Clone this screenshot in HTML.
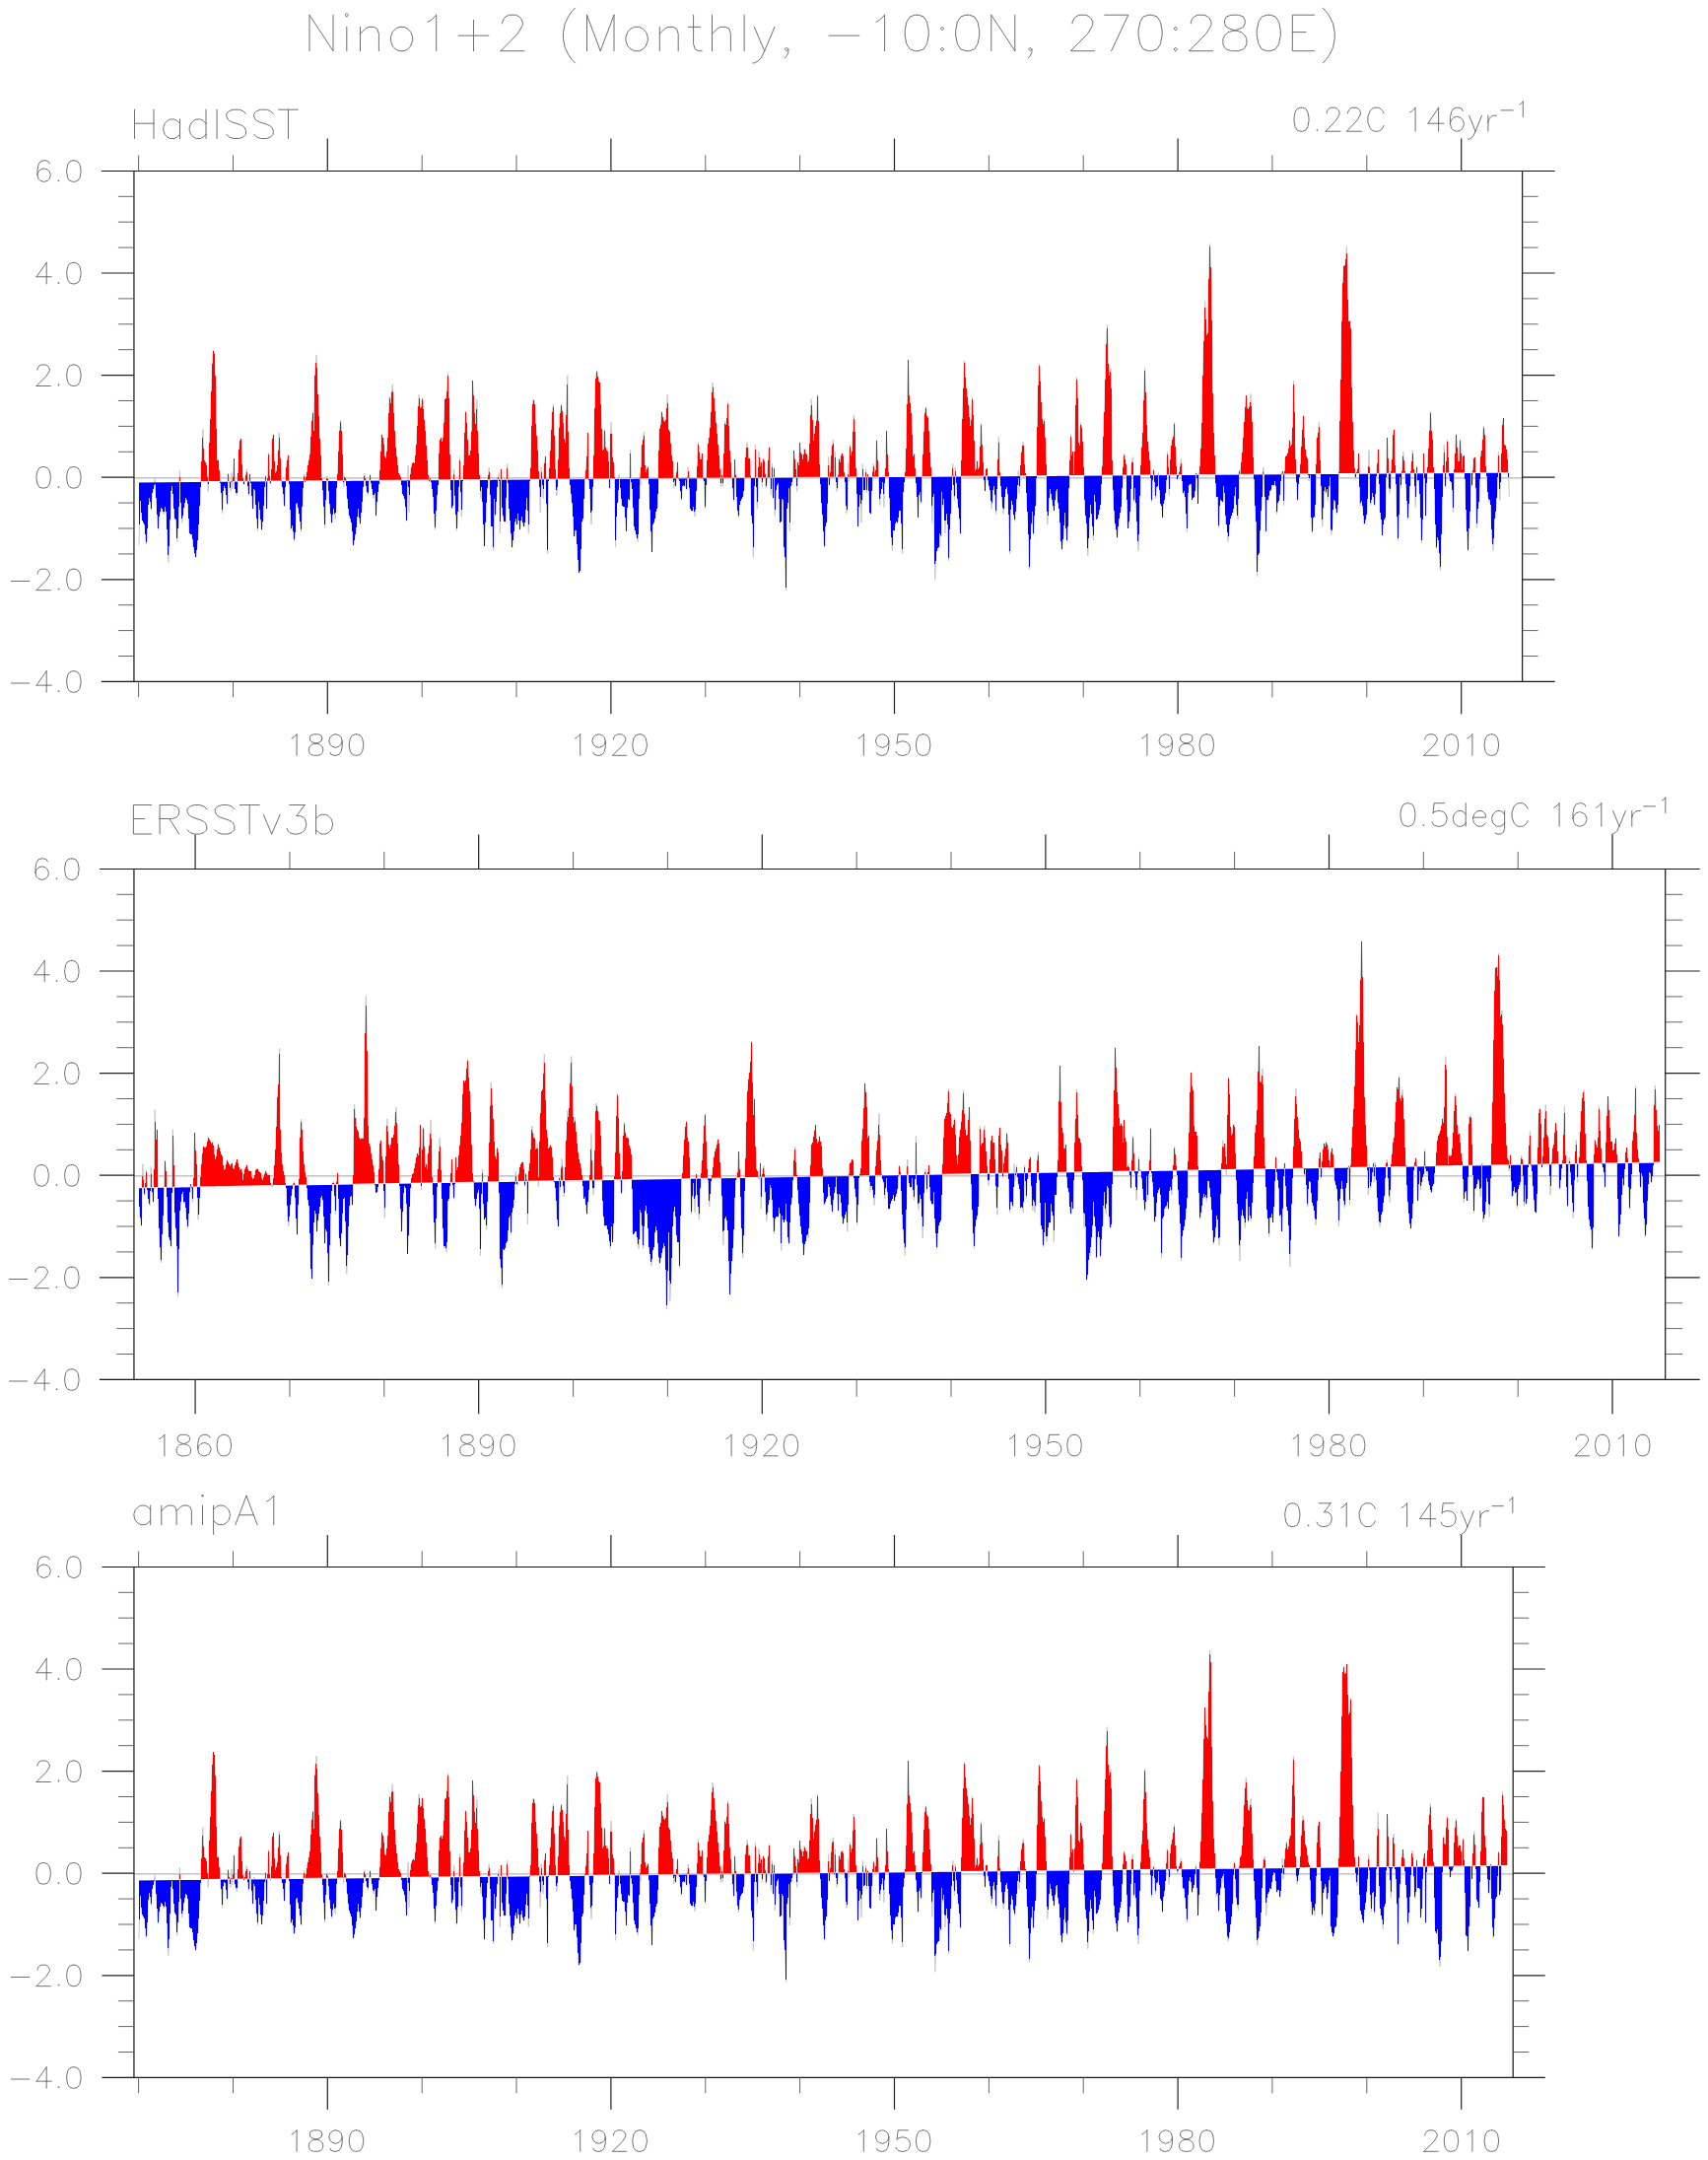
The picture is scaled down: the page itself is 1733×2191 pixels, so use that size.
<!DOCTYPE html>
<html><head><meta charset="utf-8"><title>Nino1+2</title>
<style>html,body{margin:0;padding:0;background:#fff;font-family:"Liberation Sans",sans-serif}svg{display:block}</style>
</head><body>
<svg width="1733" height="2191" viewBox="0 0 1733 2191">
<rect width="1733" height="2191" fill="#fff"/>
<path d="M338.0 51.7L314.0 15.2M314.0 15.2L314.0 51.7M338.0 15.2L338.0 51.7M351.8 51.7L351.8 27.4M351.8 16.9L353.5 15.2L351.8 13.5L350.0 15.2L351.8 16.9M365.5 51.7L365.5 34.3M384.4 51.7L384.4 34.3L382.7 29.1L379.2 27.4L374.1 27.4L370.6 29.1L365.5 34.3M365.5 27.4L365.5 34.3M417.0 45.6L417.0 46.5L413.6 50.0L410.1 51.7L405.0 51.7L401.5 50.0L398.1 46.5L396.4 41.3L396.4 37.8L398.1 32.6L401.5 29.1L405.0 27.4L410.1 27.4L413.6 29.1L417.0 32.6L418.7 37.8L418.7 41.3L417.0 45.6M442.7 51.7L442.7 15.2M434.2 22.2L437.6 20.4L442.7 15.2M480.5 36.1L495.9 36.1M480.5 36.1L465.1 36.1M480.5 36.1L480.5 51.7M480.5 36.1L480.5 20.4M509.7 23.9L509.7 22.2L511.4 18.7L513.1 16.9L516.5 15.2L523.4 15.2L526.8 16.9L528.6 18.7L530.3 22.2L530.3 25.6L525.1 34.3L508.0 51.7M508.0 51.7L532.0 51.7M583.5 63.9L580.1 60.4L576.6 55.2L573.2 48.2L571.5 39.5L571.5 32.6L573.2 23.9L576.6 16.9L580.1 11.7L583.5 8.2M595.5 15.2L595.5 51.7M623.0 51.7L623.0 15.2M609.2 51.7L595.5 15.2M609.2 51.7L623.0 15.2M655.6 45.6L655.6 46.5L652.2 50.0L648.7 51.7L643.6 51.7L640.1 50.0L636.7 46.5L635.0 41.3L635.0 37.8L636.7 32.6L640.1 29.1L643.6 27.4L648.7 27.4L652.2 29.1L655.6 32.6L657.3 37.8L657.3 41.3L655.6 45.6M669.3 51.7L669.3 34.3M688.2 51.7L688.2 34.3L686.5 29.1L683.0 27.4L677.9 27.4L674.5 29.1L669.3 34.3M669.3 27.4L669.3 34.3M698.5 27.4L703.6 27.4M710.5 27.4L703.6 27.4M712.2 51.7L708.8 51.7L705.4 50.0L703.6 44.7L703.6 27.4M703.6 15.2L703.6 27.4M722.5 51.7L722.5 34.3M741.4 51.7L741.4 34.3L739.7 29.1L736.3 27.4L731.1 27.4L727.7 29.1L722.5 34.3M722.5 15.2L722.5 34.3M755.1 51.7L755.1 15.2M765.4 27.4L775.7 51.7M786.0 27.4L775.7 51.7M775.7 51.7L772.3 58.7L768.9 62.1L765.4 63.9L763.7 63.9M799.8 50.0L798.1 51.7L796.3 50.0L798.1 48.2L799.8 50.0M799.8 50.0L799.8 53.4L798.1 56.9L796.3 58.7M841.0 36.1L871.9 36.1M897.6 51.7L897.6 15.2M889.0 22.2L892.5 20.4L897.6 15.2M930.2 15.2L931.9 15.2L937.1 16.9L940.5 22.2L942.2 30.8L942.2 36.1L940.5 44.7L937.1 50.0L931.9 51.7L928.5 51.7L923.4 50.0L919.9 44.7L918.2 36.1L918.2 30.8L919.9 22.2L923.4 16.9L928.5 15.2L930.2 15.2M956.0 27.4L957.7 29.1L956.0 30.8L954.3 29.1L956.0 27.4M956.0 51.7L954.3 50.0L956.0 48.2L957.7 50.0L956.0 51.7M981.7 15.2L983.4 15.2L988.6 16.9L992.0 22.2L993.7 30.8L993.7 36.1L992.0 44.7L988.6 50.0L983.4 51.7L980.0 51.7L974.9 50.0L971.4 44.7L969.7 36.1L969.7 30.8L971.4 22.2L974.9 16.9L980.0 15.2L981.7 15.2M1029.8 51.7L1005.8 15.2M1005.8 15.2L1005.8 51.7M1029.8 15.2L1029.8 51.7M1046.9 50.0L1045.2 51.7L1043.5 50.0L1045.2 48.2L1046.9 50.0M1046.9 50.0L1046.9 53.4L1045.2 56.9L1043.5 58.7M1088.1 23.9L1088.1 22.2L1089.9 18.7L1091.6 16.9L1095.0 15.2L1101.9 15.2L1105.3 16.9L1107.0 18.7L1108.7 22.2L1108.7 25.6L1103.6 34.3L1086.4 51.7M1086.4 51.7L1110.5 51.7M1127.6 51.7L1144.8 15.2L1120.8 15.2M1167.1 15.2L1168.8 15.2L1174.0 16.9L1177.4 22.2L1179.1 30.8L1179.1 36.1L1177.4 44.7L1174.0 50.0L1168.8 51.7L1165.4 51.7L1160.2 50.0L1156.8 44.7L1155.1 36.1L1155.1 30.8L1156.8 22.2L1160.2 16.9L1165.4 15.2L1167.1 15.2M1192.8 27.4L1194.6 29.1L1192.8 30.8L1191.1 29.1L1192.8 27.4M1192.8 51.7L1191.1 50.0L1192.8 48.2L1194.6 50.0L1192.8 51.7M1208.3 23.9L1208.3 22.2L1210.0 18.7L1211.7 16.9L1215.2 15.2L1222.0 15.2L1225.5 16.9L1227.2 18.7L1228.9 22.2L1228.9 25.6L1223.7 34.3L1206.6 51.7M1206.6 51.7L1230.6 51.7M1252.9 30.8L1259.8 32.6L1263.2 36.1L1264.9 39.5L1264.9 44.7L1263.2 48.2L1261.5 50.0L1256.4 51.7L1249.5 51.7L1244.3 50.0L1242.6 48.2L1240.9 44.7L1240.9 39.5L1242.6 36.1L1246.1 32.6L1252.9 30.8M1252.9 30.8L1258.1 29.1L1261.5 27.4L1263.2 23.9L1263.2 20.4L1261.5 16.9L1256.4 15.2L1249.5 15.2L1244.3 16.9L1242.6 20.4L1242.6 23.9L1244.3 27.4L1247.8 29.1L1252.9 30.8M1287.3 15.2L1289.0 15.2L1294.1 16.9L1297.6 22.2L1299.3 30.8L1299.3 36.1L1297.6 44.7L1294.1 50.0L1289.0 51.7L1285.5 51.7L1280.4 50.0L1277.0 44.7L1275.2 36.1L1275.2 30.8L1277.0 22.2L1280.4 16.9L1285.5 15.2L1287.3 15.2M1311.3 32.6L1325.0 32.6M1311.3 32.6L1311.3 51.7L1333.6 51.7M1311.3 32.6L1311.3 15.2L1333.6 15.2M1342.2 8.2L1345.6 11.7L1349.1 16.9L1352.5 23.9L1354.2 32.6L1354.2 39.5L1352.5 48.2L1349.1 55.2L1345.6 60.4L1342.2 63.9" stroke="#707070" stroke-width="1.0" fill="none" stroke-linecap="round" stroke-linejoin="round"/>
<path d="M135.95 484.8H1544.6" stroke="#b4b4b4" stroke-width="1.2" fill="none"/>
<path d="M140.9 553.1L142.3 505.7L144.1 526.7L146.7 532.0L148.4 552.2L149.7 533.8L150.7 507.4L152.0 503.0L153.4 518.0L154.6 498.6L156.3 494.2L157.2 486.3L158.1 498.6L159.0 512.7L160.4 537.3L161.6 523.2L163.4 514.4L165.1 516.2L166.0 521.5L167.8 512.7L169.0 523.2L170.8 570.6L172.2 537.3L173.4 498.6L174.8 491.6L176.0 507.4L177.1 526.7L178.3 523.2L179.7 549.6L181.3 523.2L182.3 477.5L183.2 505.7L184.8 530.2L186.2 516.2L188.8 503.9L190.6 510.9L192.4 540.8L195.0 542.5L196.7 556.6L198.5 565.4L200.3 551.3L201.7 528.5L202.9 505.7L203.8 488.6L204.7 463.5L205.9 435.4L206.9 467.0L208.2 467.9L209.4 470.5L210.4 481.1L211.2 498.6L211.9 482.8L212.6 444.2L214.0 414.3L215.2 373.9L216.4 355.5L217.8 359.9L218.7 386.2L219.6 440.7L220.5 467.0L221.3 465.3L222.7 479.3L223.4 488.4L224.9 503.9L225.7 520.6L226.6 495.1L228.0 491.6L229.2 498.6L230.5 510.9L231.4 480.2L232.8 489.8L234.0 498.6L235.0 479.3L235.9 496.0L237.5 465.3L238.4 495.1L240.3 503.0L241.2 488.3L242.4 456.5L243.8 445.1L244.7 445.1L245.6 474.0L246.8 488.3L247.7 491.6L249.1 484.6L250.3 475.8L251.2 489.8L252.4 503.0L253.5 481.1L254.7 491.6L256.5 516.2L257.9 488.2L259.1 505.7L261.4 539.0L262.6 507.4L263.8 519.7L265.6 538.2L267.0 523.2L268.8 488.1L269.6 482.8L270.5 516.2L271.4 488.1L272.6 459.1L273.7 488.1L274.4 491.6L275.4 481.1L276.3 445.9L277.5 440.7L279.0 481.1L280.2 479.3L281.9 470.5L283.3 438.9L284.6 467.0L285.6 489.0L287.2 496.9L288.6 513.6L289.8 488.0L290.7 470.5L292.5 461.7L293.4 489.0L294.2 505.7L295.1 537.3L296.9 532.0L298.3 548.7L299.5 540.8L300.7 505.7L302.1 512.7L303.9 523.2L305.7 539.0L306.5 514.4L307.8 489.0L308.8 481.1L309.5 489.0L310.9 482.8L312.7 470.5L314.4 463.5L316.2 430.1L317.6 417.8L318.3 449.4L319.4 382.7L321.1 359.9L322.0 389.7L323.2 412.6L324.1 438.9L325.3 456.5L326.4 484.6L327.1 489.0L328.5 514.4L329.7 535.5L331.1 486.3L332.0 482.8L332.9 489.0L334.6 512.7L336.7 531.1L338.2 514.4L339.0 518.0L340.3 526.7L341.3 496.9L342.2 489.0L343.4 460.0L344.6 435.4L345.7 426.6L346.9 442.4L347.8 470.5L348.7 494.2L349.6 482.8L351.0 486.3L352.2 502.1L354.0 521.5L355.7 526.7L357.1 532.0L358.4 553.1L360.1 545.2L361.9 532.0L363.3 514.4L365.4 532.0L367.1 514.4L368.9 489.0L369.8 480.2L371.0 489.0L372.1 496.9L373.3 502.1L374.5 487.4L375.6 481.1L376.4 489.0L378.0 498.6L379.1 505.7L380.3 495.1L381.5 523.2L382.9 503.9L384.3 493.4L385.1 484.6L386.1 467.0L387.3 440.7L389.1 445.9L390.8 467.0L392.1 463.5L393.5 444.2L395.2 402.0L396.6 409.0L398.2 389.7L399.6 421.3L401.4 453.0L403.1 468.8L404.9 482.8L406.1 481.1L407.2 489.0L408.4 500.4L410.2 503.9L411.4 512.7L412.5 528.5L413.5 488.1L414.2 472.3L414.9 519.7L416.0 489.0L416.8 475.8L419.0 468.8L420.7 470.5L422.5 451.2L423.7 428.4L425.1 400.3L426.9 417.8L428.6 403.8L430.0 421.3L431.4 435.4L432.6 453.0L434.4 481.1L435.6 489.0L436.7 484.6L437.9 490.7L439.7 505.7L441.4 537.3L443.2 505.7L444.9 488.1L445.8 447.7L447.6 444.2L449.0 449.4L450.2 437.1L451.4 405.5L453.2 403.8L454.4 378.3L455.5 403.8L456.3 453.0L457.2 485.5L458.1 516.2L459.5 512.7L460.7 475.8L461.6 505.7L463.4 538.2L464.8 514.4L465.7 488.1L466.4 463.5L467.2 488.1L468.3 524.1L469.5 488.1L470.4 475.8L471.3 444.2L472.5 417.8L473.9 433.6L475.3 461.7L477.1 461.7L478.3 449.4L479.5 386.2L480.9 407.3L482.3 433.6L484.1 405.5L484.5 437.1L485.9 468.8L486.7 485.5L488.0 505.7L488.8 488.1L489.7 514.4L491.5 554.0L493.2 514.4L495.0 488.1L496.2 474.0L497.1 488.1L498.5 533.8L499.9 533.8L500.6 558.4L501.5 505.7L502.4 523.2L503.8 505.7L505.0 486.5L506.4 479.3L507.3 540.8L508.5 475.8L509.4 514.4L511.2 528.5L512.9 528.5L514.0 486.4L514.7 470.5L515.4 486.4L516.4 514.4L517.8 532.0L519.6 555.7L521.3 540.8L523.1 523.2L524.5 532.0L525.7 519.7L527.5 537.3L529.2 521.5L531.0 533.8L532.2 533.8L533.6 516.2L534.9 500.4L536.3 540.8L537.5 488.1L538.6 474.0L539.8 417.8L541.0 404.7L542.4 407.3L543.8 435.4L545.1 447.7L546.3 475.8L547.3 486.2L548.2 519.7L549.1 474.0L550.3 488.1L551.2 505.7L552.4 470.5L553.5 462.6L554.4 505.7L555.6 561.9L556.5 488.1L557.9 470.5L559.1 444.2L560.3 419.6L561.4 409.9L562.6 444.2L563.8 486.0L564.9 503.0L566.1 486.0L567.0 442.4L568.4 419.6L569.6 410.8L571.1 421.3L572.3 444.2L573.5 449.4L574.4 424.9L575.8 380.9L576.7 453.0L577.9 486.0L579.3 498.6L581.1 516.2L582.5 544.3L584.2 533.8L586.0 558.4L587.2 581.2L589.0 577.7L590.2 530.2L592.0 525.0L593.0 488.1L594.2 481.1L595.5 463.5L596.5 438.9L597.4 485.8L598.6 496.9L600.0 532.0L601.3 496.9L602.1 485.8L603.0 435.4L604.2 386.2L605.7 375.7L607.1 386.2L608.6 388.0L610.0 421.3L611.3 456.5L612.3 460.0L613.6 435.4L614.8 460.0L616.2 454.7L617.6 468.8L618.5 495.1L619.4 442.4L620.2 428.4L621.1 461.7L622.9 470.5L623.7 488.1L624.6 554.8L625.9 510.9L627.1 509.2L628.1 481.1L629.4 493.4L631.1 512.7L633.8 514.4L635.5 539.0L636.9 505.7L638.5 507.4L639.6 456.5L640.4 488.1L641.7 496.9L643.4 533.8L645.2 540.8L647.3 549.6L648.3 514.4L649.2 479.3L650.1 491.6L651.0 453.0L652.2 449.4L653.4 438.0L654.3 470.5L655.4 479.3L656.6 475.8L657.8 473.2L658.4 488.1L659.2 509.2L660.5 539.0L661.5 560.1L662.4 532.0L664.1 528.5L665.4 519.7L667.1 514.4L668.0 485.3L668.9 435.4L670.3 433.6L671.5 417.8L672.9 424.9L674.2 428.4L675.9 424.9L677.3 400.3L678.2 435.4L679.8 438.9L681.2 460.0L682.6 468.8L683.3 485.2L683.8 495.1L684.7 485.2L685.6 493.4L686.5 479.3L687.5 468.8L688.2 485.2L689.6 488.1L691.4 507.4L692.6 491.6L694.4 493.4L695.6 486.3L696.6 496.9L698.2 474.0L699.1 486.3L700.5 516.2L702.3 518.8L703.7 512.7L705.1 524.1L706.1 505.7L707.2 485.0L708.2 448.6L709.3 458.2L711.0 468.8L712.5 460.0L713.2 485.0L714.6 488.1L715.6 516.2L716.8 485.0L718.1 453.0L720.2 438.9L721.6 416.1L723.0 388.0L724.2 400.3L726.0 423.1L727.7 442.4L730.0 467.0L730.7 479.3L731.4 493.4L732.1 474.9L733.2 493.4L733.9 484.9L734.7 453.0L735.6 427.5L737.0 433.6L738.4 407.3L739.5 431.9L740.5 456.5L741.6 470.5L742.6 484.8L743.7 496.9L744.6 508.3L745.5 466.1L746.7 484.8L747.9 512.7L749.3 525.0L750.7 510.0L752.5 505.7L754.2 503.0L755.5 484.7L756.3 466.1L758.1 448.6L759.5 465.3L760.7 465.3L761.6 484.7L762.5 523.2L763.7 532.0L764.4 565.4L765.1 505.7L765.8 484.6L766.4 451.2L767.2 484.6L768.3 516.2L769.2 484.6L770.0 458.2L771.3 474.0L772.5 468.8L773.4 493.4L774.3 465.3L776.0 468.8L777.1 495.1L778.3 488.1L779.2 470.5L780.6 453.0L781.5 484.5L782.3 502.1L783.4 470.5L784.5 505.7L785.5 474.9L786.2 523.2L787.6 495.1L788.8 491.6L790.1 488.1L791.1 530.2L792.9 528.5L794.1 484.4L795.3 553.1L796.4 561.9L797.6 598.8L798.5 516.2L799.9 507.4L800.6 493.4L801.3 539.0L802.4 493.4L803.8 488.1L804.7 484.4L805.5 457.3L806.9 468.8L808.2 484.3L808.7 498.6L809.4 468.8L810.4 474.9L811.5 449.4L812.6 460.0L814.0 460.9L814.8 468.8L816.1 454.7L817.5 460.0L818.7 460.9L819.9 472.3L821.0 465.3L821.7 444.2L823.1 404.7L824.5 425.7L825.7 451.2L827.0 433.6L828.4 430.1L829.6 400.3L830.5 426.6L831.5 470.5L832.2 484.2L833.3 507.4L834.5 521.5L835.7 542.5L836.6 554.8L837.5 533.8L838.9 528.5L839.8 503.9L840.7 463.5L841.5 491.6L842.4 481.1L843.8 456.5L845.4 445.9L846.5 484.1L847.3 458.2L848.2 484.1L849.1 498.6L850.3 488.1L851.2 464.9L852.6 469.6L853.8 460.0L855.4 460.9L856.5 479.3L857.3 484.0L858.8 520.6L860.0 514.4L860.7 468.8L861.4 488.1L862.3 451.2L863.5 461.7L864.9 456.5L866.1 421.3L867.4 431.9L868.2 470.5L869.1 483.9L870.0 519.7L870.5 533.8L871.9 505.7L873.2 498.6L874.0 530.2L875.3 470.5L876.3 496.9L877.5 496.9L878.4 475.8L879.3 500.4L880.5 481.1L881.4 495.1L882.5 519.7L883.7 521.5L884.6 495.1L885.5 479.3L886.3 470.5L887.7 483.8L888.6 475.8L889.5 446.8L890.7 470.5L891.6 483.8L892.8 512.7L893.7 498.6L895.1 493.4L896.0 482.8L896.9 514.4L897.7 483.7L898.6 474.0L899.5 437.1L900.7 465.3L901.8 483.7L903.0 519.7L904.2 539.0L905.3 558.4L906.2 537.3L907.4 539.0L908.8 528.5L910.9 530.2L912.7 516.2L914.1 519.7L915.7 561.9L916.5 498.6L917.6 488.1L918.3 483.6L919.4 460.0L920.2 424.9L921.5 365.1L922.7 407.3L924.1 410.8L925.3 435.4L926.4 463.5L928.0 460.0L928.8 483.5L930.2 496.9L931.5 525.0L932.5 502.1L933.8 498.6L934.6 510.9L935.5 483.5L936.9 453.0L938.2 421.3L939.4 412.6L940.8 424.9L942.0 423.1L943.1 453.0L944.3 470.5L945.2 483.4L945.7 530.2L946.9 491.6L947.8 505.7L948.7 588.2L949.9 560.1L951.3 556.6L952.7 554.8L953.6 539.0L954.8 544.3L955.7 488.1L956.6 514.4L957.8 503.9L958.9 540.8L960.1 516.2L961.5 532.0L962.6 568.9L963.6 533.8L965.0 514.4L965.9 484.2L966.8 470.5L967.5 491.6L968.4 507.4L969.2 474.0L970.1 484.2L971.5 505.7L973.3 523.2L974.5 541.7L975.2 484.2L975.9 445.9L977.1 405.5L978.6 366.0L979.8 388.0L981.2 400.3L982.9 414.3L984.3 433.6L985.6 424.9L986.6 402.9L987.9 428.4L988.7 453.0L989.6 481.1L990.5 475.8L991.7 467.0L993.0 481.1L994.0 467.0L995.4 429.2L996.6 453.0L997.9 475.8L998.8 491.6L999.6 498.6L1000.5 475.8L1001.7 474.9L1002.6 488.1L1003.7 493.4L1004.9 498.6L1006.1 516.2L1007.5 496.9L1008.8 491.6L1009.8 505.7L1010.7 521.5L1011.9 484.2L1013.3 443.3L1014.6 481.1L1015.4 491.6L1016.7 505.7L1018.1 521.5L1019.5 503.9L1020.7 495.1L1022.1 493.4L1023.3 514.4L1024.6 561.9L1025.6 512.7L1026.9 505.7L1028.6 523.2L1030.0 528.6L1030.9 511.0L1032.1 500.5L1033.2 477.7L1034.2 500.5L1035.3 474.2L1036.7 456.6L1038.3 447.8L1039.7 474.2L1040.9 482.7L1041.9 511.0L1043.2 528.6L1044.4 577.8L1045.8 539.2L1047.6 518.1L1048.4 542.7L1049.7 519.8L1051.1 507.5L1052.0 458.4L1053.2 398.6L1054.4 368.8L1055.8 391.6L1057.2 423.2L1058.6 430.2L1059.9 425.0L1060.9 456.6L1062.0 482.6L1062.7 532.1L1063.9 518.1L1065.1 493.5L1066.5 500.5L1067.8 509.3L1069.5 518.1L1070.8 504.0L1072.2 491.7L1073.6 511.0L1075.0 518.1L1076.2 546.2L1077.4 557.6L1078.8 544.4L1080.4 518.1L1081.5 535.6L1082.7 549.7L1083.8 528.6L1084.8 482.4L1085.9 458.4L1086.6 440.8L1087.6 463.6L1088.5 458.4L1089.4 482.4L1090.2 475.9L1091.1 425.0L1092.4 382.8L1093.6 405.7L1094.6 453.1L1095.7 451.3L1096.6 428.5L1098.2 437.3L1099.0 463.6L1099.9 482.3L1100.8 518.1L1102.4 528.6L1103.8 563.7L1105.2 528.6L1106.6 511.0L1108.2 528.6L1109.4 547.9L1110.8 490.0L1112.2 526.9L1114.0 525.1L1115.2 518.1L1116.4 514.6L1117.3 493.5L1118.2 482.2L1119.6 440.8L1121.0 405.7L1122.2 356.5L1123.4 329.2L1124.5 368.8L1125.7 382.8L1127.0 374.0L1127.8 405.7L1128.7 482.1L1129.8 502.3L1131.0 528.6L1132.2 533.9L1133.6 546.2L1134.9 528.6L1136.3 521.6L1137.5 514.6L1138.6 493.5L1139.4 475.9L1140.7 460.1L1141.9 468.0L1142.8 472.4L1143.6 511.0L1144.5 535.6L1145.9 526.9L1147.2 511.0L1148.0 472.4L1149.4 463.6L1150.3 509.3L1151.6 493.5L1153.0 518.1L1154.2 544.4L1155.1 558.5L1156.1 519.8L1157.0 481.9L1158.2 458.4L1159.6 437.3L1160.5 405.7L1161.6 373.2L1162.8 405.7L1163.8 440.8L1165.3 456.6L1166.5 467.1L1167.4 481.8L1168.4 509.3L1169.3 490.0L1170.3 475.9L1171.2 481.8L1172.3 505.8L1173.2 493.5L1174.4 495.2L1175.4 479.4L1176.3 493.5L1177.5 511.0L1178.6 512.8L1179.5 525.1L1180.5 511.0L1181.9 505.8L1182.8 497.0L1183.9 481.7L1184.6 458.4L1185.6 475.9L1186.3 502.3L1187.0 481.7L1187.7 460.1L1188.8 449.6L1189.8 444.3L1190.7 442.5L1191.6 428.5L1192.7 458.4L1193.7 475.9L1194.6 486.5L1196.0 481.6L1197.2 475.9L1198.3 465.4L1199.0 481.6L1200.4 500.5L1201.8 497.0L1203.0 509.3L1204.4 540.0L1205.7 493.5L1207.1 491.7L1208.3 488.2L1209.5 506.7L1210.9 504.0L1212.3 504.9L1213.0 481.5L1213.7 479.4L1214.4 482.4L1215.5 511.0L1216.5 482.4L1217.6 472.4L1218.8 449.6L1219.7 423.2L1220.6 375.8L1221.5 345.9L1222.7 305.5L1223.7 328.4L1224.6 340.7L1225.5 338.9L1226.4 286.2L1227.6 247.6L1228.7 275.7L1229.7 335.4L1230.6 405.7L1231.7 446.1L1232.5 461.9L1233.2 482.4L1234.1 504.0L1235.5 504.0L1236.6 535.6L1237.8 505.8L1239.4 507.5L1240.8 509.3L1241.8 486.5L1242.9 507.5L1243.9 532.1L1245.0 532.1L1246.1 549.7L1247.5 532.1L1248.7 525.1L1249.9 521.6L1251.3 518.1L1252.6 502.3L1253.6 493.5L1254.8 518.1L1256.2 526.9L1256.9 482.4L1257.6 476.8L1258.4 482.4L1259.2 472.4L1260.6 458.4L1261.9 437.3L1263.3 416.2L1264.5 401.3L1265.7 416.2L1267.1 414.4L1268.4 410.0L1269.1 399.5L1269.9 423.2L1270.6 428.5L1271.5 463.6L1272.4 482.4L1273.3 509.3L1274.5 528.6L1275.6 584.8L1276.4 563.7L1277.7 560.2L1279.1 521.6L1280.3 511.0L1281.2 482.4L1281.9 474.2L1282.6 482.4L1283.5 504.0L1284.5 539.2L1285.6 504.0L1286.8 507.5L1288.2 498.8L1289.6 497.0L1290.8 490.0L1292.1 493.5L1293.5 488.2L1294.7 493.5L1295.6 521.6L1296.6 509.3L1298.2 507.5L1299.3 490.0L1300.2 480.9L1301.4 477.7L1302.1 480.9L1302.6 512.8L1303.3 480.9L1304.4 463.6L1305.8 461.9L1307.2 458.4L1308.4 446.1L1309.3 453.1L1310.5 451.3L1311.6 432.0L1312.6 386.3L1313.5 418.0L1314.2 458.4L1315.1 480.8L1316.5 507.5L1317.7 488.2L1319.0 480.8L1319.8 465.4L1321.1 442.5L1322.5 421.5L1323.7 447.8L1325.1 461.9L1326.5 464.5L1327.4 480.7L1328.1 488.2L1329.1 480.7L1330.0 482.9L1330.5 525.1L1331.4 540.9L1332.6 523.3L1334.2 525.1L1335.3 479.4L1336.1 446.1L1337.4 440.8L1338.4 428.5L1339.3 463.6L1340.2 479.4L1340.9 511.0L1341.8 533.9L1342.8 507.5L1344.1 490.0L1345.3 500.5L1346.3 491.7L1347.2 507.5L1348.4 493.5L1349.7 482.9L1350.6 542.7L1351.6 537.4L1352.8 511.0L1354.1 504.0L1355.1 512.8L1356.3 521.6L1357.6 511.0L1358.5 479.4L1359.3 433.8L1360.2 405.7L1361.3 335.4L1362.3 291.5L1363.4 270.4L1365.1 268.6L1366.4 250.2L1367.2 295.0L1368.3 326.6L1370.4 324.9L1371.3 384.6L1372.2 418.0L1373.4 454.8L1374.4 472.4L1375.1 486.5L1376.2 479.4L1377.4 477.7L1378.5 460.1L1379.2 479.4L1379.9 512.8L1381.3 507.5L1382.2 511.0L1383.2 518.1L1384.1 532.1L1385.3 528.6L1386.6 521.6L1387.6 504.0L1388.3 480.3L1389.0 456.6L1389.7 480.3L1390.6 512.8L1391.5 507.5L1392.7 498.8L1393.6 504.0L1394.6 512.8L1395.7 498.8L1396.7 480.2L1397.6 468.9L1398.5 455.7L1399.2 480.2L1400.3 518.1L1401.7 528.6L1402.5 542.7L1403.8 528.6L1405.5 525.1L1406.6 480.2L1407.5 444.3L1408.5 465.4L1409.2 493.5L1410.3 500.5L1411.3 480.1L1412.6 465.4L1413.6 439.0L1414.7 435.5L1415.5 472.4L1416.2 480.1L1417.3 518.1L1418.4 548.8L1419.6 519.8L1420.6 480.1L1421.3 495.2L1422.4 480.1L1423.8 458.4L1424.9 472.4L1425.7 480.0L1427.0 497.0L1428.4 526.9L1429.8 507.5L1431.0 482.9L1432.2 472.4L1433.3 456.6L1434.3 474.2L1435.0 480.0L1436.3 514.6L1437.0 480.0L1437.7 472.4L1438.6 488.2L1439.8 486.5L1441.0 511.0L1442.4 550.6L1443.6 525.1L1444.5 460.1L1445.4 479.9L1446.5 523.3L1447.3 493.5L1448.2 479.9L1449.4 456.6L1450.5 437.3L1451.4 417.1L1452.4 435.5L1453.5 446.1L1454.4 472.4L1455.1 479.8L1456.1 519.8L1457.3 556.7L1458.8 542.7L1460.0 551.4L1461.4 578.7L1462.6 539.2L1463.5 504.0L1464.2 479.8L1465.3 451.3L1466.5 493.5L1467.0 479.7L1467.7 463.6L1468.6 446.1L1469.5 463.6L1470.2 479.7L1471.1 488.2L1473.2 489.1L1474.4 519.8L1475.3 479.7L1476.3 463.6L1477.5 440.8L1478.8 458.4L1479.7 470.6L1480.7 467.1L1481.4 445.2L1482.5 460.1L1483.3 479.6L1484.2 463.6L1485.6 461.9L1486.3 479.6L1487.6 519.8L1488.6 540.9L1489.5 558.5L1490.7 532.1L1491.6 518.1L1492.5 479.6L1493.4 493.5L1494.4 479.6L1495.1 465.4L1496.5 463.6L1497.2 479.5L1498.3 535.6L1499.2 518.1L1500.4 511.0L1501.8 479.5L1502.7 458.4L1503.9 456.6L1505.3 432.0L1506.5 440.8L1507.4 472.4L1508.3 479.5L1509.5 498.8L1510.9 509.3L1512.2 504.0L1513.6 539.2L1515.0 558.5L1516.2 528.6L1517.6 518.1L1518.8 500.5L1519.7 479.4L1520.4 458.4L1521.1 479.4L1521.8 507.5L1522.9 479.4L1523.9 447.8L1524.6 428.5L1525.5 424.1L1526.4 451.3L1528.1 452.2L1529.4 463.6L1530.2 479.3L1530.8 488.2L1531.3 504.0" stroke="#c8c8c8" stroke-width="1" fill="none" stroke-linejoin="miter" stroke-miterlimit="10"/>
<clipPath id="u1"><path d="M139.9 173.45H1532.3V478.9L139.9 488.6Z"/></clipPath>
<clipPath id="d1"><path d="M139.9 691.3499999999999H1532.3V479.7L139.9 489.4Z"/></clipPath>
<path d="M140.9 553.1L142.3 505.7L144.1 526.7L146.7 532.0L148.4 552.2L149.7 533.8L150.7 507.4L152.0 503.0L153.4 518.0L154.6 498.6L156.3 494.2L157.2 486.3L158.1 498.6L159.0 512.7L160.4 537.3L161.6 523.2L163.4 514.4L165.1 516.2L166.0 521.5L167.8 512.7L169.0 523.2L170.8 570.6L172.2 537.3L173.4 498.6L174.8 491.6L176.0 507.4L177.1 526.7L178.3 523.2L179.7 549.6L181.3 523.2L182.3 477.5L183.2 505.7L184.8 530.2L186.2 516.2L188.8 503.9L190.6 510.9L192.4 540.8L195.0 542.5L196.7 556.6L198.5 565.4L200.3 551.3L201.7 528.5L202.9 505.7L203.8 488.6L204.7 463.5L205.9 435.4L206.9 467.0L208.2 467.9L209.4 470.5L210.4 481.1L211.2 498.6L211.9 482.8L212.6 444.2L214.0 414.3L215.2 373.9L216.4 355.5L217.8 359.9L218.7 386.2L219.6 440.7L220.5 467.0L221.3 465.3L222.7 479.3L223.4 488.4L224.9 503.9L225.7 520.6L226.6 495.1L228.0 491.6L229.2 498.6L230.5 510.9L231.4 480.2L232.8 489.8L234.0 498.6L235.0 479.3L235.9 496.0L237.5 465.3L238.4 495.1L240.3 503.0L241.2 488.3L242.4 456.5L243.8 445.1L244.7 445.1L245.6 474.0L246.8 488.3L247.7 491.6L249.1 484.6L250.3 475.8L251.2 489.8L252.4 503.0L253.5 481.1L254.7 491.6L256.5 516.2L257.9 488.2L259.1 505.7L261.4 539.0L262.6 507.4L263.8 519.7L265.6 538.2L267.0 523.2L268.8 488.1L269.6 482.8L270.5 516.2L271.4 488.1L272.6 459.1L273.7 488.1L274.4 491.6L275.4 481.1L276.3 445.9L277.5 440.7L279.0 481.1L280.2 479.3L281.9 470.5L283.3 438.9L284.6 467.0L285.6 489.0L287.2 496.9L288.6 513.6L289.8 488.0L290.7 470.5L292.5 461.7L293.4 489.0L294.2 505.7L295.1 537.3L296.9 532.0L298.3 548.7L299.5 540.8L300.7 505.7L302.1 512.7L303.9 523.2L305.7 539.0L306.5 514.4L307.8 489.0L308.8 481.1L309.5 489.0L310.9 482.8L312.7 470.5L314.4 463.5L316.2 430.1L317.6 417.8L318.3 449.4L319.4 382.7L321.1 359.9L322.0 389.7L323.2 412.6L324.1 438.9L325.3 456.5L326.4 484.6L327.1 489.0L328.5 514.4L329.7 535.5L331.1 486.3L332.0 482.8L332.9 489.0L334.6 512.7L336.7 531.1L338.2 514.4L339.0 518.0L340.3 526.7L341.3 496.9L342.2 489.0L343.4 460.0L344.6 435.4L345.7 426.6L346.9 442.4L347.8 470.5L348.7 494.2L349.6 482.8L351.0 486.3L352.2 502.1L354.0 521.5L355.7 526.7L357.1 532.0L358.4 553.1L360.1 545.2L361.9 532.0L363.3 514.4L365.4 532.0L367.1 514.4L368.9 489.0L369.8 480.2L371.0 489.0L372.1 496.9L373.3 502.1L374.5 487.4L375.6 481.1L376.4 489.0L378.0 498.6L379.1 505.7L380.3 495.1L381.5 523.2L382.9 503.9L384.3 493.4L385.1 484.6L386.1 467.0L387.3 440.7L389.1 445.9L390.8 467.0L392.1 463.5L393.5 444.2L395.2 402.0L396.6 409.0L398.2 389.7L399.6 421.3L401.4 453.0L403.1 468.8L404.9 482.8L406.1 481.1L407.2 489.0L408.4 500.4L410.2 503.9L411.4 512.7L412.5 528.5L413.5 488.1L414.2 472.3L414.9 519.7L416.0 489.0L416.8 475.8L419.0 468.8L420.7 470.5L422.5 451.2L423.7 428.4L425.1 400.3L426.9 417.8L428.6 403.8L430.0 421.3L431.4 435.4L432.6 453.0L434.4 481.1L435.6 489.0L436.7 484.6L437.9 490.7L439.7 505.7L441.4 537.3L443.2 505.7L444.9 488.1L445.8 447.7L447.6 444.2L449.0 449.4L450.2 437.1L451.4 405.5L453.2 403.8L454.4 378.3L455.5 403.8L456.3 453.0L457.2 485.5L458.1 516.2L459.5 512.7L460.7 475.8L461.6 505.7L463.4 538.2L464.8 514.4L465.7 488.1L466.4 463.5L467.2 488.1L468.3 524.1L469.5 488.1L470.4 475.8L471.3 444.2L472.5 417.8L473.9 433.6L475.3 461.7L477.1 461.7L478.3 449.4L479.5 386.2L480.9 407.3L482.3 433.6L484.1 405.5L484.5 437.1L485.9 468.8L486.7 485.5L488.0 505.7L488.8 488.1L489.7 514.4L491.5 554.0L493.2 514.4L495.0 488.1L496.2 474.0L497.1 488.1L498.5 533.8L499.9 533.8L500.6 558.4L501.5 505.7L502.4 523.2L503.8 505.7L505.0 486.5L506.4 479.3L507.3 540.8L508.5 475.8L509.4 514.4L511.2 528.5L512.9 528.5L514.0 486.4L514.7 470.5L515.4 486.4L516.4 514.4L517.8 532.0L519.6 555.7L521.3 540.8L523.1 523.2L524.5 532.0L525.7 519.7L527.5 537.3L529.2 521.5L531.0 533.8L532.2 533.8L533.6 516.2L534.9 500.4L536.3 540.8L537.5 488.1L538.6 474.0L539.8 417.8L541.0 404.7L542.4 407.3L543.8 435.4L545.1 447.7L546.3 475.8L547.3 486.2L548.2 519.7L549.1 474.0L550.3 488.1L551.2 505.7L552.4 470.5L553.5 462.6L554.4 505.7L555.6 561.9L556.5 488.1L557.9 470.5L559.1 444.2L560.3 419.6L561.4 409.9L562.6 444.2L563.8 486.0L564.9 503.0L566.1 486.0L567.0 442.4L568.4 419.6L569.6 410.8L571.1 421.3L572.3 444.2L573.5 449.4L574.4 424.9L575.8 380.9L576.7 453.0L577.9 486.0L579.3 498.6L581.1 516.2L582.5 544.3L584.2 533.8L586.0 558.4L587.2 581.2L589.0 577.7L590.2 530.2L592.0 525.0L593.0 488.1L594.2 481.1L595.5 463.5L596.5 438.9L597.4 485.8L598.6 496.9L600.0 532.0L601.3 496.9L602.1 485.8L603.0 435.4L604.2 386.2L605.7 375.7L607.1 386.2L608.6 388.0L610.0 421.3L611.3 456.5L612.3 460.0L613.6 435.4L614.8 460.0L616.2 454.7L617.6 468.8L618.5 495.1L619.4 442.4L620.2 428.4L621.1 461.7L622.9 470.5L623.7 488.1L624.6 554.8L625.9 510.9L627.1 509.2L628.1 481.1L629.4 493.4L631.1 512.7L633.8 514.4L635.5 539.0L636.9 505.7L638.5 507.4L639.6 456.5L640.4 488.1L641.7 496.9L643.4 533.8L645.2 540.8L647.3 549.6L648.3 514.4L649.2 479.3L650.1 491.6L651.0 453.0L652.2 449.4L653.4 438.0L654.3 470.5L655.4 479.3L656.6 475.8L657.8 473.2L658.4 488.1L659.2 509.2L660.5 539.0L661.5 560.1L662.4 532.0L664.1 528.5L665.4 519.7L667.1 514.4L668.0 485.3L668.9 435.4L670.3 433.6L671.5 417.8L672.9 424.9L674.2 428.4L675.9 424.9L677.3 400.3L678.2 435.4L679.8 438.9L681.2 460.0L682.6 468.8L683.3 485.2L683.8 495.1L684.7 485.2L685.6 493.4L686.5 479.3L687.5 468.8L688.2 485.2L689.6 488.1L691.4 507.4L692.6 491.6L694.4 493.4L695.6 486.3L696.6 496.9L698.2 474.0L699.1 486.3L700.5 516.2L702.3 518.8L703.7 512.7L705.1 524.1L706.1 505.7L707.2 485.0L708.2 448.6L709.3 458.2L711.0 468.8L712.5 460.0L713.2 485.0L714.6 488.1L715.6 516.2L716.8 485.0L718.1 453.0L720.2 438.9L721.6 416.1L723.0 388.0L724.2 400.3L726.0 423.1L727.7 442.4L730.0 467.0L730.7 479.3L731.4 493.4L732.1 474.9L733.2 493.4L733.9 484.9L734.7 453.0L735.6 427.5L737.0 433.6L738.4 407.3L739.5 431.9L740.5 456.5L741.6 470.5L742.6 484.8L743.7 496.9L744.6 508.3L745.5 466.1L746.7 484.8L747.9 512.7L749.3 525.0L750.7 510.0L752.5 505.7L754.2 503.0L755.5 484.7L756.3 466.1L758.1 448.6L759.5 465.3L760.7 465.3L761.6 484.7L762.5 523.2L763.7 532.0L764.4 565.4L765.1 505.7L765.8 484.6L766.4 451.2L767.2 484.6L768.3 516.2L769.2 484.6L770.0 458.2L771.3 474.0L772.5 468.8L773.4 493.4L774.3 465.3L776.0 468.8L777.1 495.1L778.3 488.1L779.2 470.5L780.6 453.0L781.5 484.5L782.3 502.1L783.4 470.5L784.5 505.7L785.5 474.9L786.2 523.2L787.6 495.1L788.8 491.6L790.1 488.1L791.1 530.2L792.9 528.5L794.1 484.4L795.3 553.1L796.4 561.9L797.6 598.8L798.5 516.2L799.9 507.4L800.6 493.4L801.3 539.0L802.4 493.4L803.8 488.1L804.7 484.4L805.5 457.3L806.9 468.8L808.2 484.3L808.7 498.6L809.4 468.8L810.4 474.9L811.5 449.4L812.6 460.0L814.0 460.9L814.8 468.8L816.1 454.7L817.5 460.0L818.7 460.9L819.9 472.3L821.0 465.3L821.7 444.2L823.1 404.7L824.5 425.7L825.7 451.2L827.0 433.6L828.4 430.1L829.6 400.3L830.5 426.6L831.5 470.5L832.2 484.2L833.3 507.4L834.5 521.5L835.7 542.5L836.6 554.8L837.5 533.8L838.9 528.5L839.8 503.9L840.7 463.5L841.5 491.6L842.4 481.1L843.8 456.5L845.4 445.9L846.5 484.1L847.3 458.2L848.2 484.1L849.1 498.6L850.3 488.1L851.2 464.9L852.6 469.6L853.8 460.0L855.4 460.9L856.5 479.3L857.3 484.0L858.8 520.6L860.0 514.4L860.7 468.8L861.4 488.1L862.3 451.2L863.5 461.7L864.9 456.5L866.1 421.3L867.4 431.9L868.2 470.5L869.1 483.9L870.0 519.7L870.5 533.8L871.9 505.7L873.2 498.6L874.0 530.2L875.3 470.5L876.3 496.9L877.5 496.9L878.4 475.8L879.3 500.4L880.5 481.1L881.4 495.1L882.5 519.7L883.7 521.5L884.6 495.1L885.5 479.3L886.3 470.5L887.7 483.8L888.6 475.8L889.5 446.8L890.7 470.5L891.6 483.8L892.8 512.7L893.7 498.6L895.1 493.4L896.0 482.8L896.9 514.4L897.7 483.7L898.6 474.0L899.5 437.1L900.7 465.3L901.8 483.7L903.0 519.7L904.2 539.0L905.3 558.4L906.2 537.3L907.4 539.0L908.8 528.5L910.9 530.2L912.7 516.2L914.1 519.7L915.7 561.9L916.5 498.6L917.6 488.1L918.3 483.6L919.4 460.0L920.2 424.9L921.5 365.1L922.7 407.3L924.1 410.8L925.3 435.4L926.4 463.5L928.0 460.0L928.8 483.5L930.2 496.9L931.5 525.0L932.5 502.1L933.8 498.6L934.6 510.9L935.5 483.5L936.9 453.0L938.2 421.3L939.4 412.6L940.8 424.9L942.0 423.1L943.1 453.0L944.3 470.5L945.2 483.4L945.7 530.2L946.9 491.6L947.8 505.7L948.7 588.2L949.9 560.1L951.3 556.6L952.7 554.8L953.6 539.0L954.8 544.3L955.7 488.1L956.6 514.4L957.8 503.9L958.9 540.8L960.1 516.2L961.5 532.0L962.6 568.9L963.6 533.8L965.0 514.4L965.9 484.2L966.8 470.5L967.5 491.6L968.4 507.4L969.2 474.0L970.1 484.2L971.5 505.7L973.3 523.2L974.5 541.7L975.2 484.2L975.9 445.9L977.1 405.5L978.6 366.0L979.8 388.0L981.2 400.3L982.9 414.3L984.3 433.6L985.6 424.9L986.6 402.9L987.9 428.4L988.7 453.0L989.6 481.1L990.5 475.8L991.7 467.0L993.0 481.1L994.0 467.0L995.4 429.2L996.6 453.0L997.9 475.8L998.8 491.6L999.6 498.6L1000.5 475.8L1001.7 474.9L1002.6 488.1L1003.7 493.4L1004.9 498.6L1006.1 516.2L1007.5 496.9L1008.8 491.6L1009.8 505.7L1010.7 521.5L1011.9 484.2L1013.3 443.3L1014.6 481.1L1015.4 491.6L1016.7 505.7L1018.1 521.5L1019.5 503.9L1020.7 495.1L1022.1 493.4L1023.3 514.4L1024.6 561.9L1025.6 512.7L1026.9 505.7L1028.6 523.2L1030.0 528.6L1030.9 511.0L1032.1 500.5L1033.2 477.7L1034.2 500.5L1035.3 474.2L1036.7 456.6L1038.3 447.8L1039.7 474.2L1040.9 482.7L1041.9 511.0L1043.2 528.6L1044.4 577.8L1045.8 539.2L1047.6 518.1L1048.4 542.7L1049.7 519.8L1051.1 507.5L1052.0 458.4L1053.2 398.6L1054.4 368.8L1055.8 391.6L1057.2 423.2L1058.6 430.2L1059.9 425.0L1060.9 456.6L1062.0 482.6L1062.7 532.1L1063.9 518.1L1065.1 493.5L1066.5 500.5L1067.8 509.3L1069.5 518.1L1070.8 504.0L1072.2 491.7L1073.6 511.0L1075.0 518.1L1076.2 546.2L1077.4 557.6L1078.8 544.4L1080.4 518.1L1081.5 535.6L1082.7 549.7L1083.8 528.6L1084.8 482.4L1085.9 458.4L1086.6 440.8L1087.6 463.6L1088.5 458.4L1089.4 482.4L1090.2 475.9L1091.1 425.0L1092.4 382.8L1093.6 405.7L1094.6 453.1L1095.7 451.3L1096.6 428.5L1098.2 437.3L1099.0 463.6L1099.9 482.3L1100.8 518.1L1102.4 528.6L1103.8 563.7L1105.2 528.6L1106.6 511.0L1108.2 528.6L1109.4 547.9L1110.8 490.0L1112.2 526.9L1114.0 525.1L1115.2 518.1L1116.4 514.6L1117.3 493.5L1118.2 482.2L1119.6 440.8L1121.0 405.7L1122.2 356.5L1123.4 329.2L1124.5 368.8L1125.7 382.8L1127.0 374.0L1127.8 405.7L1128.7 482.1L1129.8 502.3L1131.0 528.6L1132.2 533.9L1133.6 546.2L1134.9 528.6L1136.3 521.6L1137.5 514.6L1138.6 493.5L1139.4 475.9L1140.7 460.1L1141.9 468.0L1142.8 472.4L1143.6 511.0L1144.5 535.6L1145.9 526.9L1147.2 511.0L1148.0 472.4L1149.4 463.6L1150.3 509.3L1151.6 493.5L1153.0 518.1L1154.2 544.4L1155.1 558.5L1156.1 519.8L1157.0 481.9L1158.2 458.4L1159.6 437.3L1160.5 405.7L1161.6 373.2L1162.8 405.7L1163.8 440.8L1165.3 456.6L1166.5 467.1L1167.4 481.8L1168.4 509.3L1169.3 490.0L1170.3 475.9L1171.2 481.8L1172.3 505.8L1173.2 493.5L1174.4 495.2L1175.4 479.4L1176.3 493.5L1177.5 511.0L1178.6 512.8L1179.5 525.1L1180.5 511.0L1181.9 505.8L1182.8 497.0L1183.9 481.7L1184.6 458.4L1185.6 475.9L1186.3 502.3L1187.0 481.7L1187.7 460.1L1188.8 449.6L1189.8 444.3L1190.7 442.5L1191.6 428.5L1192.7 458.4L1193.7 475.9L1194.6 486.5L1196.0 481.6L1197.2 475.9L1198.3 465.4L1199.0 481.6L1200.4 500.5L1201.8 497.0L1203.0 509.3L1204.4 540.0L1205.7 493.5L1207.1 491.7L1208.3 488.2L1209.5 506.7L1210.9 504.0L1212.3 504.9L1213.0 481.5L1213.7 479.4L1214.4 482.4L1215.5 511.0L1216.5 482.4L1217.6 472.4L1218.8 449.6L1219.7 423.2L1220.6 375.8L1221.5 345.9L1222.7 305.5L1223.7 328.4L1224.6 340.7L1225.5 338.9L1226.4 286.2L1227.6 247.6L1228.7 275.7L1229.7 335.4L1230.6 405.7L1231.7 446.1L1232.5 461.9L1233.2 482.4L1234.1 504.0L1235.5 504.0L1236.6 535.6L1237.8 505.8L1239.4 507.5L1240.8 509.3L1241.8 486.5L1242.9 507.5L1243.9 532.1L1245.0 532.1L1246.1 549.7L1247.5 532.1L1248.7 525.1L1249.9 521.6L1251.3 518.1L1252.6 502.3L1253.6 493.5L1254.8 518.1L1256.2 526.9L1256.9 482.4L1257.6 476.8L1258.4 482.4L1259.2 472.4L1260.6 458.4L1261.9 437.3L1263.3 416.2L1264.5 401.3L1265.7 416.2L1267.1 414.4L1268.4 410.0L1269.1 399.5L1269.9 423.2L1270.6 428.5L1271.5 463.6L1272.4 482.4L1273.3 509.3L1274.5 528.6L1275.6 584.8L1276.4 563.7L1277.7 560.2L1279.1 521.6L1280.3 511.0L1281.2 482.4L1281.9 474.2L1282.6 482.4L1283.5 504.0L1284.5 539.2L1285.6 504.0L1286.8 507.5L1288.2 498.8L1289.6 497.0L1290.8 490.0L1292.1 493.5L1293.5 488.2L1294.7 493.5L1295.6 521.6L1296.6 509.3L1298.2 507.5L1299.3 490.0L1300.2 480.9L1301.4 477.7L1302.1 480.9L1302.6 512.8L1303.3 480.9L1304.4 463.6L1305.8 461.9L1307.2 458.4L1308.4 446.1L1309.3 453.1L1310.5 451.3L1311.6 432.0L1312.6 386.3L1313.5 418.0L1314.2 458.4L1315.1 480.8L1316.5 507.5L1317.7 488.2L1319.0 480.8L1319.8 465.4L1321.1 442.5L1322.5 421.5L1323.7 447.8L1325.1 461.9L1326.5 464.5L1327.4 480.7L1328.1 488.2L1329.1 480.7L1330.0 482.9L1330.5 525.1L1331.4 540.9L1332.6 523.3L1334.2 525.1L1335.3 479.4L1336.1 446.1L1337.4 440.8L1338.4 428.5L1339.3 463.6L1340.2 479.4L1340.9 511.0L1341.8 533.9L1342.8 507.5L1344.1 490.0L1345.3 500.5L1346.3 491.7L1347.2 507.5L1348.4 493.5L1349.7 482.9L1350.6 542.7L1351.6 537.4L1352.8 511.0L1354.1 504.0L1355.1 512.8L1356.3 521.6L1357.6 511.0L1358.5 479.4L1359.3 433.8L1360.2 405.7L1361.3 335.4L1362.3 291.5L1363.4 270.4L1365.1 268.6L1366.4 250.2L1367.2 295.0L1368.3 326.6L1370.4 324.9L1371.3 384.6L1372.2 418.0L1373.4 454.8L1374.4 472.4L1375.1 486.5L1376.2 479.4L1377.4 477.7L1378.5 460.1L1379.2 479.4L1379.9 512.8L1381.3 507.5L1382.2 511.0L1383.2 518.1L1384.1 532.1L1385.3 528.6L1386.6 521.6L1387.6 504.0L1388.3 480.3L1389.0 456.6L1389.7 480.3L1390.6 512.8L1391.5 507.5L1392.7 498.8L1393.6 504.0L1394.6 512.8L1395.7 498.8L1396.7 480.2L1397.6 468.9L1398.5 455.7L1399.2 480.2L1400.3 518.1L1401.7 528.6L1402.5 542.7L1403.8 528.6L1405.5 525.1L1406.6 480.2L1407.5 444.3L1408.5 465.4L1409.2 493.5L1410.3 500.5L1411.3 480.1L1412.6 465.4L1413.6 439.0L1414.7 435.5L1415.5 472.4L1416.2 480.1L1417.3 518.1L1418.4 548.8L1419.6 519.8L1420.6 480.1L1421.3 495.2L1422.4 480.1L1423.8 458.4L1424.9 472.4L1425.7 480.0L1427.0 497.0L1428.4 526.9L1429.8 507.5L1431.0 482.9L1432.2 472.4L1433.3 456.6L1434.3 474.2L1435.0 480.0L1436.3 514.6L1437.0 480.0L1437.7 472.4L1438.6 488.2L1439.8 486.5L1441.0 511.0L1442.4 550.6L1443.6 525.1L1444.5 460.1L1445.4 479.9L1446.5 523.3L1447.3 493.5L1448.2 479.9L1449.4 456.6L1450.5 437.3L1451.4 417.1L1452.4 435.5L1453.5 446.1L1454.4 472.4L1455.1 479.8L1456.1 519.8L1457.3 556.7L1458.8 542.7L1460.0 551.4L1461.4 578.7L1462.6 539.2L1463.5 504.0L1464.2 479.8L1465.3 451.3L1466.5 493.5L1467.0 479.7L1467.7 463.6L1468.6 446.1L1469.5 463.6L1470.2 479.7L1471.1 488.2L1473.2 489.1L1474.4 519.8L1475.3 479.7L1476.3 463.6L1477.5 440.8L1478.8 458.4L1479.7 470.6L1480.7 467.1L1481.4 445.2L1482.5 460.1L1483.3 479.6L1484.2 463.6L1485.6 461.9L1486.3 479.6L1487.6 519.8L1488.6 540.9L1489.5 558.5L1490.7 532.1L1491.6 518.1L1492.5 479.6L1493.4 493.5L1494.4 479.6L1495.1 465.4L1496.5 463.6L1497.2 479.5L1498.3 535.6L1499.2 518.1L1500.4 511.0L1501.8 479.5L1502.7 458.4L1503.9 456.6L1505.3 432.0L1506.5 440.8L1507.4 472.4L1508.3 479.5L1509.5 498.8L1510.9 509.3L1512.2 504.0L1513.6 539.2L1515.0 558.5L1516.2 528.6L1517.6 518.1L1518.8 500.5L1519.7 479.4L1520.4 458.4L1521.1 479.4L1521.8 507.5L1522.9 479.4L1523.9 447.8L1524.6 428.5L1525.5 424.1L1526.4 451.3L1528.1 452.2L1529.4 463.6L1530.2 479.3L1530.8 488.2L1531.3 504.0L1531.3 479.3L140.9 489.0Z" fill="#ff0000" shape-rendering="crispEdges" clip-path="url(#u1)"/>
<path d="M140.9 553.1L142.3 505.7L144.1 526.7L146.7 532.0L148.4 552.2L149.7 533.8L150.7 507.4L152.0 503.0L153.4 518.0L154.6 498.6L156.3 494.2L157.2 486.3L158.1 498.6L159.0 512.7L160.4 537.3L161.6 523.2L163.4 514.4L165.1 516.2L166.0 521.5L167.8 512.7L169.0 523.2L170.8 570.6L172.2 537.3L173.4 498.6L174.8 491.6L176.0 507.4L177.1 526.7L178.3 523.2L179.7 549.6L181.3 523.2L182.3 477.5L183.2 505.7L184.8 530.2L186.2 516.2L188.8 503.9L190.6 510.9L192.4 540.8L195.0 542.5L196.7 556.6L198.5 565.4L200.3 551.3L201.7 528.5L202.9 505.7L203.8 488.6L204.7 463.5L205.9 435.4L206.9 467.0L208.2 467.9L209.4 470.5L210.4 481.1L211.2 498.6L211.9 482.8L212.6 444.2L214.0 414.3L215.2 373.9L216.4 355.5L217.8 359.9L218.7 386.2L219.6 440.7L220.5 467.0L221.3 465.3L222.7 479.3L223.4 488.4L224.9 503.9L225.7 520.6L226.6 495.1L228.0 491.6L229.2 498.6L230.5 510.9L231.4 480.2L232.8 489.8L234.0 498.6L235.0 479.3L235.9 496.0L237.5 465.3L238.4 495.1L240.3 503.0L241.2 488.3L242.4 456.5L243.8 445.1L244.7 445.1L245.6 474.0L246.8 488.3L247.7 491.6L249.1 484.6L250.3 475.8L251.2 489.8L252.4 503.0L253.5 481.1L254.7 491.6L256.5 516.2L257.9 488.2L259.1 505.7L261.4 539.0L262.6 507.4L263.8 519.7L265.6 538.2L267.0 523.2L268.8 488.1L269.6 482.8L270.5 516.2L271.4 488.1L272.6 459.1L273.7 488.1L274.4 491.6L275.4 481.1L276.3 445.9L277.5 440.7L279.0 481.1L280.2 479.3L281.9 470.5L283.3 438.9L284.6 467.0L285.6 489.0L287.2 496.9L288.6 513.6L289.8 488.0L290.7 470.5L292.5 461.7L293.4 489.0L294.2 505.7L295.1 537.3L296.9 532.0L298.3 548.7L299.5 540.8L300.7 505.7L302.1 512.7L303.9 523.2L305.7 539.0L306.5 514.4L307.8 489.0L308.8 481.1L309.5 489.0L310.9 482.8L312.7 470.5L314.4 463.5L316.2 430.1L317.6 417.8L318.3 449.4L319.4 382.7L321.1 359.9L322.0 389.7L323.2 412.6L324.1 438.9L325.3 456.5L326.4 484.6L327.1 489.0L328.5 514.4L329.7 535.5L331.1 486.3L332.0 482.8L332.9 489.0L334.6 512.7L336.7 531.1L338.2 514.4L339.0 518.0L340.3 526.7L341.3 496.9L342.2 489.0L343.4 460.0L344.6 435.4L345.7 426.6L346.9 442.4L347.8 470.5L348.7 494.2L349.6 482.8L351.0 486.3L352.2 502.1L354.0 521.5L355.7 526.7L357.1 532.0L358.4 553.1L360.1 545.2L361.9 532.0L363.3 514.4L365.4 532.0L367.1 514.4L368.9 489.0L369.8 480.2L371.0 489.0L372.1 496.9L373.3 502.1L374.5 487.4L375.6 481.1L376.4 489.0L378.0 498.6L379.1 505.7L380.3 495.1L381.5 523.2L382.9 503.9L384.3 493.4L385.1 484.6L386.1 467.0L387.3 440.7L389.1 445.9L390.8 467.0L392.1 463.5L393.5 444.2L395.2 402.0L396.6 409.0L398.2 389.7L399.6 421.3L401.4 453.0L403.1 468.8L404.9 482.8L406.1 481.1L407.2 489.0L408.4 500.4L410.2 503.9L411.4 512.7L412.5 528.5L413.5 488.1L414.2 472.3L414.9 519.7L416.0 489.0L416.8 475.8L419.0 468.8L420.7 470.5L422.5 451.2L423.7 428.4L425.1 400.3L426.9 417.8L428.6 403.8L430.0 421.3L431.4 435.4L432.6 453.0L434.4 481.1L435.6 489.0L436.7 484.6L437.9 490.7L439.7 505.7L441.4 537.3L443.2 505.7L444.9 488.1L445.8 447.7L447.6 444.2L449.0 449.4L450.2 437.1L451.4 405.5L453.2 403.8L454.4 378.3L455.5 403.8L456.3 453.0L457.2 485.5L458.1 516.2L459.5 512.7L460.7 475.8L461.6 505.7L463.4 538.2L464.8 514.4L465.7 488.1L466.4 463.5L467.2 488.1L468.3 524.1L469.5 488.1L470.4 475.8L471.3 444.2L472.5 417.8L473.9 433.6L475.3 461.7L477.1 461.7L478.3 449.4L479.5 386.2L480.9 407.3L482.3 433.6L484.1 405.5L484.5 437.1L485.9 468.8L486.7 485.5L488.0 505.7L488.8 488.1L489.7 514.4L491.5 554.0L493.2 514.4L495.0 488.1L496.2 474.0L497.1 488.1L498.5 533.8L499.9 533.8L500.6 558.4L501.5 505.7L502.4 523.2L503.8 505.7L505.0 486.5L506.4 479.3L507.3 540.8L508.5 475.8L509.4 514.4L511.2 528.5L512.9 528.5L514.0 486.4L514.7 470.5L515.4 486.4L516.4 514.4L517.8 532.0L519.6 555.7L521.3 540.8L523.1 523.2L524.5 532.0L525.7 519.7L527.5 537.3L529.2 521.5L531.0 533.8L532.2 533.8L533.6 516.2L534.9 500.4L536.3 540.8L537.5 488.1L538.6 474.0L539.8 417.8L541.0 404.7L542.4 407.3L543.8 435.4L545.1 447.7L546.3 475.8L547.3 486.2L548.2 519.7L549.1 474.0L550.3 488.1L551.2 505.7L552.4 470.5L553.5 462.6L554.4 505.7L555.6 561.9L556.5 488.1L557.9 470.5L559.1 444.2L560.3 419.6L561.4 409.9L562.6 444.2L563.8 486.0L564.9 503.0L566.1 486.0L567.0 442.4L568.4 419.6L569.6 410.8L571.1 421.3L572.3 444.2L573.5 449.4L574.4 424.9L575.8 380.9L576.7 453.0L577.9 486.0L579.3 498.6L581.1 516.2L582.5 544.3L584.2 533.8L586.0 558.4L587.2 581.2L589.0 577.7L590.2 530.2L592.0 525.0L593.0 488.1L594.2 481.1L595.5 463.5L596.5 438.9L597.4 485.8L598.6 496.9L600.0 532.0L601.3 496.9L602.1 485.8L603.0 435.4L604.2 386.2L605.7 375.7L607.1 386.2L608.6 388.0L610.0 421.3L611.3 456.5L612.3 460.0L613.6 435.4L614.8 460.0L616.2 454.7L617.6 468.8L618.5 495.1L619.4 442.4L620.2 428.4L621.1 461.7L622.9 470.5L623.7 488.1L624.6 554.8L625.9 510.9L627.1 509.2L628.1 481.1L629.4 493.4L631.1 512.7L633.8 514.4L635.5 539.0L636.9 505.7L638.5 507.4L639.6 456.5L640.4 488.1L641.7 496.9L643.4 533.8L645.2 540.8L647.3 549.6L648.3 514.4L649.2 479.3L650.1 491.6L651.0 453.0L652.2 449.4L653.4 438.0L654.3 470.5L655.4 479.3L656.6 475.8L657.8 473.2L658.4 488.1L659.2 509.2L660.5 539.0L661.5 560.1L662.4 532.0L664.1 528.5L665.4 519.7L667.1 514.4L668.0 485.3L668.9 435.4L670.3 433.6L671.5 417.8L672.9 424.9L674.2 428.4L675.9 424.9L677.3 400.3L678.2 435.4L679.8 438.9L681.2 460.0L682.6 468.8L683.3 485.2L683.8 495.1L684.7 485.2L685.6 493.4L686.5 479.3L687.5 468.8L688.2 485.2L689.6 488.1L691.4 507.4L692.6 491.6L694.4 493.4L695.6 486.3L696.6 496.9L698.2 474.0L699.1 486.3L700.5 516.2L702.3 518.8L703.7 512.7L705.1 524.1L706.1 505.7L707.2 485.0L708.2 448.6L709.3 458.2L711.0 468.8L712.5 460.0L713.2 485.0L714.6 488.1L715.6 516.2L716.8 485.0L718.1 453.0L720.2 438.9L721.6 416.1L723.0 388.0L724.2 400.3L726.0 423.1L727.7 442.4L730.0 467.0L730.7 479.3L731.4 493.4L732.1 474.9L733.2 493.4L733.9 484.9L734.7 453.0L735.6 427.5L737.0 433.6L738.4 407.3L739.5 431.9L740.5 456.5L741.6 470.5L742.6 484.8L743.7 496.9L744.6 508.3L745.5 466.1L746.7 484.8L747.9 512.7L749.3 525.0L750.7 510.0L752.5 505.7L754.2 503.0L755.5 484.7L756.3 466.1L758.1 448.6L759.5 465.3L760.7 465.3L761.6 484.7L762.5 523.2L763.7 532.0L764.4 565.4L765.1 505.7L765.8 484.6L766.4 451.2L767.2 484.6L768.3 516.2L769.2 484.6L770.0 458.2L771.3 474.0L772.5 468.8L773.4 493.4L774.3 465.3L776.0 468.8L777.1 495.1L778.3 488.1L779.2 470.5L780.6 453.0L781.5 484.5L782.3 502.1L783.4 470.5L784.5 505.7L785.5 474.9L786.2 523.2L787.6 495.1L788.8 491.6L790.1 488.1L791.1 530.2L792.9 528.5L794.1 484.4L795.3 553.1L796.4 561.9L797.6 598.8L798.5 516.2L799.9 507.4L800.6 493.4L801.3 539.0L802.4 493.4L803.8 488.1L804.7 484.4L805.5 457.3L806.9 468.8L808.2 484.3L808.7 498.6L809.4 468.8L810.4 474.9L811.5 449.4L812.6 460.0L814.0 460.9L814.8 468.8L816.1 454.7L817.5 460.0L818.7 460.9L819.9 472.3L821.0 465.3L821.7 444.2L823.1 404.7L824.5 425.7L825.7 451.2L827.0 433.6L828.4 430.1L829.6 400.3L830.5 426.6L831.5 470.5L832.2 484.2L833.3 507.4L834.5 521.5L835.7 542.5L836.6 554.8L837.5 533.8L838.9 528.5L839.8 503.9L840.7 463.5L841.5 491.6L842.4 481.1L843.8 456.5L845.4 445.9L846.5 484.1L847.3 458.2L848.2 484.1L849.1 498.6L850.3 488.1L851.2 464.9L852.6 469.6L853.8 460.0L855.4 460.9L856.5 479.3L857.3 484.0L858.8 520.6L860.0 514.4L860.7 468.8L861.4 488.1L862.3 451.2L863.5 461.7L864.9 456.5L866.1 421.3L867.4 431.9L868.2 470.5L869.1 483.9L870.0 519.7L870.5 533.8L871.9 505.7L873.2 498.6L874.0 530.2L875.3 470.5L876.3 496.9L877.5 496.9L878.4 475.8L879.3 500.4L880.5 481.1L881.4 495.1L882.5 519.7L883.7 521.5L884.6 495.1L885.5 479.3L886.3 470.5L887.7 483.8L888.6 475.8L889.5 446.8L890.7 470.5L891.6 483.8L892.8 512.7L893.7 498.6L895.1 493.4L896.0 482.8L896.9 514.4L897.7 483.7L898.6 474.0L899.5 437.1L900.7 465.3L901.8 483.7L903.0 519.7L904.2 539.0L905.3 558.4L906.2 537.3L907.4 539.0L908.8 528.5L910.9 530.2L912.7 516.2L914.1 519.7L915.7 561.9L916.5 498.6L917.6 488.1L918.3 483.6L919.4 460.0L920.2 424.9L921.5 365.1L922.7 407.3L924.1 410.8L925.3 435.4L926.4 463.5L928.0 460.0L928.8 483.5L930.2 496.9L931.5 525.0L932.5 502.1L933.8 498.6L934.6 510.9L935.5 483.5L936.9 453.0L938.2 421.3L939.4 412.6L940.8 424.9L942.0 423.1L943.1 453.0L944.3 470.5L945.2 483.4L945.7 530.2L946.9 491.6L947.8 505.7L948.7 588.2L949.9 560.1L951.3 556.6L952.7 554.8L953.6 539.0L954.8 544.3L955.7 488.1L956.6 514.4L957.8 503.9L958.9 540.8L960.1 516.2L961.5 532.0L962.6 568.9L963.6 533.8L965.0 514.4L965.9 484.2L966.8 470.5L967.5 491.6L968.4 507.4L969.2 474.0L970.1 484.2L971.5 505.7L973.3 523.2L974.5 541.7L975.2 484.2L975.9 445.9L977.1 405.5L978.6 366.0L979.8 388.0L981.2 400.3L982.9 414.3L984.3 433.6L985.6 424.9L986.6 402.9L987.9 428.4L988.7 453.0L989.6 481.1L990.5 475.8L991.7 467.0L993.0 481.1L994.0 467.0L995.4 429.2L996.6 453.0L997.9 475.8L998.8 491.6L999.6 498.6L1000.5 475.8L1001.7 474.9L1002.6 488.1L1003.7 493.4L1004.9 498.6L1006.1 516.2L1007.5 496.9L1008.8 491.6L1009.8 505.7L1010.7 521.5L1011.9 484.2L1013.3 443.3L1014.6 481.1L1015.4 491.6L1016.7 505.7L1018.1 521.5L1019.5 503.9L1020.7 495.1L1022.1 493.4L1023.3 514.4L1024.6 561.9L1025.6 512.7L1026.9 505.7L1028.6 523.2L1030.0 528.6L1030.9 511.0L1032.1 500.5L1033.2 477.7L1034.2 500.5L1035.3 474.2L1036.7 456.6L1038.3 447.8L1039.7 474.2L1040.9 482.7L1041.9 511.0L1043.2 528.6L1044.4 577.8L1045.8 539.2L1047.6 518.1L1048.4 542.7L1049.7 519.8L1051.1 507.5L1052.0 458.4L1053.2 398.6L1054.4 368.8L1055.8 391.6L1057.2 423.2L1058.6 430.2L1059.9 425.0L1060.9 456.6L1062.0 482.6L1062.7 532.1L1063.9 518.1L1065.1 493.5L1066.5 500.5L1067.8 509.3L1069.5 518.1L1070.8 504.0L1072.2 491.7L1073.6 511.0L1075.0 518.1L1076.2 546.2L1077.4 557.6L1078.8 544.4L1080.4 518.1L1081.5 535.6L1082.7 549.7L1083.8 528.6L1084.8 482.4L1085.9 458.4L1086.6 440.8L1087.6 463.6L1088.5 458.4L1089.4 482.4L1090.2 475.9L1091.1 425.0L1092.4 382.8L1093.6 405.7L1094.6 453.1L1095.7 451.3L1096.6 428.5L1098.2 437.3L1099.0 463.6L1099.9 482.3L1100.8 518.1L1102.4 528.6L1103.8 563.7L1105.2 528.6L1106.6 511.0L1108.2 528.6L1109.4 547.9L1110.8 490.0L1112.2 526.9L1114.0 525.1L1115.2 518.1L1116.4 514.6L1117.3 493.5L1118.2 482.2L1119.6 440.8L1121.0 405.7L1122.2 356.5L1123.4 329.2L1124.5 368.8L1125.7 382.8L1127.0 374.0L1127.8 405.7L1128.7 482.1L1129.8 502.3L1131.0 528.6L1132.2 533.9L1133.6 546.2L1134.9 528.6L1136.3 521.6L1137.5 514.6L1138.6 493.5L1139.4 475.9L1140.7 460.1L1141.9 468.0L1142.8 472.4L1143.6 511.0L1144.5 535.6L1145.9 526.9L1147.2 511.0L1148.0 472.4L1149.4 463.6L1150.3 509.3L1151.6 493.5L1153.0 518.1L1154.2 544.4L1155.1 558.5L1156.1 519.8L1157.0 481.9L1158.2 458.4L1159.6 437.3L1160.5 405.7L1161.6 373.2L1162.8 405.7L1163.8 440.8L1165.3 456.6L1166.5 467.1L1167.4 481.8L1168.4 509.3L1169.3 490.0L1170.3 475.9L1171.2 481.8L1172.3 505.8L1173.2 493.5L1174.4 495.2L1175.4 479.4L1176.3 493.5L1177.5 511.0L1178.6 512.8L1179.5 525.1L1180.5 511.0L1181.9 505.8L1182.8 497.0L1183.9 481.7L1184.6 458.4L1185.6 475.9L1186.3 502.3L1187.0 481.7L1187.7 460.1L1188.8 449.6L1189.8 444.3L1190.7 442.5L1191.6 428.5L1192.7 458.4L1193.7 475.9L1194.6 486.5L1196.0 481.6L1197.2 475.9L1198.3 465.4L1199.0 481.6L1200.4 500.5L1201.8 497.0L1203.0 509.3L1204.4 540.0L1205.7 493.5L1207.1 491.7L1208.3 488.2L1209.5 506.7L1210.9 504.0L1212.3 504.9L1213.0 481.5L1213.7 479.4L1214.4 482.4L1215.5 511.0L1216.5 482.4L1217.6 472.4L1218.8 449.6L1219.7 423.2L1220.6 375.8L1221.5 345.9L1222.7 305.5L1223.7 328.4L1224.6 340.7L1225.5 338.9L1226.4 286.2L1227.6 247.6L1228.7 275.7L1229.7 335.4L1230.6 405.7L1231.7 446.1L1232.5 461.9L1233.2 482.4L1234.1 504.0L1235.5 504.0L1236.6 535.6L1237.8 505.8L1239.4 507.5L1240.8 509.3L1241.8 486.5L1242.9 507.5L1243.9 532.1L1245.0 532.1L1246.1 549.7L1247.5 532.1L1248.7 525.1L1249.9 521.6L1251.3 518.1L1252.6 502.3L1253.6 493.5L1254.8 518.1L1256.2 526.9L1256.9 482.4L1257.6 476.8L1258.4 482.4L1259.2 472.4L1260.6 458.4L1261.9 437.3L1263.3 416.2L1264.5 401.3L1265.7 416.2L1267.1 414.4L1268.4 410.0L1269.1 399.5L1269.9 423.2L1270.6 428.5L1271.5 463.6L1272.4 482.4L1273.3 509.3L1274.5 528.6L1275.6 584.8L1276.4 563.7L1277.7 560.2L1279.1 521.6L1280.3 511.0L1281.2 482.4L1281.9 474.2L1282.6 482.4L1283.5 504.0L1284.5 539.2L1285.6 504.0L1286.8 507.5L1288.2 498.8L1289.6 497.0L1290.8 490.0L1292.1 493.5L1293.5 488.2L1294.7 493.5L1295.6 521.6L1296.6 509.3L1298.2 507.5L1299.3 490.0L1300.2 480.9L1301.4 477.7L1302.1 480.9L1302.6 512.8L1303.3 480.9L1304.4 463.6L1305.8 461.9L1307.2 458.4L1308.4 446.1L1309.3 453.1L1310.5 451.3L1311.6 432.0L1312.6 386.3L1313.5 418.0L1314.2 458.4L1315.1 480.8L1316.5 507.5L1317.7 488.2L1319.0 480.8L1319.8 465.4L1321.1 442.5L1322.5 421.5L1323.7 447.8L1325.1 461.9L1326.5 464.5L1327.4 480.7L1328.1 488.2L1329.1 480.7L1330.0 482.9L1330.5 525.1L1331.4 540.9L1332.6 523.3L1334.2 525.1L1335.3 479.4L1336.1 446.1L1337.4 440.8L1338.4 428.5L1339.3 463.6L1340.2 479.4L1340.9 511.0L1341.8 533.9L1342.8 507.5L1344.1 490.0L1345.3 500.5L1346.3 491.7L1347.2 507.5L1348.4 493.5L1349.7 482.9L1350.6 542.7L1351.6 537.4L1352.8 511.0L1354.1 504.0L1355.1 512.8L1356.3 521.6L1357.6 511.0L1358.5 479.4L1359.3 433.8L1360.2 405.7L1361.3 335.4L1362.3 291.5L1363.4 270.4L1365.1 268.6L1366.4 250.2L1367.2 295.0L1368.3 326.6L1370.4 324.9L1371.3 384.6L1372.2 418.0L1373.4 454.8L1374.4 472.4L1375.1 486.5L1376.2 479.4L1377.4 477.7L1378.5 460.1L1379.2 479.4L1379.9 512.8L1381.3 507.5L1382.2 511.0L1383.2 518.1L1384.1 532.1L1385.3 528.6L1386.6 521.6L1387.6 504.0L1388.3 480.3L1389.0 456.6L1389.7 480.3L1390.6 512.8L1391.5 507.5L1392.7 498.8L1393.6 504.0L1394.6 512.8L1395.7 498.8L1396.7 480.2L1397.6 468.9L1398.5 455.7L1399.2 480.2L1400.3 518.1L1401.7 528.6L1402.5 542.7L1403.8 528.6L1405.5 525.1L1406.6 480.2L1407.5 444.3L1408.5 465.4L1409.2 493.5L1410.3 500.5L1411.3 480.1L1412.6 465.4L1413.6 439.0L1414.7 435.5L1415.5 472.4L1416.2 480.1L1417.3 518.1L1418.4 548.8L1419.6 519.8L1420.6 480.1L1421.3 495.2L1422.4 480.1L1423.8 458.4L1424.9 472.4L1425.7 480.0L1427.0 497.0L1428.4 526.9L1429.8 507.5L1431.0 482.9L1432.2 472.4L1433.3 456.6L1434.3 474.2L1435.0 480.0L1436.3 514.6L1437.0 480.0L1437.7 472.4L1438.6 488.2L1439.8 486.5L1441.0 511.0L1442.4 550.6L1443.6 525.1L1444.5 460.1L1445.4 479.9L1446.5 523.3L1447.3 493.5L1448.2 479.9L1449.4 456.6L1450.5 437.3L1451.4 417.1L1452.4 435.5L1453.5 446.1L1454.4 472.4L1455.1 479.8L1456.1 519.8L1457.3 556.7L1458.8 542.7L1460.0 551.4L1461.4 578.7L1462.6 539.2L1463.5 504.0L1464.2 479.8L1465.3 451.3L1466.5 493.5L1467.0 479.7L1467.7 463.6L1468.6 446.1L1469.5 463.6L1470.2 479.7L1471.1 488.2L1473.2 489.1L1474.4 519.8L1475.3 479.7L1476.3 463.6L1477.5 440.8L1478.8 458.4L1479.7 470.6L1480.7 467.1L1481.4 445.2L1482.5 460.1L1483.3 479.6L1484.2 463.6L1485.6 461.9L1486.3 479.6L1487.6 519.8L1488.6 540.9L1489.5 558.5L1490.7 532.1L1491.6 518.1L1492.5 479.6L1493.4 493.5L1494.4 479.6L1495.1 465.4L1496.5 463.6L1497.2 479.5L1498.3 535.6L1499.2 518.1L1500.4 511.0L1501.8 479.5L1502.7 458.4L1503.9 456.6L1505.3 432.0L1506.5 440.8L1507.4 472.4L1508.3 479.5L1509.5 498.8L1510.9 509.3L1512.2 504.0L1513.6 539.2L1515.0 558.5L1516.2 528.6L1517.6 518.1L1518.8 500.5L1519.7 479.4L1520.4 458.4L1521.1 479.4L1521.8 507.5L1522.9 479.4L1523.9 447.8L1524.6 428.5L1525.5 424.1L1526.4 451.3L1528.1 452.2L1529.4 463.6L1530.2 479.3L1530.8 488.2L1531.3 504.0L1531.3 479.3L140.9 489.0Z" fill="#0000ff" shape-rendering="crispEdges" clip-path="url(#d1)"/>
<path d="M102.9 173.45H1577.6M102.9 691.35H1577.6" stroke="#161616" stroke-width="1.1" fill="none"/>
<path d="M135.95 173.45V691.3499999999999M1544.6 173.45V691.3499999999999" stroke="#1c1c1c" stroke-width="1.25" fill="none"/>
<path d="M119.94999999999999 665.5H135.95M1544.6 665.5H1560.6M119.94999999999999 639.6H135.95M1544.6 639.6H1560.6M119.94999999999999 613.7H135.95M1544.6 613.7H1560.6M119.94999999999999 561.9H135.95M1544.6 561.9H1560.6M119.94999999999999 536.0H135.95M1544.6 536.0H1560.6M119.94999999999999 510.1H135.95M1544.6 510.1H1560.6M119.94999999999999 458.3H135.95M1544.6 458.3H1560.6M119.94999999999999 432.4H135.95M1544.6 432.4H1560.6M119.94999999999999 406.5H135.95M1544.6 406.5H1560.6M119.94999999999999 354.7H135.95M1544.6 354.7H1560.6M119.94999999999999 328.8H135.95M1544.6 328.8H1560.6M119.94999999999999 302.9H135.95M1544.6 302.9H1560.6M119.94999999999999 251.1H135.95M1544.6 251.1H1560.6M119.94999999999999 225.2H135.95M1544.6 225.2H1560.6M119.94999999999999 199.3H135.95M1544.6 199.3H1560.6M140.6 157.45V173.45M140.6 691.3499999999999V707.3M236.5 157.45V173.45M236.5 691.3499999999999V707.3M428.2 157.45V173.45M428.2 691.3499999999999V707.3M524.0 157.45V173.45M524.0 691.3499999999999V707.3M715.8 157.45V173.45M715.8 691.3499999999999V707.3M811.6 157.45V173.45M811.6 691.3499999999999V707.3M1003.4 157.45V173.45M1003.4 691.3499999999999V707.3M1099.2 157.45V173.45M1099.2 691.3499999999999V707.3M1290.9 157.45V173.45M1290.9 691.3499999999999V707.3M1386.8 157.45V173.45M1386.8 691.3499999999999V707.3" stroke="#555" stroke-width="0.9" fill="none"/>
<path d="M102.94999999999999 587.8H135.95M1544.6 587.8H1577.6M102.94999999999999 484.2H135.95M1544.6 484.2H1577.6M102.94999999999999 380.6H135.95M1544.6 380.6H1577.6M102.94999999999999 277.0H135.95M1544.6 277.0H1577.6M332.3 140.45V173.45M332.3 691.3499999999999V724.3M619.9 140.45V173.45M619.9 691.3499999999999V724.3M907.5 140.45V173.45M907.5 691.3499999999999V724.3M1195.1 140.45V173.45M1195.1 691.3499999999999V724.3M1482.7 140.45V173.45M1482.7 691.3499999999999V724.3" stroke="#222" stroke-width="1.2" fill="none"/>
<path d="M38.0 177.2L39.0 181.3L41.0 183.3L44.1 184.3L45.1 184.3L48.2 183.3L50.3 181.3L51.3 178.2L51.3 177.2L50.3 174.1L48.2 172.1L45.1 171.0L44.1 171.0L41.0 172.1L39.0 174.1L38.0 177.2M50.3 165.9L49.2 163.9L46.2 162.8L44.1 162.8L41.0 163.9L39.0 166.9L38.0 172.1L38.0 177.2M74.8 162.8L75.9 162.8L78.9 163.9L81.0 166.9L82.0 172.1L82.0 175.1L81.0 180.3L78.9 183.3L75.9 184.3L73.8 184.3L70.7 183.3L68.7 180.3L67.7 175.1L67.7 172.1L68.7 166.9L70.7 163.9L73.8 162.8L74.8 162.8M47.2 266.4L37.0 280.8M37.0 280.8L47.2 280.8M47.2 266.4L47.2 280.8M47.2 287.9L47.2 280.8M47.2 280.8L52.3 280.8M74.8 266.4L75.9 266.4L78.9 267.5L81.0 270.5L82.0 275.6L82.0 278.7L81.0 283.8L78.9 286.9L75.9 287.9L73.8 287.9L70.7 286.9L68.7 283.8L67.7 278.7L67.7 275.6L68.7 270.5L70.7 267.5L73.8 266.4L74.8 266.4M38.0 375.1L38.0 374.1L39.0 372.1L40.0 371.0L42.1 370.0L46.2 370.0L48.2 371.0L49.2 372.1L50.3 374.1L50.3 376.2L47.2 381.3L37.0 391.5M37.0 391.5L51.3 391.5M74.8 370.0L75.9 370.0L78.9 371.0L81.0 374.1L82.0 379.2L82.0 382.3L81.0 387.4L78.9 390.5L75.9 391.5L73.8 391.5L70.7 390.5L68.7 387.4L67.7 382.3L67.7 379.2L68.7 374.1L70.7 371.0L73.8 370.0L74.8 370.0M44.1 473.6L45.1 473.6L48.2 474.6L50.3 477.7L51.3 482.8L51.3 485.9L50.3 491.0L48.2 494.1L45.1 495.1L43.1 495.1L40.0 494.1L38.0 491.0L37.0 485.9L37.0 482.8L38.0 477.7L40.0 474.6L43.1 473.6L44.1 473.6M74.8 473.6L75.9 473.6L78.9 474.6L81.0 477.7L82.0 482.8L82.0 485.9L81.0 491.0L78.9 494.1L75.9 495.1L73.8 495.1L70.7 494.1L68.7 491.0L67.7 485.9L67.7 482.8L68.7 477.7L70.7 474.6L73.8 473.6L74.8 473.6M11.4 589.5L29.8 589.5M38.0 582.3L38.0 581.3L39.0 579.2L40.0 578.2L42.1 577.2L46.2 577.2L48.2 578.2L49.2 579.2L50.3 581.3L50.3 583.3L47.2 588.4L37.0 598.7M37.0 598.7L51.3 598.7M74.8 577.2L75.9 577.2L78.9 578.2L81.0 581.3L82.0 586.4L82.0 589.5L81.0 594.6L78.9 597.6L75.9 598.7L73.8 598.7L70.7 597.6L68.7 594.6L67.7 589.5L67.7 586.4L68.7 581.3L70.7 578.2L73.8 577.2L74.8 577.2M11.4 693.0L29.8 693.0M47.2 680.7L37.0 695.1M37.0 695.1L47.2 695.1M47.2 680.7L47.2 695.1M47.2 702.2L47.2 695.1M47.2 695.1L52.3 695.1M74.8 680.7L75.9 680.7L78.9 681.8L81.0 684.8L82.0 690.0L82.0 693.0L81.0 698.2L78.9 701.2L75.9 702.2L73.8 702.2L70.7 701.2L68.7 698.2L67.7 693.0L67.7 690.0L68.7 684.8L70.7 681.8L73.8 680.7L74.8 680.7M301.1 766.3L301.1 744.8M296.0 748.9L298.0 747.9L301.1 744.8M320.6 754.1L324.6 755.1L326.7 757.1L327.7 759.2L327.7 762.3L326.7 764.3L325.7 765.3L322.6 766.3L318.5 766.3L315.4 765.3L314.4 764.3L313.4 762.3L313.4 759.2L314.4 757.1L316.5 755.1L320.6 754.1M320.6 754.1L323.6 753.0L325.7 752.0L326.7 750.0L326.7 747.9L325.7 745.9L322.6 744.8L318.5 744.8L315.4 745.9L314.4 747.9L314.4 750.0L315.4 752.0L317.5 753.0L320.6 754.1M347.2 752.0L347.2 757.1L346.1 762.3L344.1 765.3L341.0 766.3L339.0 766.3L335.9 765.3L334.9 763.3M347.2 752.0L346.1 755.1L344.1 757.1L341.0 758.2L340.0 758.2L336.9 757.1L334.9 755.1L333.9 752.0L333.9 751.0L334.9 747.9L336.9 745.9L340.0 744.8L341.0 744.8L344.1 745.9L346.1 747.9L347.2 752.0M361.5 744.8L362.5 744.8L365.6 745.9L367.6 748.9L368.7 754.1L368.7 757.1L367.6 762.3L365.6 765.3L362.5 766.3L360.5 766.3L357.4 765.3L355.4 762.3L354.3 757.1L354.3 754.1L355.4 748.9L357.4 745.9L360.5 744.8L361.5 744.8M588.7 766.3L588.7 744.8M583.6 748.9L585.6 747.9L588.7 744.8M614.3 752.0L614.3 757.1L613.3 762.3L611.2 765.3L608.1 766.3L606.1 766.3L603.0 765.3L602.0 763.3M614.3 752.0L613.3 755.1L611.2 757.1L608.1 758.2L607.1 758.2L604.0 757.1L602.0 755.1L601.0 752.0L601.0 751.0L602.0 747.9L604.0 745.9L607.1 744.8L608.1 744.8L611.2 745.9L613.3 747.9L614.3 752.0M622.5 750.0L622.5 748.9L623.5 746.9L624.5 745.9L626.6 744.8L630.7 744.8L632.7 745.9L633.7 746.9L634.8 748.9L634.8 751.0L631.7 756.1L621.4 766.3M621.4 766.3L635.8 766.3M649.1 744.8L650.1 744.8L653.2 745.9L655.2 748.9L656.3 754.1L656.3 757.1L655.2 762.3L653.2 765.3L650.1 766.3L648.1 766.3L645.0 765.3L642.9 762.3L641.9 757.1L641.9 754.1L642.9 748.9L645.0 745.9L648.1 744.8L649.1 744.8M876.3 766.3L876.3 744.8M871.2 748.9L873.2 747.9L876.3 744.8M901.9 752.0L901.9 757.1L900.8 762.3L898.8 765.3L895.7 766.3L893.7 766.3L890.6 765.3L889.6 763.3M901.9 752.0L900.8 755.1L898.8 757.1L895.7 758.2L894.7 758.2L891.6 757.1L889.6 755.1L888.6 752.0L888.6 751.0L889.6 747.9L891.6 745.9L894.7 744.8L895.7 744.8L898.8 745.9L900.8 747.9L901.9 752.0M909.0 762.3L910.1 764.3L911.1 765.3L914.2 766.3L917.2 766.3L920.3 765.3L922.3 763.3L923.4 760.2L923.4 758.2L922.3 755.1L920.3 753.0L917.2 752.0L914.2 752.0L911.1 753.0L910.1 754.1M910.1 754.1L911.1 744.8L921.3 744.8M936.7 744.8L937.7 744.8L940.8 745.9L942.8 748.9L943.8 754.1L943.8 757.1L942.8 762.3L940.8 765.3L937.7 766.3L935.7 766.3L932.6 765.3L930.5 762.3L929.5 757.1L929.5 754.1L930.5 748.9L932.6 745.9L935.7 744.8L936.7 744.8M1163.9 766.3L1163.9 744.8M1158.7 748.9L1160.8 747.9L1163.9 744.8M1189.5 752.0L1189.5 757.1L1188.4 762.3L1186.4 765.3L1183.3 766.3L1181.3 766.3L1178.2 765.3L1177.2 763.3M1189.5 752.0L1188.4 755.1L1186.4 757.1L1183.3 758.2L1182.3 758.2L1179.2 757.1L1177.2 755.1L1176.1 752.0L1176.1 751.0L1177.2 747.9L1179.2 745.9L1182.3 744.8L1183.3 744.8L1186.4 745.9L1188.4 747.9L1189.5 752.0M1203.8 754.1L1207.9 755.1L1209.9 757.1L1211.0 759.2L1211.0 762.3L1209.9 764.3L1208.9 765.3L1205.8 766.3L1201.7 766.3L1198.7 765.3L1197.6 764.3L1196.6 762.3L1196.6 759.2L1197.6 757.1L1199.7 755.1L1203.8 754.1M1203.8 754.1L1206.9 753.0L1208.9 752.0L1209.9 750.0L1209.9 747.9L1208.9 745.9L1205.8 744.8L1201.7 744.8L1198.7 745.9L1197.6 747.9L1197.6 750.0L1198.7 752.0L1200.7 753.0L1203.8 754.1M1224.3 744.8L1225.3 744.8L1228.4 745.9L1230.4 748.9L1231.4 754.1L1231.4 757.1L1230.4 762.3L1228.4 765.3L1225.3 766.3L1223.2 766.3L1220.2 765.3L1218.1 762.3L1217.1 757.1L1217.1 754.1L1218.1 748.9L1220.2 745.9L1223.2 744.8L1224.3 744.8M1445.8 750.0L1445.8 748.9L1446.8 746.9L1447.9 745.9L1449.9 744.8L1454.0 744.8L1456.0 745.9L1457.1 746.9L1458.1 748.9L1458.1 751.0L1455.0 756.1L1444.8 766.3M1444.8 766.3L1459.1 766.3M1472.4 744.8L1473.5 744.8L1476.5 745.9L1478.6 748.9L1479.6 754.1L1479.6 757.1L1478.6 762.3L1476.5 765.3L1473.5 766.3L1471.4 766.3L1468.3 765.3L1466.3 762.3L1465.3 757.1L1465.3 754.1L1466.3 748.9L1468.3 745.9L1471.4 744.8L1472.4 744.8M1493.9 766.3L1493.9 744.8M1488.8 748.9L1490.9 747.9L1493.9 744.8M1513.4 744.8L1514.4 744.8L1517.5 745.9L1519.5 748.9L1520.5 754.1L1520.5 757.1L1519.5 762.3L1517.5 765.3L1514.4 766.3L1512.4 766.3L1509.3 765.3L1507.2 762.3L1506.2 757.1L1506.2 754.1L1507.2 748.9L1509.3 745.9L1512.4 744.8L1513.4 744.8M156.0 140.5L156.0 125.2M136.5 111.2L136.5 125.2M136.5 125.2L156.0 125.2M136.5 125.2L136.5 140.5M156.0 111.2L156.0 125.2M182.5 125.2L179.7 122.4L176.9 121.0L172.7 121.0L169.9 122.4L167.2 125.2L165.8 129.3L165.8 132.1L167.2 136.3L169.9 139.1L172.7 140.5L176.9 140.5L179.7 139.1L182.5 136.3M182.5 125.2L182.5 136.3M182.5 125.2L182.5 121.0M182.5 136.3L182.5 140.5M209.0 125.2L206.2 122.4L203.4 121.0L199.2 121.0L196.4 122.4L193.6 125.2L192.2 129.3L192.2 132.1L193.6 136.3L196.4 139.1L199.2 140.5L203.4 140.5L206.2 139.1L209.0 136.3M209.0 125.2L209.0 136.3M209.0 125.2L209.0 111.2M209.0 136.3L209.0 140.5M220.1 140.5L220.1 111.2M249.4 115.4L246.6 112.6L242.4 111.2L236.8 111.2L232.6 112.6L229.8 115.4L229.8 118.2L231.2 121.0L232.6 122.4L235.4 123.8L243.8 126.5L246.6 127.9L248.0 129.3L249.4 132.1L249.4 136.3L246.6 139.1L242.4 140.5L236.8 140.5L232.6 139.1L229.8 136.3M277.2 115.4L274.4 112.6L270.3 111.2L264.7 111.2L260.5 112.6L257.7 115.4L257.7 118.2L259.1 121.0L260.5 122.4L263.3 123.8L271.6 126.5L274.4 127.9L275.8 129.3L277.2 132.1L277.2 136.3L274.4 139.1L270.3 140.5L264.7 140.5L260.5 139.1L257.7 136.3M292.5 140.5L292.5 111.2M282.8 111.2L292.5 111.2M292.5 111.2L302.3 111.2M1320.5 109.2L1321.6 109.2L1324.8 110.3L1326.9 113.8L1328.0 119.5L1328.0 122.9L1326.9 128.6L1324.8 132.1L1321.6 133.2L1319.4 133.2L1316.2 132.1L1314.1 128.6L1313.0 122.9L1313.0 119.5L1314.1 113.8L1316.2 110.3L1319.4 109.2L1320.5 109.2M1346.2 114.9L1346.2 113.8L1347.2 111.5L1348.3 110.3L1350.5 109.2L1354.7 109.2L1356.9 110.3L1358.0 111.5L1359.0 113.8L1359.0 116.1L1355.8 121.8L1345.1 133.2M1345.1 133.2L1360.1 133.2M1367.6 114.9L1367.6 113.8L1368.7 111.5L1369.7 110.3L1371.9 109.2L1376.1 109.2L1378.3 110.3L1379.4 111.5L1380.4 113.8L1380.4 116.1L1377.2 121.8L1366.5 133.2M1366.5 133.2L1381.5 133.2M1404.0 127.5L1402.9 129.8L1400.8 132.1L1398.6 133.2L1394.3 133.2L1392.2 132.1L1390.1 129.8L1387.9 124.1L1387.9 118.3L1390.1 112.6L1392.2 110.3L1394.3 109.2L1398.6 109.2L1400.8 110.3L1402.9 112.6L1404.0 114.9M1436.1 133.2L1436.1 109.2M1430.7 113.8L1432.9 112.6L1436.1 109.2M1459.6 109.2L1448.9 125.2M1448.9 125.2L1459.6 125.2M1459.6 109.2L1459.6 125.2M1459.6 133.2L1459.6 125.2M1459.6 125.2L1465.0 125.2M1471.4 125.2L1472.5 129.8L1474.6 132.1L1477.8 133.2L1478.9 133.2L1482.1 132.1L1484.2 129.8L1485.3 126.3L1485.3 125.2L1484.2 121.8L1482.1 119.5L1478.9 118.3L1477.8 118.3L1474.6 119.5L1472.5 121.8L1471.4 125.2M1484.2 112.6L1483.2 110.3L1480.0 109.2L1477.8 109.2L1474.6 110.3L1472.5 113.8L1471.4 119.5L1471.4 125.2M1490.7 117.2L1497.1 133.2M1503.5 117.2L1497.1 133.2M1497.1 133.2L1495.0 137.8L1492.8 140.1L1490.7 141.2L1489.6 141.2M1518.5 117.2L1515.3 117.2L1513.1 118.3L1511.0 120.6L1509.9 124.1M1509.9 124.1L1509.9 133.2M1509.9 117.2L1509.9 124.1M1523.0 111.9L1535.2 111.9M1545.3 118.5L1545.3 103.0M1541.9 106.0L1543.3 105.2L1545.3 103.0" stroke="#707070" stroke-width="1.0" fill="none" stroke-linecap="round" stroke-linejoin="round"/>
<path d="M135.95 1192.8H1689.7" stroke="#b4b4b4" stroke-width="1.2" fill="none"/>
<path d="M140.9 1215.9L142.3 1233.5L143.5 1243.1L144.4 1196.6L144.9 1180.8L145.8 1204.7L146.7 1212.4L147.6 1198.4L148.4 1186.9L149.3 1204.7L150.7 1217.7L152.1 1222.9L153.2 1183.4L154.1 1204.6L155.5 1219.4L156.3 1204.5L157.2 1125.5L158.1 1159.7L159.5 1145.7L160.2 1204.5L161.3 1242.3L162.5 1265.1L163.4 1280.9L164.4 1254.6L165.7 1230.0L166.5 1204.4L167.4 1177.3L168.5 1187.8L169.2 1204.3L170.0 1230.0L171.3 1254.6L172.5 1258.1L173.7 1265.1L174.6 1204.2L175.3 1145.7L176.4 1175.5L176.9 1204.2L177.8 1242.3L179.2 1249.3L180.6 1315.2L181.8 1251.0L182.7 1222.9L184.1 1215.9L185.0 1204.1L185.9 1212.4L186.7 1221.2L188.0 1217.7L189.2 1233.5L190.4 1245.8L191.7 1228.2L192.7 1204.8L193.6 1201.0L194.5 1204.8L195.3 1219.4L196.4 1200.1L197.5 1149.2L198.5 1166.7L199.6 1182.5L200.3 1204.8L201.0 1237.0L202.0 1228.2L202.9 1204.8L203.8 1189.6L205.2 1172.0L206.4 1163.2L207.8 1164.1L209.4 1163.2L211.3 1154.1L212.9 1156.2L214.3 1159.7L216.1 1158.3L217.3 1170.2L218.9 1177.3L220.1 1168.5L221.3 1160.1L222.7 1165.0L224.0 1170.2L225.7 1172.9L227.1 1187.8L228.4 1186.1L230.5 1176.9L231.9 1179.9L233.6 1183.4L235.4 1179.4L237.1 1187.8L238.9 1180.8L240.7 1175.9L242.1 1182.5L243.3 1186.9L245.1 1185.2L246.5 1196.6L248.0 1187.8L250.3 1181.7L252.1 1187.8L254.4 1187.8L256.1 1196.6L257.9 1194.8L259.6 1186.1L261.2 1185.2L262.6 1188.7L264.4 1189.6L266.1 1198.4L267.9 1193.1L269.6 1187.8L271.4 1192.2L273.5 1191.7L274.9 1202.6L276.3 1203.6L277.5 1194.8L279.0 1175.5L280.2 1152.7L281.4 1114.0L282.5 1100.0L283.7 1063.1L284.2 1138.6L285.5 1168.5L286.9 1186.1L288.4 1191.3L289.8 1202.3L290.7 1205.4L291.6 1224.7L292.8 1244.0L294.2 1224.7L295.6 1212.4L296.9 1203.6L298.3 1198.4L299.0 1203.6L300.4 1233.5L301.6 1252.8L302.7 1215.9L303.4 1202.1L304.2 1159.7L305.7 1135.1L306.5 1145.7L307.8 1173.8L309.2 1187.8L310.4 1193.1L311.3 1202.0L312.7 1219.4L313.9 1224.7L315.3 1284.4L316.5 1296.7L317.6 1259.8L318.8 1233.5L320.1 1222.9L321.5 1249.3L322.9 1233.5L324.1 1228.2L325.3 1215.9L326.4 1212.4L328.0 1219.4L329.5 1261.6L330.6 1245.8L332.0 1251.0L333.4 1303.7L334.6 1259.8L335.9 1219.4L336.9 1201.5L338.2 1198.4L339.0 1201.5L340.4 1231.7L341.3 1201.4L342.5 1189.6L343.2 1201.4L344.3 1254.6L345.7 1265.1L346.9 1244.0L348.2 1215.9L349.6 1215.0L350.4 1233.5L351.7 1292.3L352.7 1268.6L354.0 1230.0L355.2 1214.2L356.6 1212.4L357.6 1222.9L358.4 1201.2L358.9 1163.2L359.6 1120.2L360.6 1135.1L361.9 1145.7L363.3 1147.4L364.5 1153.6L365.7 1156.2L367.1 1154.4L368.5 1155.3L369.4 1145.7L370.3 1057.8L371.3 1010.4L372.4 1056.1L373.3 1136.9L374.2 1158.8L375.6 1163.2L376.8 1172.0L378.0 1179.0L379.4 1187.8L380.3 1200.8L381.5 1209.8L382.9 1208.9L384.0 1200.7L384.7 1180.8L385.6 1157.1L386.5 1157.1L387.3 1172.0L388.6 1177.3L389.3 1200.6L390.3 1235.2L391.0 1200.6L391.7 1163.2L392.8 1135.1L393.8 1152.7L394.9 1165.0L396.1 1164.1L397.3 1154.4L399.1 1154.4L400.5 1142.1L401.9 1122.8L402.8 1145.7L403.7 1163.2L404.5 1180.8L405.4 1200.4L406.7 1230.0L407.5 1249.3L408.8 1222.9L409.8 1205.4L411.0 1201.9L412.3 1210.6L413.5 1272.1L414.6 1251.0L415.8 1215.9L416.8 1200.2L418.1 1191.3L419.8 1189.6L421.6 1179.0L423.3 1170.2L424.7 1172.0L425.6 1163.2L426.5 1141.3L427.4 1207.1L428.1 1180.8L429.1 1145.7L430.0 1143.6L431.1 1185.8L432.3 1180.5L433.5 1185.8L434.9 1164.7L436.1 1159.4L437.2 1135.7L438.1 1189.3L439.1 1199.8L440.2 1233.2L441.8 1266.6L443.0 1215.7L443.7 1199.7L444.9 1180.5L446.2 1154.2L447.2 1180.5L448.1 1199.7L449.0 1236.7L450.7 1266.6L452.0 1263.1L453.2 1270.1L454.1 1242.0L454.8 1201.6L455.6 1217.4L456.7 1199.5L457.6 1189.3L458.5 1176.1L459.3 1199.5L460.6 1216.5L461.6 1199.4L462.5 1174.4L463.4 1187.5L464.4 1185.8L465.7 1170.0L466.9 1157.7L468.3 1145.4L469.5 1110.3L470.4 1096.2L472.2 1099.7L473.4 1085.7L474.4 1074.3L475.7 1096.2L476.9 1112.0L478.0 1141.9L479.2 1187.5L480.6 1199.1L481.3 1213.9L482.3 1224.4L483.8 1213.9L485.2 1206.9L486.2 1208.6L487.4 1273.6L488.3 1215.7L489.7 1185.8L490.2 1215.7L491.5 1236.7L492.9 1235.0L493.8 1247.3L495.0 1198.9L495.9 1189.3L496.7 1150.7L498.2 1098.0L499.4 1119.0L500.6 1136.6L502.0 1170.0L503.4 1177.0L504.7 1163.0L505.9 1171.7L506.6 1215.7L507.3 1275.4L508.5 1285.9L509.4 1307.0L510.4 1266.6L512.0 1268.4L513.4 1261.3L514.8 1258.7L516.1 1238.5L517.3 1228.0L518.4 1252.5L519.6 1228.0L521.0 1222.7L522.2 1208.6L523.1 1188.4L524.0 1198.4L524.9 1202.5L526.1 1194.6L527.5 1184.0L529.2 1179.6L530.5 1178.8L531.5 1185.8L532.4 1203.4L533.6 1190.2L534.7 1198.2L535.4 1242.0L535.9 1198.2L536.8 1184.0L538.0 1177.0L539.3 1148.9L539.8 1141.9L541.0 1154.2L542.4 1153.3L543.8 1170.0L545.4 1159.4L546.3 1203.4L546.8 1180.5L548.0 1141.9L549.4 1106.7L550.9 1105.0L552.3 1069.0L553.3 1108.5L554.4 1145.4L555.6 1154.2L556.8 1168.2L557.9 1161.2L560.0 1164.7L560.9 1180.5L561.7 1197.8L563.1 1199.8L564.4 1215.7L565.6 1238.5L566.7 1244.6L567.5 1194.6L568.4 1206.9L569.1 1191.1L570.2 1175.3L571.1 1197.6L572.3 1213.9L573.2 1197.6L574.0 1163.0L575.3 1147.1L575.8 1126.1L577.0 1137.5L578.4 1101.5L579.8 1071.6L580.7 1110.3L581.9 1143.6L583.2 1133.1L584.6 1148.9L585.8 1163.0L587.2 1175.3L588.6 1180.5L589.8 1185.8L591.1 1197.3L592.5 1215.7L593.7 1213.9L595.5 1231.5L596.9 1213.9L598.3 1197.2L599.2 1177.0L600.0 1149.8L600.9 1197.1L602.1 1212.1L603.0 1197.1L603.9 1145.4L604.8 1119.0L606.2 1124.3L607.4 1135.7L608.8 1137.5L610.0 1163.0L610.9 1196.9L611.8 1228.0L613.6 1243.8L615.3 1242.0L616.7 1247.3L618.0 1254.3L619.4 1266.6L620.6 1242.0L621.5 1259.6L622.3 1254.3L623.2 1196.7L624.1 1185.8L625.3 1136.6L626.6 1109.4L627.6 1136.6L628.5 1170.0L629.7 1196.6L630.6 1211.3L631.3 1196.6L632.4 1154.2L633.4 1138.4L635.0 1154.2L637.3 1154.2L638.7 1163.0L640.4 1166.5L641.3 1196.4L642.5 1252.5L644.3 1249.0L645.7 1249.0L646.9 1257.8L648.2 1266.6L649.6 1224.4L651.0 1233.2L652.7 1266.6L654.0 1229.7L655.7 1222.7L657.1 1236.7L658.4 1264.8L659.8 1273.6L661.0 1284.2L662.2 1268.4L663.6 1264.8L665.0 1242.0L666.8 1249.0L668.0 1268.4L669.2 1282.4L670.6 1275.4L672.1 1268.4L674.2 1257.8L675.4 1282.4L676.4 1328.1L677.7 1282.4L678.7 1242.0L679.8 1319.3L681.2 1285.9L682.6 1242.0L683.8 1224.4L685.1 1224.4L686.1 1249.0L687.3 1259.6L688.6 1259.6L689.6 1285.9L690.5 1233.2L691.4 1195.6L692.6 1189.3L693.8 1166.5L695.2 1145.4L696.5 1137.5L697.5 1154.2L698.8 1159.4L699.8 1180.5L700.5 1195.4L701.6 1231.5L702.4 1215.7L703.3 1198.1L704.0 1203.4L705.1 1229.7L705.8 1201.6L706.5 1191.1L707.2 1208.6L708.1 1217.4L709.3 1236.7L710.3 1208.6L711.0 1195.3L711.9 1185.8L713.2 1166.5L714.6 1140.1L715.6 1129.6L716.7 1163.0L717.7 1191.1L718.4 1195.1L719.8 1224.4L720.9 1203.4L721.9 1195.1L723.0 1189.3L724.7 1171.7L726.0 1166.5L727.2 1163.0L728.6 1155.1L730.0 1163.0L730.9 1191.1L731.8 1194.9L732.6 1215.7L733.9 1263.1L734.9 1238.5L736.1 1233.2L737.4 1236.7L738.8 1250.8L739.7 1285.9L740.5 1313.1L741.8 1285.9L743.2 1271.9L744.4 1250.8L745.5 1215.7L746.3 1198.1L747.2 1194.7L748.4 1191.1L749.5 1168.2L750.4 1184.0L751.1 1194.6L752.0 1236.7L752.8 1250.8L753.7 1276.3L754.6 1250.8L755.8 1194.5L756.7 1170.0L757.6 1134.9L758.6 1105.0L759.9 1090.9L761.1 1085.7L762.5 1056.7L763.4 1092.7L764.3 1134.9L765.5 1114.7L766.5 1163.0L767.4 1185.8L768.3 1186.7L769.2 1194.3L770.4 1196.3L771.5 1179.6L772.2 1226.2L773.0 1194.2L773.9 1189.3L775.0 1182.3L775.7 1194.2L776.5 1208.6L777.8 1238.5L779.2 1222.7L780.4 1219.2L781.5 1201.6L782.7 1205.1L784.1 1226.2L785.3 1251.7L786.6 1235.0L788.0 1233.2L789.4 1235.0L790.6 1224.4L791.8 1233.2L792.7 1268.4L793.6 1229.7L795.0 1240.2L796.4 1238.5L797.6 1219.2L798.5 1238.5L799.7 1257.8L800.8 1262.2L802.0 1224.4L803.4 1217.4L804.7 1193.7L805.5 1177.0L806.8 1163.0L807.8 1185.8L808.7 1193.6L809.6 1208.6L810.8 1224.4L812.2 1242.0L813.4 1250.8L814.7 1263.1L815.5 1272.7L816.6 1261.3L817.8 1257.8L819.1 1249.0L820.1 1256.1L821.3 1228.0L822.2 1193.4L823.1 1161.2L824.5 1159.4L825.7 1152.4L827.5 1141.0L828.7 1157.7L830.1 1161.2L831.4 1152.4L832.2 1157.7L833.3 1157.7L834.2 1180.5L835.0 1193.2L835.9 1222.7L837.1 1220.0L838.6 1215.7L839.8 1213.9L840.7 1198.1L841.9 1206.9L843.3 1220.9L844.5 1228.8L845.6 1215.7L846.8 1208.6L847.7 1203.4L848.6 1193.0L849.4 1208.6L850.5 1228.0L851.2 1210.4L853.0 1212.1L854.2 1231.5L855.4 1242.0L856.8 1235.0L858.2 1229.7L859.1 1228.0L859.8 1249.0L860.7 1215.7L861.4 1192.8L862.1 1180.5L863.5 1178.8L864.4 1176.1L865.6 1177.0L866.3 1192.7L867.4 1205.1L868.8 1215.7L869.6 1242.9L870.5 1222.7L871.6 1192.6L872.6 1191.1L873.7 1184.0L874.6 1154.2L875.8 1141.9L876.7 1119.0L877.5 1098.8L878.8 1110.3L879.8 1127.8L880.7 1161.2L881.6 1150.7L882.3 1192.4L882.8 1208.6L883.7 1201.6L884.9 1203.4L886.3 1212.1L887.2 1222.7L888.1 1192.3L889.0 1171.7L890.2 1161.2L891.3 1145.4L892.0 1129.6L892.8 1163.0L893.7 1180.5L894.6 1192.2L896.0 1198.1L896.9 1199.8L897.7 1215.7L898.6 1203.4L899.3 1192.1L900.4 1206.9L901.6 1227.1L902.7 1226.2L903.9 1219.2L905.1 1217.4L906.5 1212.1L907.8 1219.2L908.8 1212.1L910.0 1210.4L910.9 1203.4L911.6 1191.9L912.3 1182.3L913.2 1185.8L913.9 1191.9L914.8 1215.7L915.8 1238.5L917.1 1254.3L918.3 1273.6L919.4 1233.2L920.2 1191.8L920.8 1176.1L921.5 1191.7L922.3 1199.0L923.2 1204.2L924.6 1204.2L925.5 1194.6L926.4 1205.1L927.3 1217.4L928.1 1203.4L928.8 1191.6L929.4 1152.4L930.1 1191.6L931.1 1215.7L932.0 1227.1L932.9 1213.9L934.1 1210.4L935.2 1224.4L936.2 1256.1L937.3 1215.7L938.2 1191.5L939.0 1185.8L939.6 1191.4L940.4 1208.6L941.1 1191.4L942.5 1182.3L943.1 1191.4L943.9 1215.7L945.2 1220.9L946.4 1222.7L947.5 1208.6L948.3 1233.2L949.6 1252.5L950.6 1266.6L951.7 1247.3L953.1 1240.2L954.5 1238.5L955.4 1215.7L956.2 1191.2L957.1 1163.0L958.4 1134.9L959.8 1131.3L961.0 1127.8L962.4 1104.1L963.3 1127.8L964.5 1129.6L965.7 1145.4L967.1 1143.6L968.4 1134.0L969.4 1148.9L970.6 1173.5L971.9 1184.0L972.9 1163.0L973.8 1148.9L975.0 1143.6L976.4 1127.8L977.7 1105.9L978.9 1141.9L980.3 1152.4L981.5 1150.7L982.6 1134.9L983.5 1123.4L984.3 1145.4L985.1 1190.7L986.1 1215.7L987.3 1247.3L988.4 1266.6L989.6 1242.0L990.8 1235.0L992.1 1231.5L993.0 1215.7L993.5 1190.5L994.4 1141.9L995.2 1163.0L996.6 1159.4L997.5 1159.4L998.8 1141.9L999.8 1159.4L1001.0 1173.5L1001.9 1190.4L1003.1 1202.5L1004.0 1190.4L1005.1 1159.4L1006.5 1152.4L1007.5 1159.4L1008.9 1159.4L1010.0 1190.3L1011.0 1215.7L1011.9 1232.3L1012.8 1190.2L1013.5 1152.4L1014.6 1143.6L1015.6 1163.0L1016.7 1168.2L1017.4 1194.6L1018.4 1180.5L1019.5 1173.5L1020.7 1163.0L1021.6 1148.9L1022.6 1159.4L1023.3 1190.0L1024.6 1229.7L1025.8 1215.7L1026.9 1220.9L1028.1 1224.4L1029.0 1180.5L1030.0 1198.1L1030.7 1189.9L1031.4 1182.3L1032.1 1189.9L1033.2 1199.8L1034.4 1203.4L1035.6 1226.2L1037.0 1222.7L1038.3 1229.7L1039.1 1189.8L1039.7 1182.3L1040.5 1198.1L1041.4 1215.7L1042.3 1198.1L1043.2 1189.7L1044.1 1177.0L1045.5 1173.5L1046.0 1189.7L1047.0 1215.7L1047.9 1228.0L1049.0 1208.6L1050.0 1229.7L1051.1 1215.7L1051.8 1189.6L1052.5 1177.0L1053.4 1168.2L1054.1 1189.5L1055.1 1208.6L1056.3 1242.0L1057.6 1247.3L1058.6 1264.8L1059.5 1250.8L1060.4 1215.7L1061.3 1252.5L1062.1 1259.6L1063.0 1247.3L1064.3 1240.2L1065.7 1240.2L1066.5 1220.9L1067.8 1231.5L1068.6 1233.2L1069.3 1259.6L1070.2 1212.1L1071.8 1212.1L1072.7 1189.2L1073.6 1175.3L1074.3 1124.3L1075.5 1081.3L1076.4 1113.8L1077.1 1143.6L1078.3 1145.4L1079.5 1164.7L1080.9 1164.7L1081.5 1161.2L1082.2 1189.1L1083.2 1203.4L1084.5 1208.6L1085.5 1224.4L1086.6 1231.5L1087.6 1217.4L1088.5 1226.2L1089.4 1198.1L1090.1 1188.9L1090.8 1138.4L1091.5 1134.9L1092.4 1105.0L1093.4 1127.8L1094.5 1154.2L1096.4 1155.9L1097.3 1180.5L1098.2 1188.8L1099.0 1208.6L1099.9 1245.5L1100.8 1224.4L1101.5 1243.8L1102.5 1298.2L1103.8 1291.2L1105.0 1268.4L1106.1 1273.6L1106.9 1257.8L1108.2 1252.5L1109.4 1217.4L1110.4 1233.2L1111.3 1236.7L1112.4 1277.1L1113.4 1256.1L1114.7 1247.3L1115.7 1256.1L1116.6 1275.4L1117.8 1250.8L1119.1 1238.5L1120.1 1201.6L1121.3 1224.4L1122.2 1231.5L1123.1 1201.6L1124.5 1205.1L1125.4 1233.2L1126.6 1245.5L1128.0 1240.2L1128.7 1188.3L1129.4 1147.1L1130.5 1106.7L1131.5 1062.8L1132.4 1080.4L1133.6 1110.3L1134.9 1124.3L1135.9 1140.1L1136.8 1143.6L1137.7 1139.2L1138.9 1143.6L1139.6 1161.2L1140.5 1135.7L1141.4 1154.2L1142.4 1154.2L1143.3 1184.0L1144.2 1184.9L1145.2 1180.5L1145.9 1188.0L1146.8 1194.6L1147.5 1205.1L1148.2 1188.0L1148.9 1163.0L1149.6 1152.4L1150.5 1170.0L1151.2 1187.9L1152.1 1194.6L1153.1 1217.4L1154.0 1194.6L1154.7 1187.8L1155.4 1173.5L1156.1 1187.8L1156.8 1185.8L1157.7 1187.8L1158.8 1198.1L1160.0 1212.1L1161.7 1228.8L1162.8 1215.7L1163.7 1187.7L1164.7 1217.4L1165.6 1187.7L1166.5 1177.0L1167.5 1144.5L1168.2 1187.6L1169.1 1194.6L1170.2 1205.1L1171.4 1239.4L1172.6 1233.2L1174.0 1212.1L1175.1 1208.6L1176.3 1203.4L1177.5 1212.1L1178.6 1276.3L1179.3 1236.7L1180.7 1233.2L1181.9 1222.7L1183.2 1226.2L1184.2 1217.4L1185.5 1226.2L1186.7 1205.1L1188.1 1203.4L1189.0 1212.1L1189.8 1187.3L1190.7 1180.5L1191.6 1163.0L1192.8 1173.5L1193.7 1185.8L1194.8 1194.6L1196.0 1215.7L1197.2 1229.7L1198.6 1278.9L1199.5 1254.3L1200.7 1247.3L1202.1 1242.0L1203.4 1226.2L1204.4 1220.9L1205.1 1187.0L1206.2 1163.0L1207.4 1110.3L1208.5 1088.3L1209.3 1101.5L1210.6 1106.7L1211.6 1145.4L1212.7 1148.9L1214.4 1148.0L1215.3 1180.5L1215.8 1186.8L1216.7 1215.7L1217.6 1236.7L1218.8 1228.0L1220.1 1219.2L1221.1 1208.6L1222.3 1215.7L1223.2 1208.6L1224.3 1219.2L1225.3 1198.1L1226.7 1198.1L1228.0 1208.6L1229.0 1219.2L1229.9 1233.2L1231.1 1262.2L1232.4 1256.1L1233.8 1242.0L1234.6 1231.5L1235.5 1236.7L1236.9 1263.1L1237.8 1250.8L1238.5 1212.1L1239.0 1186.4L1239.9 1175.3L1240.8 1156.8L1241.7 1166.5L1242.5 1160.3L1243.4 1170.0L1244.3 1192.8L1245.2 1145.4L1246.4 1092.7L1247.5 1110.3L1248.3 1140.1L1249.2 1152.4L1250.4 1150.7L1251.3 1141.0L1252.4 1140.1L1253.4 1166.5L1254.1 1186.2L1254.8 1205.1L1255.9 1229.7L1256.9 1243.8L1258.0 1278.9L1258.9 1242.0L1260.1 1224.4L1261.5 1233.2L1262.4 1235.0L1263.3 1245.5L1264.5 1215.7L1265.4 1205.1L1266.6 1240.2L1267.7 1220.9L1268.5 1233.2L1269.4 1238.5L1270.3 1220.9L1271.0 1219.2L1271.9 1185.9L1272.8 1166.5L1273.8 1141.9L1275.2 1140.1L1276.3 1092.7L1277.5 1061.1L1278.6 1099.7L1279.8 1098.0L1281.2 1083.9L1282.1 1127.8L1282.9 1177.0L1283.8 1185.7L1284.7 1208.6L1285.8 1233.2L1286.8 1236.7L1287.7 1254.3L1288.6 1233.2L1289.6 1235.0L1290.7 1229.7L1291.5 1240.2L1292.6 1222.7L1293.5 1198.1L1294.0 1185.5L1294.5 1173.5L1295.2 1185.5L1296.1 1196.3L1297.3 1198.1L1298.4 1233.2L1299.6 1231.5L1300.5 1249.0L1301.6 1224.4L1302.4 1194.6L1303.0 1185.4L1303.5 1179.6L1304.0 1185.4L1304.9 1215.7L1305.8 1228.0L1306.8 1228.0L1307.9 1250.8L1308.9 1285.0L1310.0 1236.7L1311.0 1206.9L1311.9 1185.2L1312.8 1152.4L1313.9 1126.1L1314.9 1104.1L1315.8 1127.8L1316.7 1134.9L1318.1 1154.2L1319.3 1155.9L1320.5 1168.2L1321.6 1185.1L1323.0 1185.0L1323.7 1192.8L1324.7 1185.0L1325.6 1203.4L1326.7 1224.4L1327.7 1201.6L1328.6 1198.1L1330.0 1199.3L1330.9 1217.8L1332.2 1221.5L1333.7 1228.9L1335.2 1242.8L1336.5 1217.8L1337.4 1199.3L1338.0 1184.8L1338.7 1171.5L1339.6 1168.7L1340.4 1195.6L1341.1 1184.7L1342.0 1169.6L1343.3 1159.4L1344.4 1163.1L1345.7 1158.5L1347.0 1162.2L1348.1 1171.5L1349.3 1186.3L1350.4 1169.6L1351.7 1164.4L1352.8 1173.3L1353.5 1184.5L1354.6 1199.3L1355.9 1203.0L1357.2 1208.5L1358.3 1243.7L1359.3 1217.8L1360.6 1204.8L1361.9 1195.6L1363.0 1214.1L1364.3 1225.2L1365.6 1203.0L1366.7 1199.3L1367.6 1184.3L1368.5 1182.6L1369.4 1221.5L1370.4 1184.2L1371.1 1173.3L1372.2 1149.3L1373.5 1125.2L1374.4 1106.7L1375.4 1069.6L1376.3 1028.9L1377.4 1034.4L1378.3 1058.5L1379.3 1049.3L1380.4 999.3L1381.5 954.8L1382.4 982.6L1383.3 1043.7L1384.3 1106.7L1385.6 1143.7L1386.5 1162.2L1387.4 1184.0L1388.3 1212.2L1389.3 1180.7L1390.6 1204.8L1391.7 1197.4L1392.6 1188.1L1393.5 1179.8L1394.3 1199.3L1395.0 1178.9L1395.9 1183.8L1397.0 1208.5L1398.5 1228.9L1400.0 1244.6L1401.3 1232.6L1402.6 1228.9L1403.7 1217.8L1405.0 1210.4L1405.9 1183.6L1407.2 1176.1L1408.0 1183.6L1409.1 1208.5L1410.2 1219.6L1411.1 1183.6L1412.0 1177.0L1413.3 1160.4L1414.8 1153.0L1416.1 1125.2L1417.4 1103.0L1418.5 1104.8L1419.6 1091.9L1420.7 1117.8L1422.0 1115.9L1423.1 1105.7L1424.1 1125.2L1425.0 1147.4L1425.9 1177.0L1426.7 1183.3L1427.8 1208.5L1429.1 1227.0L1430.4 1240.0L1431.5 1246.5L1432.8 1232.6L1433.7 1217.8L1434.6 1184.4L1435.6 1178.9L1436.7 1174.3L1437.6 1183.1L1438.5 1217.8L1439.6 1199.3L1440.6 1186.3L1441.7 1206.7L1443.0 1193.7L1444.4 1193.7L1445.6 1165.9L1446.3 1183.0L1447.2 1190.0L1448.1 1182.9L1449.4 1197.4L1450.7 1203.0L1452.2 1210.4L1453.5 1203.0L1455.0 1199.3L1455.9 1182.8L1456.9 1182.8L1457.8 1162.2L1459.1 1153.0L1460.2 1151.1L1461.5 1147.4L1462.8 1140.0L1463.7 1134.4L1464.6 1140.0L1465.6 1121.5L1466.7 1071.5L1467.6 1086.3L1468.5 1153.0L1469.4 1182.6L1470.4 1172.4L1471.7 1173.3L1473.0 1171.5L1474.1 1158.5L1475.4 1128.9L1476.7 1109.4L1477.8 1125.2L1478.9 1149.3L1480.0 1152.0L1480.9 1149.3L1481.9 1164.1L1483.0 1175.2L1484.1 1182.3L1485.2 1219.6L1486.1 1210.4L1487.4 1206.7L1488.5 1217.8L1489.3 1199.3L1490.0 1182.2L1490.6 1132.6L1491.5 1132.6L1492.4 1130.7L1493.3 1154.8L1494.3 1182.2L1495.4 1230.7L1496.3 1206.7L1497.6 1204.8L1498.9 1199.3L1500.0 1193.7L1501.3 1203.0L1502.2 1214.1L1503.3 1182.0L1504.1 1179.8L1504.6 1240.0L1505.9 1234.4L1507.2 1228.9L1508.3 1193.7L1509.6 1199.3L1511.1 1234.4L1512.0 1208.5L1513.0 1181.9L1513.9 1143.7L1514.8 1106.7L1515.7 1041.9L1517.0 982.6L1518.5 980.7L1519.4 991.9L1520.6 966.9L1521.5 993.7L1522.6 1034.4L1524.1 1025.2L1525.0 1054.8L1525.9 1088.1L1527.0 1125.2L1528.1 1154.8L1529.3 1175.2L1530.4 1175.2L1531.1 1188.1L1531.9 1181.5L1532.4 1170.6L1533.1 1181.5L1533.9 1214.1L1535.2 1212.2L1536.1 1201.1L1537.4 1210.4L1538.5 1208.5L1539.4 1225.2L1540.4 1206.7L1541.3 1202.0L1542.4 1203.0L1543.0 1181.4L1543.7 1172.4L1544.4 1175.2L1545.2 1181.3L1546.3 1223.3L1547.4 1199.3L1548.5 1221.5L1549.6 1215.9L1550.6 1181.2L1551.5 1162.2L1552.4 1147.4L1553.3 1181.2L1554.4 1186.3L1555.9 1208.5L1557.4 1228.9L1558.7 1229.8L1559.6 1208.5L1560.2 1181.1L1560.9 1143.7L1561.7 1125.2L1562.8 1124.3L1563.7 1143.7L1564.4 1184.4L1565.2 1178.9L1565.9 1165.9L1567.0 1143.7L1568.3 1120.6L1569.3 1151.1L1570.4 1152.0L1571.5 1164.1L1572.2 1180.9L1573.0 1212.2L1573.7 1199.3L1574.4 1180.8L1575.4 1165.9L1576.7 1160.4L1577.6 1147.4L1578.5 1139.1L1579.6 1147.4L1580.6 1169.6L1581.5 1180.7L1582.6 1206.7L1583.7 1195.6L1584.8 1180.7L1585.9 1175.2L1586.7 1143.7L1587.4 1122.4L1588.1 1162.2L1588.9 1180.6L1589.6 1206.7L1590.6 1224.3L1591.5 1180.5L1592.2 1174.3L1593.0 1182.6L1594.4 1199.3L1595.4 1217.8L1596.3 1235.4L1597.2 1208.5L1598.0 1180.4L1598.7 1164.1L1599.4 1156.7L1600.0 1180.4L1600.7 1199.3L1601.5 1180.4L1602.4 1177.0L1603.7 1143.7L1605.0 1117.8L1605.9 1110.4L1607.2 1105.7L1608.3 1143.7L1609.3 1175.2L1610.0 1180.2L1611.1 1217.8L1612.4 1236.3L1613.7 1245.6L1614.6 1247.4L1615.6 1267.8L1616.5 1245.6L1617.2 1180.1L1618.0 1155.7L1618.9 1158.5L1620.2 1164.1L1621.3 1162.2L1622.4 1122.4L1623.3 1143.7L1624.4 1162.2L1625.2 1180.0L1626.3 1182.6L1627.6 1190.0L1628.5 1204.8L1628.9 1179.9L1629.3 1179.9L1629.6 1151.1L1630.6 1130.3L1631.5 1112.2L1632.5 1126.1L1633.5 1144.2L1634.4 1158.1L1635.6 1158.1L1636.7 1169.2L1637.8 1165.0L1638.6 1159.4L1639.4 1153.9L1640.3 1163.6L1640.8 1179.7L1641.5 1216.4L1642.5 1254.6L1643.3 1242.8L1644.3 1240.0L1645.0 1213.6L1646.0 1210.8L1646.7 1190.0L1647.6 1203.9L1648.3 1190.0L1648.9 1179.6L1649.4 1169.9L1650.6 1164.0L1651.4 1173.3L1651.9 1179.5L1652.5 1203.9L1653.6 1226.8L1654.4 1208.1L1655.3 1195.6L1656.0 1179.5L1656.4 1158.1L1657.2 1151.1L1658.1 1142.8L1658.8 1123.3L1659.6 1101.1L1660.3 1142.8L1661.1 1165.0L1661.9 1167.8L1662.6 1176.1L1663.2 1179.3L1663.8 1196.9L1664.6 1205.3L1665.4 1190.0L1666.4 1190.0L1667.2 1215.0L1668.3 1231.7L1669.4 1254.6L1670.6 1241.4L1671.4 1219.2L1672.2 1208.1L1673.1 1188.6L1674.4 1188.6L1675.6 1199.7L1676.5 1192.8L1677.2 1184.4L1677.9 1179.1L1678.3 1126.1L1679.3 1101.1L1680.3 1121.9L1681.4 1141.4L1682.5 1146.9L1683.5 1141.4L1683.9 1179.0" stroke="#c8c8c8" stroke-width="1" fill="none" stroke-linejoin="miter" stroke-miterlimit="10"/>
<clipPath id="u2"><path d="M139.9 881.45H1684.9V1178.6L139.9 1204.4Z"/></clipPath>
<clipPath id="d2"><path d="M139.9 1399.35H1684.9V1179.4L139.9 1205.2Z"/></clipPath>
<path d="M140.9 1215.9L142.3 1233.5L143.5 1243.1L144.4 1196.6L144.9 1180.8L145.8 1204.7L146.7 1212.4L147.6 1198.4L148.4 1186.9L149.3 1204.7L150.7 1217.7L152.1 1222.9L153.2 1183.4L154.1 1204.6L155.5 1219.4L156.3 1204.5L157.2 1125.5L158.1 1159.7L159.5 1145.7L160.2 1204.5L161.3 1242.3L162.5 1265.1L163.4 1280.9L164.4 1254.6L165.7 1230.0L166.5 1204.4L167.4 1177.3L168.5 1187.8L169.2 1204.3L170.0 1230.0L171.3 1254.6L172.5 1258.1L173.7 1265.1L174.6 1204.2L175.3 1145.7L176.4 1175.5L176.9 1204.2L177.8 1242.3L179.2 1249.3L180.6 1315.2L181.8 1251.0L182.7 1222.9L184.1 1215.9L185.0 1204.1L185.9 1212.4L186.7 1221.2L188.0 1217.7L189.2 1233.5L190.4 1245.8L191.7 1228.2L192.7 1204.8L193.6 1201.0L194.5 1204.8L195.3 1219.4L196.4 1200.1L197.5 1149.2L198.5 1166.7L199.6 1182.5L200.3 1204.8L201.0 1237.0L202.0 1228.2L202.9 1204.8L203.8 1189.6L205.2 1172.0L206.4 1163.2L207.8 1164.1L209.4 1163.2L211.3 1154.1L212.9 1156.2L214.3 1159.7L216.1 1158.3L217.3 1170.2L218.9 1177.3L220.1 1168.5L221.3 1160.1L222.7 1165.0L224.0 1170.2L225.7 1172.9L227.1 1187.8L228.4 1186.1L230.5 1176.9L231.9 1179.9L233.6 1183.4L235.4 1179.4L237.1 1187.8L238.9 1180.8L240.7 1175.9L242.1 1182.5L243.3 1186.9L245.1 1185.2L246.5 1196.6L248.0 1187.8L250.3 1181.7L252.1 1187.8L254.4 1187.8L256.1 1196.6L257.9 1194.8L259.6 1186.1L261.2 1185.2L262.6 1188.7L264.4 1189.6L266.1 1198.4L267.9 1193.1L269.6 1187.8L271.4 1192.2L273.5 1191.7L274.9 1202.6L276.3 1203.6L277.5 1194.8L279.0 1175.5L280.2 1152.7L281.4 1114.0L282.5 1100.0L283.7 1063.1L284.2 1138.6L285.5 1168.5L286.9 1186.1L288.4 1191.3L289.8 1202.3L290.7 1205.4L291.6 1224.7L292.8 1244.0L294.2 1224.7L295.6 1212.4L296.9 1203.6L298.3 1198.4L299.0 1203.6L300.4 1233.5L301.6 1252.8L302.7 1215.9L303.4 1202.1L304.2 1159.7L305.7 1135.1L306.5 1145.7L307.8 1173.8L309.2 1187.8L310.4 1193.1L311.3 1202.0L312.7 1219.4L313.9 1224.7L315.3 1284.4L316.5 1296.7L317.6 1259.8L318.8 1233.5L320.1 1222.9L321.5 1249.3L322.9 1233.5L324.1 1228.2L325.3 1215.9L326.4 1212.4L328.0 1219.4L329.5 1261.6L330.6 1245.8L332.0 1251.0L333.4 1303.7L334.6 1259.8L335.9 1219.4L336.9 1201.5L338.2 1198.4L339.0 1201.5L340.4 1231.7L341.3 1201.4L342.5 1189.6L343.2 1201.4L344.3 1254.6L345.7 1265.1L346.9 1244.0L348.2 1215.9L349.6 1215.0L350.4 1233.5L351.7 1292.3L352.7 1268.6L354.0 1230.0L355.2 1214.2L356.6 1212.4L357.6 1222.9L358.4 1201.2L358.9 1163.2L359.6 1120.2L360.6 1135.1L361.9 1145.7L363.3 1147.4L364.5 1153.6L365.7 1156.2L367.1 1154.4L368.5 1155.3L369.4 1145.7L370.3 1057.8L371.3 1010.4L372.4 1056.1L373.3 1136.9L374.2 1158.8L375.6 1163.2L376.8 1172.0L378.0 1179.0L379.4 1187.8L380.3 1200.8L381.5 1209.8L382.9 1208.9L384.0 1200.7L384.7 1180.8L385.6 1157.1L386.5 1157.1L387.3 1172.0L388.6 1177.3L389.3 1200.6L390.3 1235.2L391.0 1200.6L391.7 1163.2L392.8 1135.1L393.8 1152.7L394.9 1165.0L396.1 1164.1L397.3 1154.4L399.1 1154.4L400.5 1142.1L401.9 1122.8L402.8 1145.7L403.7 1163.2L404.5 1180.8L405.4 1200.4L406.7 1230.0L407.5 1249.3L408.8 1222.9L409.8 1205.4L411.0 1201.9L412.3 1210.6L413.5 1272.1L414.6 1251.0L415.8 1215.9L416.8 1200.2L418.1 1191.3L419.8 1189.6L421.6 1179.0L423.3 1170.2L424.7 1172.0L425.6 1163.2L426.5 1141.3L427.4 1207.1L428.1 1180.8L429.1 1145.7L430.0 1143.6L431.1 1185.8L432.3 1180.5L433.5 1185.8L434.9 1164.7L436.1 1159.4L437.2 1135.7L438.1 1189.3L439.1 1199.8L440.2 1233.2L441.8 1266.6L443.0 1215.7L443.7 1199.7L444.9 1180.5L446.2 1154.2L447.2 1180.5L448.1 1199.7L449.0 1236.7L450.7 1266.6L452.0 1263.1L453.2 1270.1L454.1 1242.0L454.8 1201.6L455.6 1217.4L456.7 1199.5L457.6 1189.3L458.5 1176.1L459.3 1199.5L460.6 1216.5L461.6 1199.4L462.5 1174.4L463.4 1187.5L464.4 1185.8L465.7 1170.0L466.9 1157.7L468.3 1145.4L469.5 1110.3L470.4 1096.2L472.2 1099.7L473.4 1085.7L474.4 1074.3L475.7 1096.2L476.9 1112.0L478.0 1141.9L479.2 1187.5L480.6 1199.1L481.3 1213.9L482.3 1224.4L483.8 1213.9L485.2 1206.9L486.2 1208.6L487.4 1273.6L488.3 1215.7L489.7 1185.8L490.2 1215.7L491.5 1236.7L492.9 1235.0L493.8 1247.3L495.0 1198.9L495.9 1189.3L496.7 1150.7L498.2 1098.0L499.4 1119.0L500.6 1136.6L502.0 1170.0L503.4 1177.0L504.7 1163.0L505.9 1171.7L506.6 1215.7L507.3 1275.4L508.5 1285.9L509.4 1307.0L510.4 1266.6L512.0 1268.4L513.4 1261.3L514.8 1258.7L516.1 1238.5L517.3 1228.0L518.4 1252.5L519.6 1228.0L521.0 1222.7L522.2 1208.6L523.1 1188.4L524.0 1198.4L524.9 1202.5L526.1 1194.6L527.5 1184.0L529.2 1179.6L530.5 1178.8L531.5 1185.8L532.4 1203.4L533.6 1190.2L534.7 1198.2L535.4 1242.0L535.9 1198.2L536.8 1184.0L538.0 1177.0L539.3 1148.9L539.8 1141.9L541.0 1154.2L542.4 1153.3L543.8 1170.0L545.4 1159.4L546.3 1203.4L546.8 1180.5L548.0 1141.9L549.4 1106.7L550.9 1105.0L552.3 1069.0L553.3 1108.5L554.4 1145.4L555.6 1154.2L556.8 1168.2L557.9 1161.2L560.0 1164.7L560.9 1180.5L561.7 1197.8L563.1 1199.8L564.4 1215.7L565.6 1238.5L566.7 1244.6L567.5 1194.6L568.4 1206.9L569.1 1191.1L570.2 1175.3L571.1 1197.6L572.3 1213.9L573.2 1197.6L574.0 1163.0L575.3 1147.1L575.8 1126.1L577.0 1137.5L578.4 1101.5L579.8 1071.6L580.7 1110.3L581.9 1143.6L583.2 1133.1L584.6 1148.9L585.8 1163.0L587.2 1175.3L588.6 1180.5L589.8 1185.8L591.1 1197.3L592.5 1215.7L593.7 1213.9L595.5 1231.5L596.9 1213.9L598.3 1197.2L599.2 1177.0L600.0 1149.8L600.9 1197.1L602.1 1212.1L603.0 1197.1L603.9 1145.4L604.8 1119.0L606.2 1124.3L607.4 1135.7L608.8 1137.5L610.0 1163.0L610.9 1196.9L611.8 1228.0L613.6 1243.8L615.3 1242.0L616.7 1247.3L618.0 1254.3L619.4 1266.6L620.6 1242.0L621.5 1259.6L622.3 1254.3L623.2 1196.7L624.1 1185.8L625.3 1136.6L626.6 1109.4L627.6 1136.6L628.5 1170.0L629.7 1196.6L630.6 1211.3L631.3 1196.6L632.4 1154.2L633.4 1138.4L635.0 1154.2L637.3 1154.2L638.7 1163.0L640.4 1166.5L641.3 1196.4L642.5 1252.5L644.3 1249.0L645.7 1249.0L646.9 1257.8L648.2 1266.6L649.6 1224.4L651.0 1233.2L652.7 1266.6L654.0 1229.7L655.7 1222.7L657.1 1236.7L658.4 1264.8L659.8 1273.6L661.0 1284.2L662.2 1268.4L663.6 1264.8L665.0 1242.0L666.8 1249.0L668.0 1268.4L669.2 1282.4L670.6 1275.4L672.1 1268.4L674.2 1257.8L675.4 1282.4L676.4 1328.1L677.7 1282.4L678.7 1242.0L679.8 1319.3L681.2 1285.9L682.6 1242.0L683.8 1224.4L685.1 1224.4L686.1 1249.0L687.3 1259.6L688.6 1259.6L689.6 1285.9L690.5 1233.2L691.4 1195.6L692.6 1189.3L693.8 1166.5L695.2 1145.4L696.5 1137.5L697.5 1154.2L698.8 1159.4L699.8 1180.5L700.5 1195.4L701.6 1231.5L702.4 1215.7L703.3 1198.1L704.0 1203.4L705.1 1229.7L705.8 1201.6L706.5 1191.1L707.2 1208.6L708.1 1217.4L709.3 1236.7L710.3 1208.6L711.0 1195.3L711.9 1185.8L713.2 1166.5L714.6 1140.1L715.6 1129.6L716.7 1163.0L717.7 1191.1L718.4 1195.1L719.8 1224.4L720.9 1203.4L721.9 1195.1L723.0 1189.3L724.7 1171.7L726.0 1166.5L727.2 1163.0L728.6 1155.1L730.0 1163.0L730.9 1191.1L731.8 1194.9L732.6 1215.7L733.9 1263.1L734.9 1238.5L736.1 1233.2L737.4 1236.7L738.8 1250.8L739.7 1285.9L740.5 1313.1L741.8 1285.9L743.2 1271.9L744.4 1250.8L745.5 1215.7L746.3 1198.1L747.2 1194.7L748.4 1191.1L749.5 1168.2L750.4 1184.0L751.1 1194.6L752.0 1236.7L752.8 1250.8L753.7 1276.3L754.6 1250.8L755.8 1194.5L756.7 1170.0L757.6 1134.9L758.6 1105.0L759.9 1090.9L761.1 1085.7L762.5 1056.7L763.4 1092.7L764.3 1134.9L765.5 1114.7L766.5 1163.0L767.4 1185.8L768.3 1186.7L769.2 1194.3L770.4 1196.3L771.5 1179.6L772.2 1226.2L773.0 1194.2L773.9 1189.3L775.0 1182.3L775.7 1194.2L776.5 1208.6L777.8 1238.5L779.2 1222.7L780.4 1219.2L781.5 1201.6L782.7 1205.1L784.1 1226.2L785.3 1251.7L786.6 1235.0L788.0 1233.2L789.4 1235.0L790.6 1224.4L791.8 1233.2L792.7 1268.4L793.6 1229.7L795.0 1240.2L796.4 1238.5L797.6 1219.2L798.5 1238.5L799.7 1257.8L800.8 1262.2L802.0 1224.4L803.4 1217.4L804.7 1193.7L805.5 1177.0L806.8 1163.0L807.8 1185.8L808.7 1193.6L809.6 1208.6L810.8 1224.4L812.2 1242.0L813.4 1250.8L814.7 1263.1L815.5 1272.7L816.6 1261.3L817.8 1257.8L819.1 1249.0L820.1 1256.1L821.3 1228.0L822.2 1193.4L823.1 1161.2L824.5 1159.4L825.7 1152.4L827.5 1141.0L828.7 1157.7L830.1 1161.2L831.4 1152.4L832.2 1157.7L833.3 1157.7L834.2 1180.5L835.0 1193.2L835.9 1222.7L837.1 1220.0L838.6 1215.7L839.8 1213.9L840.7 1198.1L841.9 1206.9L843.3 1220.9L844.5 1228.8L845.6 1215.7L846.8 1208.6L847.7 1203.4L848.6 1193.0L849.4 1208.6L850.5 1228.0L851.2 1210.4L853.0 1212.1L854.2 1231.5L855.4 1242.0L856.8 1235.0L858.2 1229.7L859.1 1228.0L859.8 1249.0L860.7 1215.7L861.4 1192.8L862.1 1180.5L863.5 1178.8L864.4 1176.1L865.6 1177.0L866.3 1192.7L867.4 1205.1L868.8 1215.7L869.6 1242.9L870.5 1222.7L871.6 1192.6L872.6 1191.1L873.7 1184.0L874.6 1154.2L875.8 1141.9L876.7 1119.0L877.5 1098.8L878.8 1110.3L879.8 1127.8L880.7 1161.2L881.6 1150.7L882.3 1192.4L882.8 1208.6L883.7 1201.6L884.9 1203.4L886.3 1212.1L887.2 1222.7L888.1 1192.3L889.0 1171.7L890.2 1161.2L891.3 1145.4L892.0 1129.6L892.8 1163.0L893.7 1180.5L894.6 1192.2L896.0 1198.1L896.9 1199.8L897.7 1215.7L898.6 1203.4L899.3 1192.1L900.4 1206.9L901.6 1227.1L902.7 1226.2L903.9 1219.2L905.1 1217.4L906.5 1212.1L907.8 1219.2L908.8 1212.1L910.0 1210.4L910.9 1203.4L911.6 1191.9L912.3 1182.3L913.2 1185.8L913.9 1191.9L914.8 1215.7L915.8 1238.5L917.1 1254.3L918.3 1273.6L919.4 1233.2L920.2 1191.8L920.8 1176.1L921.5 1191.7L922.3 1199.0L923.2 1204.2L924.6 1204.2L925.5 1194.6L926.4 1205.1L927.3 1217.4L928.1 1203.4L928.8 1191.6L929.4 1152.4L930.1 1191.6L931.1 1215.7L932.0 1227.1L932.9 1213.9L934.1 1210.4L935.2 1224.4L936.2 1256.1L937.3 1215.7L938.2 1191.5L939.0 1185.8L939.6 1191.4L940.4 1208.6L941.1 1191.4L942.5 1182.3L943.1 1191.4L943.9 1215.7L945.2 1220.9L946.4 1222.7L947.5 1208.6L948.3 1233.2L949.6 1252.5L950.6 1266.6L951.7 1247.3L953.1 1240.2L954.5 1238.5L955.4 1215.7L956.2 1191.2L957.1 1163.0L958.4 1134.9L959.8 1131.3L961.0 1127.8L962.4 1104.1L963.3 1127.8L964.5 1129.6L965.7 1145.4L967.1 1143.6L968.4 1134.0L969.4 1148.9L970.6 1173.5L971.9 1184.0L972.9 1163.0L973.8 1148.9L975.0 1143.6L976.4 1127.8L977.7 1105.9L978.9 1141.9L980.3 1152.4L981.5 1150.7L982.6 1134.9L983.5 1123.4L984.3 1145.4L985.1 1190.7L986.1 1215.7L987.3 1247.3L988.4 1266.6L989.6 1242.0L990.8 1235.0L992.1 1231.5L993.0 1215.7L993.5 1190.5L994.4 1141.9L995.2 1163.0L996.6 1159.4L997.5 1159.4L998.8 1141.9L999.8 1159.4L1001.0 1173.5L1001.9 1190.4L1003.1 1202.5L1004.0 1190.4L1005.1 1159.4L1006.5 1152.4L1007.5 1159.4L1008.9 1159.4L1010.0 1190.3L1011.0 1215.7L1011.9 1232.3L1012.8 1190.2L1013.5 1152.4L1014.6 1143.6L1015.6 1163.0L1016.7 1168.2L1017.4 1194.6L1018.4 1180.5L1019.5 1173.5L1020.7 1163.0L1021.6 1148.9L1022.6 1159.4L1023.3 1190.0L1024.6 1229.7L1025.8 1215.7L1026.9 1220.9L1028.1 1224.4L1029.0 1180.5L1030.0 1198.1L1030.7 1189.9L1031.4 1182.3L1032.1 1189.9L1033.2 1199.8L1034.4 1203.4L1035.6 1226.2L1037.0 1222.7L1038.3 1229.7L1039.1 1189.8L1039.7 1182.3L1040.5 1198.1L1041.4 1215.7L1042.3 1198.1L1043.2 1189.7L1044.1 1177.0L1045.5 1173.5L1046.0 1189.7L1047.0 1215.7L1047.9 1228.0L1049.0 1208.6L1050.0 1229.7L1051.1 1215.7L1051.8 1189.6L1052.5 1177.0L1053.4 1168.2L1054.1 1189.5L1055.1 1208.6L1056.3 1242.0L1057.6 1247.3L1058.6 1264.8L1059.5 1250.8L1060.4 1215.7L1061.3 1252.5L1062.1 1259.6L1063.0 1247.3L1064.3 1240.2L1065.7 1240.2L1066.5 1220.9L1067.8 1231.5L1068.6 1233.2L1069.3 1259.6L1070.2 1212.1L1071.8 1212.1L1072.7 1189.2L1073.6 1175.3L1074.3 1124.3L1075.5 1081.3L1076.4 1113.8L1077.1 1143.6L1078.3 1145.4L1079.5 1164.7L1080.9 1164.7L1081.5 1161.2L1082.2 1189.1L1083.2 1203.4L1084.5 1208.6L1085.5 1224.4L1086.6 1231.5L1087.6 1217.4L1088.5 1226.2L1089.4 1198.1L1090.1 1188.9L1090.8 1138.4L1091.5 1134.9L1092.4 1105.0L1093.4 1127.8L1094.5 1154.2L1096.4 1155.9L1097.3 1180.5L1098.2 1188.8L1099.0 1208.6L1099.9 1245.5L1100.8 1224.4L1101.5 1243.8L1102.5 1298.2L1103.8 1291.2L1105.0 1268.4L1106.1 1273.6L1106.9 1257.8L1108.2 1252.5L1109.4 1217.4L1110.4 1233.2L1111.3 1236.7L1112.4 1277.1L1113.4 1256.1L1114.7 1247.3L1115.7 1256.1L1116.6 1275.4L1117.8 1250.8L1119.1 1238.5L1120.1 1201.6L1121.3 1224.4L1122.2 1231.5L1123.1 1201.6L1124.5 1205.1L1125.4 1233.2L1126.6 1245.5L1128.0 1240.2L1128.7 1188.3L1129.4 1147.1L1130.5 1106.7L1131.5 1062.8L1132.4 1080.4L1133.6 1110.3L1134.9 1124.3L1135.9 1140.1L1136.8 1143.6L1137.7 1139.2L1138.9 1143.6L1139.6 1161.2L1140.5 1135.7L1141.4 1154.2L1142.4 1154.2L1143.3 1184.0L1144.2 1184.9L1145.2 1180.5L1145.9 1188.0L1146.8 1194.6L1147.5 1205.1L1148.2 1188.0L1148.9 1163.0L1149.6 1152.4L1150.5 1170.0L1151.2 1187.9L1152.1 1194.6L1153.1 1217.4L1154.0 1194.6L1154.7 1187.8L1155.4 1173.5L1156.1 1187.8L1156.8 1185.8L1157.7 1187.8L1158.8 1198.1L1160.0 1212.1L1161.7 1228.8L1162.8 1215.7L1163.7 1187.7L1164.7 1217.4L1165.6 1187.7L1166.5 1177.0L1167.5 1144.5L1168.2 1187.6L1169.1 1194.6L1170.2 1205.1L1171.4 1239.4L1172.6 1233.2L1174.0 1212.1L1175.1 1208.6L1176.3 1203.4L1177.5 1212.1L1178.6 1276.3L1179.3 1236.7L1180.7 1233.2L1181.9 1222.7L1183.2 1226.2L1184.2 1217.4L1185.5 1226.2L1186.7 1205.1L1188.1 1203.4L1189.0 1212.1L1189.8 1187.3L1190.7 1180.5L1191.6 1163.0L1192.8 1173.5L1193.7 1185.8L1194.8 1194.6L1196.0 1215.7L1197.2 1229.7L1198.6 1278.9L1199.5 1254.3L1200.7 1247.3L1202.1 1242.0L1203.4 1226.2L1204.4 1220.9L1205.1 1187.0L1206.2 1163.0L1207.4 1110.3L1208.5 1088.3L1209.3 1101.5L1210.6 1106.7L1211.6 1145.4L1212.7 1148.9L1214.4 1148.0L1215.3 1180.5L1215.8 1186.8L1216.7 1215.7L1217.6 1236.7L1218.8 1228.0L1220.1 1219.2L1221.1 1208.6L1222.3 1215.7L1223.2 1208.6L1224.3 1219.2L1225.3 1198.1L1226.7 1198.1L1228.0 1208.6L1229.0 1219.2L1229.9 1233.2L1231.1 1262.2L1232.4 1256.1L1233.8 1242.0L1234.6 1231.5L1235.5 1236.7L1236.9 1263.1L1237.8 1250.8L1238.5 1212.1L1239.0 1186.4L1239.9 1175.3L1240.8 1156.8L1241.7 1166.5L1242.5 1160.3L1243.4 1170.0L1244.3 1192.8L1245.2 1145.4L1246.4 1092.7L1247.5 1110.3L1248.3 1140.1L1249.2 1152.4L1250.4 1150.7L1251.3 1141.0L1252.4 1140.1L1253.4 1166.5L1254.1 1186.2L1254.8 1205.1L1255.9 1229.7L1256.9 1243.8L1258.0 1278.9L1258.9 1242.0L1260.1 1224.4L1261.5 1233.2L1262.4 1235.0L1263.3 1245.5L1264.5 1215.7L1265.4 1205.1L1266.6 1240.2L1267.7 1220.9L1268.5 1233.2L1269.4 1238.5L1270.3 1220.9L1271.0 1219.2L1271.9 1185.9L1272.8 1166.5L1273.8 1141.9L1275.2 1140.1L1276.3 1092.7L1277.5 1061.1L1278.6 1099.7L1279.8 1098.0L1281.2 1083.9L1282.1 1127.8L1282.9 1177.0L1283.8 1185.7L1284.7 1208.6L1285.8 1233.2L1286.8 1236.7L1287.7 1254.3L1288.6 1233.2L1289.6 1235.0L1290.7 1229.7L1291.5 1240.2L1292.6 1222.7L1293.5 1198.1L1294.0 1185.5L1294.5 1173.5L1295.2 1185.5L1296.1 1196.3L1297.3 1198.1L1298.4 1233.2L1299.6 1231.5L1300.5 1249.0L1301.6 1224.4L1302.4 1194.6L1303.0 1185.4L1303.5 1179.6L1304.0 1185.4L1304.9 1215.7L1305.8 1228.0L1306.8 1228.0L1307.9 1250.8L1308.9 1285.0L1310.0 1236.7L1311.0 1206.9L1311.9 1185.2L1312.8 1152.4L1313.9 1126.1L1314.9 1104.1L1315.8 1127.8L1316.7 1134.9L1318.1 1154.2L1319.3 1155.9L1320.5 1168.2L1321.6 1185.1L1323.0 1185.0L1323.7 1192.8L1324.7 1185.0L1325.6 1203.4L1326.7 1224.4L1327.7 1201.6L1328.6 1198.1L1330.0 1199.3L1330.9 1217.8L1332.2 1221.5L1333.7 1228.9L1335.2 1242.8L1336.5 1217.8L1337.4 1199.3L1338.0 1184.8L1338.7 1171.5L1339.6 1168.7L1340.4 1195.6L1341.1 1184.7L1342.0 1169.6L1343.3 1159.4L1344.4 1163.1L1345.7 1158.5L1347.0 1162.2L1348.1 1171.5L1349.3 1186.3L1350.4 1169.6L1351.7 1164.4L1352.8 1173.3L1353.5 1184.5L1354.6 1199.3L1355.9 1203.0L1357.2 1208.5L1358.3 1243.7L1359.3 1217.8L1360.6 1204.8L1361.9 1195.6L1363.0 1214.1L1364.3 1225.2L1365.6 1203.0L1366.7 1199.3L1367.6 1184.3L1368.5 1182.6L1369.4 1221.5L1370.4 1184.2L1371.1 1173.3L1372.2 1149.3L1373.5 1125.2L1374.4 1106.7L1375.4 1069.6L1376.3 1028.9L1377.4 1034.4L1378.3 1058.5L1379.3 1049.3L1380.4 999.3L1381.5 954.8L1382.4 982.6L1383.3 1043.7L1384.3 1106.7L1385.6 1143.7L1386.5 1162.2L1387.4 1184.0L1388.3 1212.2L1389.3 1180.7L1390.6 1204.8L1391.7 1197.4L1392.6 1188.1L1393.5 1179.8L1394.3 1199.3L1395.0 1178.9L1395.9 1183.8L1397.0 1208.5L1398.5 1228.9L1400.0 1244.6L1401.3 1232.6L1402.6 1228.9L1403.7 1217.8L1405.0 1210.4L1405.9 1183.6L1407.2 1176.1L1408.0 1183.6L1409.1 1208.5L1410.2 1219.6L1411.1 1183.6L1412.0 1177.0L1413.3 1160.4L1414.8 1153.0L1416.1 1125.2L1417.4 1103.0L1418.5 1104.8L1419.6 1091.9L1420.7 1117.8L1422.0 1115.9L1423.1 1105.7L1424.1 1125.2L1425.0 1147.4L1425.9 1177.0L1426.7 1183.3L1427.8 1208.5L1429.1 1227.0L1430.4 1240.0L1431.5 1246.5L1432.8 1232.6L1433.7 1217.8L1434.6 1184.4L1435.6 1178.9L1436.7 1174.3L1437.6 1183.1L1438.5 1217.8L1439.6 1199.3L1440.6 1186.3L1441.7 1206.7L1443.0 1193.7L1444.4 1193.7L1445.6 1165.9L1446.3 1183.0L1447.2 1190.0L1448.1 1182.9L1449.4 1197.4L1450.7 1203.0L1452.2 1210.4L1453.5 1203.0L1455.0 1199.3L1455.9 1182.8L1456.9 1182.8L1457.8 1162.2L1459.1 1153.0L1460.2 1151.1L1461.5 1147.4L1462.8 1140.0L1463.7 1134.4L1464.6 1140.0L1465.6 1121.5L1466.7 1071.5L1467.6 1086.3L1468.5 1153.0L1469.4 1182.6L1470.4 1172.4L1471.7 1173.3L1473.0 1171.5L1474.1 1158.5L1475.4 1128.9L1476.7 1109.4L1477.8 1125.2L1478.9 1149.3L1480.0 1152.0L1480.9 1149.3L1481.9 1164.1L1483.0 1175.2L1484.1 1182.3L1485.2 1219.6L1486.1 1210.4L1487.4 1206.7L1488.5 1217.8L1489.3 1199.3L1490.0 1182.2L1490.6 1132.6L1491.5 1132.6L1492.4 1130.7L1493.3 1154.8L1494.3 1182.2L1495.4 1230.7L1496.3 1206.7L1497.6 1204.8L1498.9 1199.3L1500.0 1193.7L1501.3 1203.0L1502.2 1214.1L1503.3 1182.0L1504.1 1179.8L1504.6 1240.0L1505.9 1234.4L1507.2 1228.9L1508.3 1193.7L1509.6 1199.3L1511.1 1234.4L1512.0 1208.5L1513.0 1181.9L1513.9 1143.7L1514.8 1106.7L1515.7 1041.9L1517.0 982.6L1518.5 980.7L1519.4 991.9L1520.6 966.9L1521.5 993.7L1522.6 1034.4L1524.1 1025.2L1525.0 1054.8L1525.9 1088.1L1527.0 1125.2L1528.1 1154.8L1529.3 1175.2L1530.4 1175.2L1531.1 1188.1L1531.9 1181.5L1532.4 1170.6L1533.1 1181.5L1533.9 1214.1L1535.2 1212.2L1536.1 1201.1L1537.4 1210.4L1538.5 1208.5L1539.4 1225.2L1540.4 1206.7L1541.3 1202.0L1542.4 1203.0L1543.0 1181.4L1543.7 1172.4L1544.4 1175.2L1545.2 1181.3L1546.3 1223.3L1547.4 1199.3L1548.5 1221.5L1549.6 1215.9L1550.6 1181.2L1551.5 1162.2L1552.4 1147.4L1553.3 1181.2L1554.4 1186.3L1555.9 1208.5L1557.4 1228.9L1558.7 1229.8L1559.6 1208.5L1560.2 1181.1L1560.9 1143.7L1561.7 1125.2L1562.8 1124.3L1563.7 1143.7L1564.4 1184.4L1565.2 1178.9L1565.9 1165.9L1567.0 1143.7L1568.3 1120.6L1569.3 1151.1L1570.4 1152.0L1571.5 1164.1L1572.2 1180.9L1573.0 1212.2L1573.7 1199.3L1574.4 1180.8L1575.4 1165.9L1576.7 1160.4L1577.6 1147.4L1578.5 1139.1L1579.6 1147.4L1580.6 1169.6L1581.5 1180.7L1582.6 1206.7L1583.7 1195.6L1584.8 1180.7L1585.9 1175.2L1586.7 1143.7L1587.4 1122.4L1588.1 1162.2L1588.9 1180.6L1589.6 1206.7L1590.6 1224.3L1591.5 1180.5L1592.2 1174.3L1593.0 1182.6L1594.4 1199.3L1595.4 1217.8L1596.3 1235.4L1597.2 1208.5L1598.0 1180.4L1598.7 1164.1L1599.4 1156.7L1600.0 1180.4L1600.7 1199.3L1601.5 1180.4L1602.4 1177.0L1603.7 1143.7L1605.0 1117.8L1605.9 1110.4L1607.2 1105.7L1608.3 1143.7L1609.3 1175.2L1610.0 1180.2L1611.1 1217.8L1612.4 1236.3L1613.7 1245.6L1614.6 1247.4L1615.6 1267.8L1616.5 1245.6L1617.2 1180.1L1618.0 1155.7L1618.9 1158.5L1620.2 1164.1L1621.3 1162.2L1622.4 1122.4L1623.3 1143.7L1624.4 1162.2L1625.2 1180.0L1626.3 1182.6L1627.6 1190.0L1628.5 1204.8L1628.9 1179.9L1629.3 1179.9L1629.6 1151.1L1630.6 1130.3L1631.5 1112.2L1632.5 1126.1L1633.5 1144.2L1634.4 1158.1L1635.6 1158.1L1636.7 1169.2L1637.8 1165.0L1638.6 1159.4L1639.4 1153.9L1640.3 1163.6L1640.8 1179.7L1641.5 1216.4L1642.5 1254.6L1643.3 1242.8L1644.3 1240.0L1645.0 1213.6L1646.0 1210.8L1646.7 1190.0L1647.6 1203.9L1648.3 1190.0L1648.9 1179.6L1649.4 1169.9L1650.6 1164.0L1651.4 1173.3L1651.9 1179.5L1652.5 1203.9L1653.6 1226.8L1654.4 1208.1L1655.3 1195.6L1656.0 1179.5L1656.4 1158.1L1657.2 1151.1L1658.1 1142.8L1658.8 1123.3L1659.6 1101.1L1660.3 1142.8L1661.1 1165.0L1661.9 1167.8L1662.6 1176.1L1663.2 1179.3L1663.8 1196.9L1664.6 1205.3L1665.4 1190.0L1666.4 1190.0L1667.2 1215.0L1668.3 1231.7L1669.4 1254.6L1670.6 1241.4L1671.4 1219.2L1672.2 1208.1L1673.1 1188.6L1674.4 1188.6L1675.6 1199.7L1676.5 1192.8L1677.2 1184.4L1677.9 1179.1L1678.3 1126.1L1679.3 1101.1L1680.3 1121.9L1681.4 1141.4L1682.5 1146.9L1683.5 1141.4L1683.9 1179.0L1683.9 1179.0L140.9 1204.8Z" fill="#ff0000" shape-rendering="crispEdges" clip-path="url(#u2)"/>
<path d="M140.9 1215.9L142.3 1233.5L143.5 1243.1L144.4 1196.6L144.9 1180.8L145.8 1204.7L146.7 1212.4L147.6 1198.4L148.4 1186.9L149.3 1204.7L150.7 1217.7L152.1 1222.9L153.2 1183.4L154.1 1204.6L155.5 1219.4L156.3 1204.5L157.2 1125.5L158.1 1159.7L159.5 1145.7L160.2 1204.5L161.3 1242.3L162.5 1265.1L163.4 1280.9L164.4 1254.6L165.7 1230.0L166.5 1204.4L167.4 1177.3L168.5 1187.8L169.2 1204.3L170.0 1230.0L171.3 1254.6L172.5 1258.1L173.7 1265.1L174.6 1204.2L175.3 1145.7L176.4 1175.5L176.9 1204.2L177.8 1242.3L179.2 1249.3L180.6 1315.2L181.8 1251.0L182.7 1222.9L184.1 1215.9L185.0 1204.1L185.9 1212.4L186.7 1221.2L188.0 1217.7L189.2 1233.5L190.4 1245.8L191.7 1228.2L192.7 1204.8L193.6 1201.0L194.5 1204.8L195.3 1219.4L196.4 1200.1L197.5 1149.2L198.5 1166.7L199.6 1182.5L200.3 1204.8L201.0 1237.0L202.0 1228.2L202.9 1204.8L203.8 1189.6L205.2 1172.0L206.4 1163.2L207.8 1164.1L209.4 1163.2L211.3 1154.1L212.9 1156.2L214.3 1159.7L216.1 1158.3L217.3 1170.2L218.9 1177.3L220.1 1168.5L221.3 1160.1L222.7 1165.0L224.0 1170.2L225.7 1172.9L227.1 1187.8L228.4 1186.1L230.5 1176.9L231.9 1179.9L233.6 1183.4L235.4 1179.4L237.1 1187.8L238.9 1180.8L240.7 1175.9L242.1 1182.5L243.3 1186.9L245.1 1185.2L246.5 1196.6L248.0 1187.8L250.3 1181.7L252.1 1187.8L254.4 1187.8L256.1 1196.6L257.9 1194.8L259.6 1186.1L261.2 1185.2L262.6 1188.7L264.4 1189.6L266.1 1198.4L267.9 1193.1L269.6 1187.8L271.4 1192.2L273.5 1191.7L274.9 1202.6L276.3 1203.6L277.5 1194.8L279.0 1175.5L280.2 1152.7L281.4 1114.0L282.5 1100.0L283.7 1063.1L284.2 1138.6L285.5 1168.5L286.9 1186.1L288.4 1191.3L289.8 1202.3L290.7 1205.4L291.6 1224.7L292.8 1244.0L294.2 1224.7L295.6 1212.4L296.9 1203.6L298.3 1198.4L299.0 1203.6L300.4 1233.5L301.6 1252.8L302.7 1215.9L303.4 1202.1L304.2 1159.7L305.7 1135.1L306.5 1145.7L307.8 1173.8L309.2 1187.8L310.4 1193.1L311.3 1202.0L312.7 1219.4L313.9 1224.7L315.3 1284.4L316.5 1296.7L317.6 1259.8L318.8 1233.5L320.1 1222.9L321.5 1249.3L322.9 1233.5L324.1 1228.2L325.3 1215.9L326.4 1212.4L328.0 1219.4L329.5 1261.6L330.6 1245.8L332.0 1251.0L333.4 1303.7L334.6 1259.8L335.9 1219.4L336.9 1201.5L338.2 1198.4L339.0 1201.5L340.4 1231.7L341.3 1201.4L342.5 1189.6L343.2 1201.4L344.3 1254.6L345.7 1265.1L346.9 1244.0L348.2 1215.9L349.6 1215.0L350.4 1233.5L351.7 1292.3L352.7 1268.6L354.0 1230.0L355.2 1214.2L356.6 1212.4L357.6 1222.9L358.4 1201.2L358.9 1163.2L359.6 1120.2L360.6 1135.1L361.9 1145.7L363.3 1147.4L364.5 1153.6L365.7 1156.2L367.1 1154.4L368.5 1155.3L369.4 1145.7L370.3 1057.8L371.3 1010.4L372.4 1056.1L373.3 1136.9L374.2 1158.8L375.6 1163.2L376.8 1172.0L378.0 1179.0L379.4 1187.8L380.3 1200.8L381.5 1209.8L382.9 1208.9L384.0 1200.7L384.7 1180.8L385.6 1157.1L386.5 1157.1L387.3 1172.0L388.6 1177.3L389.3 1200.6L390.3 1235.2L391.0 1200.6L391.7 1163.2L392.8 1135.1L393.8 1152.7L394.9 1165.0L396.1 1164.1L397.3 1154.4L399.1 1154.4L400.5 1142.1L401.9 1122.8L402.8 1145.7L403.7 1163.2L404.5 1180.8L405.4 1200.4L406.7 1230.0L407.5 1249.3L408.8 1222.9L409.8 1205.4L411.0 1201.9L412.3 1210.6L413.5 1272.1L414.6 1251.0L415.8 1215.9L416.8 1200.2L418.1 1191.3L419.8 1189.6L421.6 1179.0L423.3 1170.2L424.7 1172.0L425.6 1163.2L426.5 1141.3L427.4 1207.1L428.1 1180.8L429.1 1145.7L430.0 1143.6L431.1 1185.8L432.3 1180.5L433.5 1185.8L434.9 1164.7L436.1 1159.4L437.2 1135.7L438.1 1189.3L439.1 1199.8L440.2 1233.2L441.8 1266.6L443.0 1215.7L443.7 1199.7L444.9 1180.5L446.2 1154.2L447.2 1180.5L448.1 1199.7L449.0 1236.7L450.7 1266.6L452.0 1263.1L453.2 1270.1L454.1 1242.0L454.8 1201.6L455.6 1217.4L456.7 1199.5L457.6 1189.3L458.5 1176.1L459.3 1199.5L460.6 1216.5L461.6 1199.4L462.5 1174.4L463.4 1187.5L464.4 1185.8L465.7 1170.0L466.9 1157.7L468.3 1145.4L469.5 1110.3L470.4 1096.2L472.2 1099.7L473.4 1085.7L474.4 1074.3L475.7 1096.2L476.9 1112.0L478.0 1141.9L479.2 1187.5L480.6 1199.1L481.3 1213.9L482.3 1224.4L483.8 1213.9L485.2 1206.9L486.2 1208.6L487.4 1273.6L488.3 1215.7L489.7 1185.8L490.2 1215.7L491.5 1236.7L492.9 1235.0L493.8 1247.3L495.0 1198.9L495.9 1189.3L496.7 1150.7L498.2 1098.0L499.4 1119.0L500.6 1136.6L502.0 1170.0L503.4 1177.0L504.7 1163.0L505.9 1171.7L506.6 1215.7L507.3 1275.4L508.5 1285.9L509.4 1307.0L510.4 1266.6L512.0 1268.4L513.4 1261.3L514.8 1258.7L516.1 1238.5L517.3 1228.0L518.4 1252.5L519.6 1228.0L521.0 1222.7L522.2 1208.6L523.1 1188.4L524.0 1198.4L524.9 1202.5L526.1 1194.6L527.5 1184.0L529.2 1179.6L530.5 1178.8L531.5 1185.8L532.4 1203.4L533.6 1190.2L534.7 1198.2L535.4 1242.0L535.9 1198.2L536.8 1184.0L538.0 1177.0L539.3 1148.9L539.8 1141.9L541.0 1154.2L542.4 1153.3L543.8 1170.0L545.4 1159.4L546.3 1203.4L546.8 1180.5L548.0 1141.9L549.4 1106.7L550.9 1105.0L552.3 1069.0L553.3 1108.5L554.4 1145.4L555.6 1154.2L556.8 1168.2L557.9 1161.2L560.0 1164.7L560.9 1180.5L561.7 1197.8L563.1 1199.8L564.4 1215.7L565.6 1238.5L566.7 1244.6L567.5 1194.6L568.4 1206.9L569.1 1191.1L570.2 1175.3L571.1 1197.6L572.3 1213.9L573.2 1197.6L574.0 1163.0L575.3 1147.1L575.8 1126.1L577.0 1137.5L578.4 1101.5L579.8 1071.6L580.7 1110.3L581.9 1143.6L583.2 1133.1L584.6 1148.9L585.8 1163.0L587.2 1175.3L588.6 1180.5L589.8 1185.8L591.1 1197.3L592.5 1215.7L593.7 1213.9L595.5 1231.5L596.9 1213.9L598.3 1197.2L599.2 1177.0L600.0 1149.8L600.9 1197.1L602.1 1212.1L603.0 1197.1L603.9 1145.4L604.8 1119.0L606.2 1124.3L607.4 1135.7L608.8 1137.5L610.0 1163.0L610.9 1196.9L611.8 1228.0L613.6 1243.8L615.3 1242.0L616.7 1247.3L618.0 1254.3L619.4 1266.6L620.6 1242.0L621.5 1259.6L622.3 1254.3L623.2 1196.7L624.1 1185.8L625.3 1136.6L626.6 1109.4L627.6 1136.6L628.5 1170.0L629.7 1196.6L630.6 1211.3L631.3 1196.6L632.4 1154.2L633.4 1138.4L635.0 1154.2L637.3 1154.2L638.7 1163.0L640.4 1166.5L641.3 1196.4L642.5 1252.5L644.3 1249.0L645.7 1249.0L646.9 1257.8L648.2 1266.6L649.6 1224.4L651.0 1233.2L652.7 1266.6L654.0 1229.7L655.7 1222.7L657.1 1236.7L658.4 1264.8L659.8 1273.6L661.0 1284.2L662.2 1268.4L663.6 1264.8L665.0 1242.0L666.8 1249.0L668.0 1268.4L669.2 1282.4L670.6 1275.4L672.1 1268.4L674.2 1257.8L675.4 1282.4L676.4 1328.1L677.7 1282.4L678.7 1242.0L679.8 1319.3L681.2 1285.9L682.6 1242.0L683.8 1224.4L685.1 1224.4L686.1 1249.0L687.3 1259.6L688.6 1259.6L689.6 1285.9L690.5 1233.2L691.4 1195.6L692.6 1189.3L693.8 1166.5L695.2 1145.4L696.5 1137.5L697.5 1154.2L698.8 1159.4L699.8 1180.5L700.5 1195.4L701.6 1231.5L702.4 1215.7L703.3 1198.1L704.0 1203.4L705.1 1229.7L705.8 1201.6L706.5 1191.1L707.2 1208.6L708.1 1217.4L709.3 1236.7L710.3 1208.6L711.0 1195.3L711.9 1185.8L713.2 1166.5L714.6 1140.1L715.6 1129.6L716.7 1163.0L717.7 1191.1L718.4 1195.1L719.8 1224.4L720.9 1203.4L721.9 1195.1L723.0 1189.3L724.7 1171.7L726.0 1166.5L727.2 1163.0L728.6 1155.1L730.0 1163.0L730.9 1191.1L731.8 1194.9L732.6 1215.7L733.9 1263.1L734.9 1238.5L736.1 1233.2L737.4 1236.7L738.8 1250.8L739.7 1285.9L740.5 1313.1L741.8 1285.9L743.2 1271.9L744.4 1250.8L745.5 1215.7L746.3 1198.1L747.2 1194.7L748.4 1191.1L749.5 1168.2L750.4 1184.0L751.1 1194.6L752.0 1236.7L752.8 1250.8L753.7 1276.3L754.6 1250.8L755.8 1194.5L756.7 1170.0L757.6 1134.9L758.6 1105.0L759.9 1090.9L761.1 1085.7L762.5 1056.7L763.4 1092.7L764.3 1134.9L765.5 1114.7L766.5 1163.0L767.4 1185.8L768.3 1186.7L769.2 1194.3L770.4 1196.3L771.5 1179.6L772.2 1226.2L773.0 1194.2L773.9 1189.3L775.0 1182.3L775.7 1194.2L776.5 1208.6L777.8 1238.5L779.2 1222.7L780.4 1219.2L781.5 1201.6L782.7 1205.1L784.1 1226.2L785.3 1251.7L786.6 1235.0L788.0 1233.2L789.4 1235.0L790.6 1224.4L791.8 1233.2L792.7 1268.4L793.6 1229.7L795.0 1240.2L796.4 1238.5L797.6 1219.2L798.5 1238.5L799.7 1257.8L800.8 1262.2L802.0 1224.4L803.4 1217.4L804.7 1193.7L805.5 1177.0L806.8 1163.0L807.8 1185.8L808.7 1193.6L809.6 1208.6L810.8 1224.4L812.2 1242.0L813.4 1250.8L814.7 1263.1L815.5 1272.7L816.6 1261.3L817.8 1257.8L819.1 1249.0L820.1 1256.1L821.3 1228.0L822.2 1193.4L823.1 1161.2L824.5 1159.4L825.7 1152.4L827.5 1141.0L828.7 1157.7L830.1 1161.2L831.4 1152.4L832.2 1157.7L833.3 1157.7L834.2 1180.5L835.0 1193.2L835.9 1222.7L837.1 1220.0L838.6 1215.7L839.8 1213.9L840.7 1198.1L841.9 1206.9L843.3 1220.9L844.5 1228.8L845.6 1215.7L846.8 1208.6L847.7 1203.4L848.6 1193.0L849.4 1208.6L850.5 1228.0L851.2 1210.4L853.0 1212.1L854.2 1231.5L855.4 1242.0L856.8 1235.0L858.2 1229.7L859.1 1228.0L859.8 1249.0L860.7 1215.7L861.4 1192.8L862.1 1180.5L863.5 1178.8L864.4 1176.1L865.6 1177.0L866.3 1192.7L867.4 1205.1L868.8 1215.7L869.6 1242.9L870.5 1222.7L871.6 1192.6L872.6 1191.1L873.7 1184.0L874.6 1154.2L875.8 1141.9L876.7 1119.0L877.5 1098.8L878.8 1110.3L879.8 1127.8L880.7 1161.2L881.6 1150.7L882.3 1192.4L882.8 1208.6L883.7 1201.6L884.9 1203.4L886.3 1212.1L887.2 1222.7L888.1 1192.3L889.0 1171.7L890.2 1161.2L891.3 1145.4L892.0 1129.6L892.8 1163.0L893.7 1180.5L894.6 1192.2L896.0 1198.1L896.9 1199.8L897.7 1215.7L898.6 1203.4L899.3 1192.1L900.4 1206.9L901.6 1227.1L902.7 1226.2L903.9 1219.2L905.1 1217.4L906.5 1212.1L907.8 1219.2L908.8 1212.1L910.0 1210.4L910.9 1203.4L911.6 1191.9L912.3 1182.3L913.2 1185.8L913.9 1191.9L914.8 1215.7L915.8 1238.5L917.1 1254.3L918.3 1273.6L919.4 1233.2L920.2 1191.8L920.8 1176.1L921.5 1191.7L922.3 1199.0L923.2 1204.2L924.6 1204.2L925.5 1194.6L926.4 1205.1L927.3 1217.4L928.1 1203.4L928.8 1191.6L929.4 1152.4L930.1 1191.6L931.1 1215.7L932.0 1227.1L932.9 1213.9L934.1 1210.4L935.2 1224.4L936.2 1256.1L937.3 1215.7L938.2 1191.5L939.0 1185.8L939.6 1191.4L940.4 1208.6L941.1 1191.4L942.5 1182.3L943.1 1191.4L943.9 1215.7L945.2 1220.9L946.4 1222.7L947.5 1208.6L948.3 1233.2L949.6 1252.5L950.6 1266.6L951.7 1247.3L953.1 1240.2L954.5 1238.5L955.4 1215.7L956.2 1191.2L957.1 1163.0L958.4 1134.9L959.8 1131.3L961.0 1127.8L962.4 1104.1L963.3 1127.8L964.5 1129.6L965.7 1145.4L967.1 1143.6L968.4 1134.0L969.4 1148.9L970.6 1173.5L971.9 1184.0L972.9 1163.0L973.8 1148.9L975.0 1143.6L976.4 1127.8L977.7 1105.9L978.9 1141.9L980.3 1152.4L981.5 1150.7L982.6 1134.9L983.5 1123.4L984.3 1145.4L985.1 1190.7L986.1 1215.7L987.3 1247.3L988.4 1266.6L989.6 1242.0L990.8 1235.0L992.1 1231.5L993.0 1215.7L993.5 1190.5L994.4 1141.9L995.2 1163.0L996.6 1159.4L997.5 1159.4L998.8 1141.9L999.8 1159.4L1001.0 1173.5L1001.9 1190.4L1003.1 1202.5L1004.0 1190.4L1005.1 1159.4L1006.5 1152.4L1007.5 1159.4L1008.9 1159.4L1010.0 1190.3L1011.0 1215.7L1011.9 1232.3L1012.8 1190.2L1013.5 1152.4L1014.6 1143.6L1015.6 1163.0L1016.7 1168.2L1017.4 1194.6L1018.4 1180.5L1019.5 1173.5L1020.7 1163.0L1021.6 1148.9L1022.6 1159.4L1023.3 1190.0L1024.6 1229.7L1025.8 1215.7L1026.9 1220.9L1028.1 1224.4L1029.0 1180.5L1030.0 1198.1L1030.7 1189.9L1031.4 1182.3L1032.1 1189.9L1033.2 1199.8L1034.4 1203.4L1035.6 1226.2L1037.0 1222.7L1038.3 1229.7L1039.1 1189.8L1039.7 1182.3L1040.5 1198.1L1041.4 1215.7L1042.3 1198.1L1043.2 1189.7L1044.1 1177.0L1045.5 1173.5L1046.0 1189.7L1047.0 1215.7L1047.9 1228.0L1049.0 1208.6L1050.0 1229.7L1051.1 1215.7L1051.8 1189.6L1052.5 1177.0L1053.4 1168.2L1054.1 1189.5L1055.1 1208.6L1056.3 1242.0L1057.6 1247.3L1058.6 1264.8L1059.5 1250.8L1060.4 1215.7L1061.3 1252.5L1062.1 1259.6L1063.0 1247.3L1064.3 1240.2L1065.7 1240.2L1066.5 1220.9L1067.8 1231.5L1068.6 1233.2L1069.3 1259.6L1070.2 1212.1L1071.8 1212.1L1072.7 1189.2L1073.6 1175.3L1074.3 1124.3L1075.5 1081.3L1076.4 1113.8L1077.1 1143.6L1078.3 1145.4L1079.5 1164.7L1080.9 1164.7L1081.5 1161.2L1082.2 1189.1L1083.2 1203.4L1084.5 1208.6L1085.5 1224.4L1086.6 1231.5L1087.6 1217.4L1088.5 1226.2L1089.4 1198.1L1090.1 1188.9L1090.8 1138.4L1091.5 1134.9L1092.4 1105.0L1093.4 1127.8L1094.5 1154.2L1096.4 1155.9L1097.3 1180.5L1098.2 1188.8L1099.0 1208.6L1099.9 1245.5L1100.8 1224.4L1101.5 1243.8L1102.5 1298.2L1103.8 1291.2L1105.0 1268.4L1106.1 1273.6L1106.9 1257.8L1108.2 1252.5L1109.4 1217.4L1110.4 1233.2L1111.3 1236.7L1112.4 1277.1L1113.4 1256.1L1114.7 1247.3L1115.7 1256.1L1116.6 1275.4L1117.8 1250.8L1119.1 1238.5L1120.1 1201.6L1121.3 1224.4L1122.2 1231.5L1123.1 1201.6L1124.5 1205.1L1125.4 1233.2L1126.6 1245.5L1128.0 1240.2L1128.7 1188.3L1129.4 1147.1L1130.5 1106.7L1131.5 1062.8L1132.4 1080.4L1133.6 1110.3L1134.9 1124.3L1135.9 1140.1L1136.8 1143.6L1137.7 1139.2L1138.9 1143.6L1139.6 1161.2L1140.5 1135.7L1141.4 1154.2L1142.4 1154.2L1143.3 1184.0L1144.2 1184.9L1145.2 1180.5L1145.9 1188.0L1146.8 1194.6L1147.5 1205.1L1148.2 1188.0L1148.9 1163.0L1149.6 1152.4L1150.5 1170.0L1151.2 1187.9L1152.1 1194.6L1153.1 1217.4L1154.0 1194.6L1154.7 1187.8L1155.4 1173.5L1156.1 1187.8L1156.8 1185.8L1157.7 1187.8L1158.8 1198.1L1160.0 1212.1L1161.7 1228.8L1162.8 1215.7L1163.7 1187.7L1164.7 1217.4L1165.6 1187.7L1166.5 1177.0L1167.5 1144.5L1168.2 1187.6L1169.1 1194.6L1170.2 1205.1L1171.4 1239.4L1172.6 1233.2L1174.0 1212.1L1175.1 1208.6L1176.3 1203.4L1177.5 1212.1L1178.6 1276.3L1179.3 1236.7L1180.7 1233.2L1181.9 1222.7L1183.2 1226.2L1184.2 1217.4L1185.5 1226.2L1186.7 1205.1L1188.1 1203.4L1189.0 1212.1L1189.8 1187.3L1190.7 1180.5L1191.6 1163.0L1192.8 1173.5L1193.7 1185.8L1194.8 1194.6L1196.0 1215.7L1197.2 1229.7L1198.6 1278.9L1199.5 1254.3L1200.7 1247.3L1202.1 1242.0L1203.4 1226.2L1204.4 1220.9L1205.1 1187.0L1206.2 1163.0L1207.4 1110.3L1208.5 1088.3L1209.3 1101.5L1210.6 1106.7L1211.6 1145.4L1212.7 1148.9L1214.4 1148.0L1215.3 1180.5L1215.8 1186.8L1216.7 1215.7L1217.6 1236.7L1218.8 1228.0L1220.1 1219.2L1221.1 1208.6L1222.3 1215.7L1223.2 1208.6L1224.3 1219.2L1225.3 1198.1L1226.7 1198.1L1228.0 1208.6L1229.0 1219.2L1229.9 1233.2L1231.1 1262.2L1232.4 1256.1L1233.8 1242.0L1234.6 1231.5L1235.5 1236.7L1236.9 1263.1L1237.8 1250.8L1238.5 1212.1L1239.0 1186.4L1239.9 1175.3L1240.8 1156.8L1241.7 1166.5L1242.5 1160.3L1243.4 1170.0L1244.3 1192.8L1245.2 1145.4L1246.4 1092.7L1247.5 1110.3L1248.3 1140.1L1249.2 1152.4L1250.4 1150.7L1251.3 1141.0L1252.4 1140.1L1253.4 1166.5L1254.1 1186.2L1254.8 1205.1L1255.9 1229.7L1256.9 1243.8L1258.0 1278.9L1258.9 1242.0L1260.1 1224.4L1261.5 1233.2L1262.4 1235.0L1263.3 1245.5L1264.5 1215.7L1265.4 1205.1L1266.6 1240.2L1267.7 1220.9L1268.5 1233.2L1269.4 1238.5L1270.3 1220.9L1271.0 1219.2L1271.9 1185.9L1272.8 1166.5L1273.8 1141.9L1275.2 1140.1L1276.3 1092.7L1277.5 1061.1L1278.6 1099.7L1279.8 1098.0L1281.2 1083.9L1282.1 1127.8L1282.9 1177.0L1283.8 1185.7L1284.7 1208.6L1285.8 1233.2L1286.8 1236.7L1287.7 1254.3L1288.6 1233.2L1289.6 1235.0L1290.7 1229.7L1291.5 1240.2L1292.6 1222.7L1293.5 1198.1L1294.0 1185.5L1294.5 1173.5L1295.2 1185.5L1296.1 1196.3L1297.3 1198.1L1298.4 1233.2L1299.6 1231.5L1300.5 1249.0L1301.6 1224.4L1302.4 1194.6L1303.0 1185.4L1303.5 1179.6L1304.0 1185.4L1304.9 1215.7L1305.8 1228.0L1306.8 1228.0L1307.9 1250.8L1308.9 1285.0L1310.0 1236.7L1311.0 1206.9L1311.9 1185.2L1312.8 1152.4L1313.9 1126.1L1314.9 1104.1L1315.8 1127.8L1316.7 1134.9L1318.1 1154.2L1319.3 1155.9L1320.5 1168.2L1321.6 1185.1L1323.0 1185.0L1323.7 1192.8L1324.7 1185.0L1325.6 1203.4L1326.7 1224.4L1327.7 1201.6L1328.6 1198.1L1330.0 1199.3L1330.9 1217.8L1332.2 1221.5L1333.7 1228.9L1335.2 1242.8L1336.5 1217.8L1337.4 1199.3L1338.0 1184.8L1338.7 1171.5L1339.6 1168.7L1340.4 1195.6L1341.1 1184.7L1342.0 1169.6L1343.3 1159.4L1344.4 1163.1L1345.7 1158.5L1347.0 1162.2L1348.1 1171.5L1349.3 1186.3L1350.4 1169.6L1351.7 1164.4L1352.8 1173.3L1353.5 1184.5L1354.6 1199.3L1355.9 1203.0L1357.2 1208.5L1358.3 1243.7L1359.3 1217.8L1360.6 1204.8L1361.9 1195.6L1363.0 1214.1L1364.3 1225.2L1365.6 1203.0L1366.7 1199.3L1367.6 1184.3L1368.5 1182.6L1369.4 1221.5L1370.4 1184.2L1371.1 1173.3L1372.2 1149.3L1373.5 1125.2L1374.4 1106.7L1375.4 1069.6L1376.3 1028.9L1377.4 1034.4L1378.3 1058.5L1379.3 1049.3L1380.4 999.3L1381.5 954.8L1382.4 982.6L1383.3 1043.7L1384.3 1106.7L1385.6 1143.7L1386.5 1162.2L1387.4 1184.0L1388.3 1212.2L1389.3 1180.7L1390.6 1204.8L1391.7 1197.4L1392.6 1188.1L1393.5 1179.8L1394.3 1199.3L1395.0 1178.9L1395.9 1183.8L1397.0 1208.5L1398.5 1228.9L1400.0 1244.6L1401.3 1232.6L1402.6 1228.9L1403.7 1217.8L1405.0 1210.4L1405.9 1183.6L1407.2 1176.1L1408.0 1183.6L1409.1 1208.5L1410.2 1219.6L1411.1 1183.6L1412.0 1177.0L1413.3 1160.4L1414.8 1153.0L1416.1 1125.2L1417.4 1103.0L1418.5 1104.8L1419.6 1091.9L1420.7 1117.8L1422.0 1115.9L1423.1 1105.7L1424.1 1125.2L1425.0 1147.4L1425.9 1177.0L1426.7 1183.3L1427.8 1208.5L1429.1 1227.0L1430.4 1240.0L1431.5 1246.5L1432.8 1232.6L1433.7 1217.8L1434.6 1184.4L1435.6 1178.9L1436.7 1174.3L1437.6 1183.1L1438.5 1217.8L1439.6 1199.3L1440.6 1186.3L1441.7 1206.7L1443.0 1193.7L1444.4 1193.7L1445.6 1165.9L1446.3 1183.0L1447.2 1190.0L1448.1 1182.9L1449.4 1197.4L1450.7 1203.0L1452.2 1210.4L1453.5 1203.0L1455.0 1199.3L1455.9 1182.8L1456.9 1182.8L1457.8 1162.2L1459.1 1153.0L1460.2 1151.1L1461.5 1147.4L1462.8 1140.0L1463.7 1134.4L1464.6 1140.0L1465.6 1121.5L1466.7 1071.5L1467.6 1086.3L1468.5 1153.0L1469.4 1182.6L1470.4 1172.4L1471.7 1173.3L1473.0 1171.5L1474.1 1158.5L1475.4 1128.9L1476.7 1109.4L1477.8 1125.2L1478.9 1149.3L1480.0 1152.0L1480.9 1149.3L1481.9 1164.1L1483.0 1175.2L1484.1 1182.3L1485.2 1219.6L1486.1 1210.4L1487.4 1206.7L1488.5 1217.8L1489.3 1199.3L1490.0 1182.2L1490.6 1132.6L1491.5 1132.6L1492.4 1130.7L1493.3 1154.8L1494.3 1182.2L1495.4 1230.7L1496.3 1206.7L1497.6 1204.8L1498.9 1199.3L1500.0 1193.7L1501.3 1203.0L1502.2 1214.1L1503.3 1182.0L1504.1 1179.8L1504.6 1240.0L1505.9 1234.4L1507.2 1228.9L1508.3 1193.7L1509.6 1199.3L1511.1 1234.4L1512.0 1208.5L1513.0 1181.9L1513.9 1143.7L1514.8 1106.7L1515.7 1041.9L1517.0 982.6L1518.5 980.7L1519.4 991.9L1520.6 966.9L1521.5 993.7L1522.6 1034.4L1524.1 1025.2L1525.0 1054.8L1525.9 1088.1L1527.0 1125.2L1528.1 1154.8L1529.3 1175.2L1530.4 1175.2L1531.1 1188.1L1531.9 1181.5L1532.4 1170.6L1533.1 1181.5L1533.9 1214.1L1535.2 1212.2L1536.1 1201.1L1537.4 1210.4L1538.5 1208.5L1539.4 1225.2L1540.4 1206.7L1541.3 1202.0L1542.4 1203.0L1543.0 1181.4L1543.7 1172.4L1544.4 1175.2L1545.2 1181.3L1546.3 1223.3L1547.4 1199.3L1548.5 1221.5L1549.6 1215.9L1550.6 1181.2L1551.5 1162.2L1552.4 1147.4L1553.3 1181.2L1554.4 1186.3L1555.9 1208.5L1557.4 1228.9L1558.7 1229.8L1559.6 1208.5L1560.2 1181.1L1560.9 1143.7L1561.7 1125.2L1562.8 1124.3L1563.7 1143.7L1564.4 1184.4L1565.2 1178.9L1565.9 1165.9L1567.0 1143.7L1568.3 1120.6L1569.3 1151.1L1570.4 1152.0L1571.5 1164.1L1572.2 1180.9L1573.0 1212.2L1573.7 1199.3L1574.4 1180.8L1575.4 1165.9L1576.7 1160.4L1577.6 1147.4L1578.5 1139.1L1579.6 1147.4L1580.6 1169.6L1581.5 1180.7L1582.6 1206.7L1583.7 1195.6L1584.8 1180.7L1585.9 1175.2L1586.7 1143.7L1587.4 1122.4L1588.1 1162.2L1588.9 1180.6L1589.6 1206.7L1590.6 1224.3L1591.5 1180.5L1592.2 1174.3L1593.0 1182.6L1594.4 1199.3L1595.4 1217.8L1596.3 1235.4L1597.2 1208.5L1598.0 1180.4L1598.7 1164.1L1599.4 1156.7L1600.0 1180.4L1600.7 1199.3L1601.5 1180.4L1602.4 1177.0L1603.7 1143.7L1605.0 1117.8L1605.9 1110.4L1607.2 1105.7L1608.3 1143.7L1609.3 1175.2L1610.0 1180.2L1611.1 1217.8L1612.4 1236.3L1613.7 1245.6L1614.6 1247.4L1615.6 1267.8L1616.5 1245.6L1617.2 1180.1L1618.0 1155.7L1618.9 1158.5L1620.2 1164.1L1621.3 1162.2L1622.4 1122.4L1623.3 1143.7L1624.4 1162.2L1625.2 1180.0L1626.3 1182.6L1627.6 1190.0L1628.5 1204.8L1628.9 1179.9L1629.3 1179.9L1629.6 1151.1L1630.6 1130.3L1631.5 1112.2L1632.5 1126.1L1633.5 1144.2L1634.4 1158.1L1635.6 1158.1L1636.7 1169.2L1637.8 1165.0L1638.6 1159.4L1639.4 1153.9L1640.3 1163.6L1640.8 1179.7L1641.5 1216.4L1642.5 1254.6L1643.3 1242.8L1644.3 1240.0L1645.0 1213.6L1646.0 1210.8L1646.7 1190.0L1647.6 1203.9L1648.3 1190.0L1648.9 1179.6L1649.4 1169.9L1650.6 1164.0L1651.4 1173.3L1651.9 1179.5L1652.5 1203.9L1653.6 1226.8L1654.4 1208.1L1655.3 1195.6L1656.0 1179.5L1656.4 1158.1L1657.2 1151.1L1658.1 1142.8L1658.8 1123.3L1659.6 1101.1L1660.3 1142.8L1661.1 1165.0L1661.9 1167.8L1662.6 1176.1L1663.2 1179.3L1663.8 1196.9L1664.6 1205.3L1665.4 1190.0L1666.4 1190.0L1667.2 1215.0L1668.3 1231.7L1669.4 1254.6L1670.6 1241.4L1671.4 1219.2L1672.2 1208.1L1673.1 1188.6L1674.4 1188.6L1675.6 1199.7L1676.5 1192.8L1677.2 1184.4L1677.9 1179.1L1678.3 1126.1L1679.3 1101.1L1680.3 1121.9L1681.4 1141.4L1682.5 1146.9L1683.5 1141.4L1683.9 1179.0L1683.9 1179.0L140.9 1204.8Z" fill="#0000ff" shape-rendering="crispEdges" clip-path="url(#d2)"/>
<path d="M100.9 881.45H1724.7M100.9 1399.35H1724.7" stroke="#161616" stroke-width="1.1" fill="none"/>
<path d="M135.95 881.45V1399.35M1689.7 881.45V1399.35" stroke="#1c1c1c" stroke-width="1.25" fill="none"/>
<path d="M118.44999999999999 1373.5H135.95M1689.7 1373.5H1707.2M118.44999999999999 1347.6H135.95M1689.7 1347.6H1707.2M118.44999999999999 1321.7H135.95M1689.7 1321.7H1707.2M118.44999999999999 1269.9H135.95M1689.7 1269.9H1707.2M118.44999999999999 1244.0H135.95M1689.7 1244.0H1707.2M118.44999999999999 1218.1H135.95M1689.7 1218.1H1707.2M118.44999999999999 1166.3H135.95M1689.7 1166.3H1707.2M118.44999999999999 1140.4H135.95M1689.7 1140.4H1707.2M118.44999999999999 1114.5H135.95M1689.7 1114.5H1707.2M118.44999999999999 1062.7H135.95M1689.7 1062.7H1707.2M118.44999999999999 1036.8H135.95M1689.7 1036.8H1707.2M118.44999999999999 1010.9H135.95M1689.7 1010.9H1707.2M118.44999999999999 959.1H135.95M1689.7 959.1H1707.2M118.44999999999999 933.2H135.95M1689.7 933.2H1707.2M118.44999999999999 907.3H135.95M1689.7 907.3H1707.2M294.0 863.95V881.45M294.0 1399.35V1416.8M389.8 863.95V881.45M389.8 1399.35V1416.8M581.6 863.95V881.45M581.6 1399.35V1416.8M677.4 863.95V881.45M677.4 1399.35V1416.8M869.2 863.95V881.45M869.2 1399.35V1416.8M965.0 863.95V881.45M965.0 1399.35V1416.8M1156.7 863.95V881.45M1156.7 1399.35V1416.8M1252.6 863.95V881.45M1252.6 1399.35V1416.8M1444.3 863.95V881.45M1444.3 1399.35V1416.8M1540.2 863.95V881.45M1540.2 1399.35V1416.8" stroke="#555" stroke-width="0.9" fill="none"/>
<path d="M100.94999999999999 1295.8H135.95M1689.7 1295.8H1724.7M100.94999999999999 1192.2H135.95M1689.7 1192.2H1724.7M100.94999999999999 1088.6H135.95M1689.7 1088.6H1724.7M100.94999999999999 985.0H135.95M1689.7 985.0H1724.7M198.1 846.45V881.45M198.1 1399.35V1434.3M485.7 846.45V881.45M485.7 1399.35V1434.3M773.3 846.45V881.45M773.3 1399.35V1434.3M1060.9 846.45V881.45M1060.9 1399.35V1434.3M1348.5 846.45V881.45M1348.5 1399.35V1434.3M1636.0 846.45V881.45M1636.0 1399.35V1434.3" stroke="#222" stroke-width="1.2" fill="none"/>
<path d="M36.0 885.2L37.0 889.3L39.0 891.3L42.1 892.4L43.1 892.4L46.2 891.3L48.3 889.3L49.3 886.2L49.3 885.2L48.3 882.1L46.2 880.1L43.1 879.0L42.1 879.0L39.0 880.1L37.0 882.1L36.0 885.2M48.3 873.9L47.2 871.9L44.2 870.9L42.1 870.9L39.0 871.9L37.0 874.9L36.0 880.1L36.0 885.2M72.8 870.9L73.9 870.9L76.9 871.9L79.0 874.9L80.0 880.1L80.0 883.1L79.0 888.3L76.9 891.3L73.9 892.4L71.8 892.4L68.7 891.3L66.7 888.3L65.7 883.1L65.7 880.1L66.7 874.9L68.7 871.9L71.8 870.9L72.8 870.9M45.2 974.4L35.0 988.8M35.0 988.8L45.2 988.8M45.2 974.4L45.2 988.8M45.2 995.9L45.2 988.8M45.2 988.8L50.3 988.8M72.8 974.4L73.9 974.4L76.9 975.5L79.0 978.5L80.0 983.6L80.0 986.7L79.0 991.8L76.9 994.9L73.9 995.9L71.8 995.9L68.7 994.9L66.7 991.8L65.7 986.7L65.7 983.6L66.7 978.5L68.7 975.5L71.8 974.4L72.8 974.4M36.0 1083.1L36.0 1082.1L37.0 1080.1L38.0 1079.0L40.1 1078.0L44.2 1078.0L46.2 1079.0L47.2 1080.1L48.3 1082.1L48.3 1084.2L45.2 1089.3L35.0 1099.5M35.0 1099.5L49.3 1099.5M72.8 1078.0L73.9 1078.0L76.9 1079.0L79.0 1082.1L80.0 1087.2L80.0 1090.3L79.0 1095.4L76.9 1098.5L73.9 1099.5L71.8 1099.5L68.7 1098.5L66.7 1095.4L65.7 1090.3L65.7 1087.2L66.7 1082.1L68.7 1079.0L71.8 1078.0L72.8 1078.0M42.1 1181.6L43.1 1181.6L46.2 1182.6L48.3 1185.7L49.3 1190.8L49.3 1193.9L48.3 1199.0L46.2 1202.1L43.1 1203.1L41.1 1203.1L38.0 1202.1L36.0 1199.0L35.0 1193.9L35.0 1190.8L36.0 1185.7L38.0 1182.6L41.1 1181.6L42.1 1181.6M72.8 1181.6L73.9 1181.6L76.9 1182.6L79.0 1185.7L80.0 1190.8L80.0 1193.9L79.0 1199.0L76.9 1202.1L73.9 1203.1L71.8 1203.1L68.7 1202.1L66.7 1199.0L65.7 1193.9L65.7 1190.8L66.7 1185.7L68.7 1182.6L71.8 1181.6L72.8 1181.6M9.4 1297.5L27.8 1297.5M36.0 1290.3L36.0 1289.3L37.0 1287.2L38.0 1286.2L40.1 1285.2L44.2 1285.2L46.2 1286.2L47.2 1287.2L48.3 1289.3L48.3 1291.3L45.2 1296.4L35.0 1306.7M35.0 1306.7L49.3 1306.7M72.8 1285.2L73.9 1285.2L76.9 1286.2L79.0 1289.3L80.0 1294.4L80.0 1297.5L79.0 1302.6L76.9 1305.6L73.9 1306.7L71.8 1306.7L68.7 1305.6L66.7 1302.6L65.7 1297.5L65.7 1294.4L66.7 1289.3L68.7 1286.2L71.8 1285.2L72.8 1285.2M9.4 1401.0L27.8 1401.0M45.2 1388.8L35.0 1403.1M35.0 1403.1L45.2 1403.1M45.2 1388.8L45.2 1403.1M45.2 1410.2L45.2 1403.1M45.2 1403.1L50.3 1403.1M72.8 1388.8L73.9 1388.8L76.9 1389.8L79.0 1392.8L80.0 1398.0L80.0 1401.0L79.0 1406.2L76.9 1409.2L73.9 1410.2L71.8 1410.2L68.7 1409.2L66.7 1406.2L65.7 1401.0L65.7 1398.0L66.7 1392.8L68.7 1389.8L71.8 1388.8L72.8 1388.8M166.9 1476.8L166.9 1455.3M161.8 1459.4L163.8 1458.4L166.9 1455.3M186.3 1464.6L190.4 1465.6L192.5 1467.6L193.5 1469.7L193.5 1472.8L192.5 1474.8L191.5 1475.8L188.4 1476.8L184.3 1476.8L181.2 1475.8L180.2 1474.8L179.2 1472.8L179.2 1469.7L180.2 1467.6L182.2 1465.6L186.3 1464.6M186.3 1464.6L189.4 1463.5L191.5 1462.5L192.5 1460.5L192.5 1458.4L191.5 1456.4L188.4 1455.3L184.3 1455.3L181.2 1456.4L180.2 1458.4L180.2 1460.5L181.2 1462.5L183.3 1463.5L186.3 1464.6M200.7 1469.7L201.7 1473.8L203.7 1475.8L206.8 1476.8L207.8 1476.8L210.9 1475.8L213.0 1473.8L214.0 1470.7L214.0 1469.7L213.0 1466.6L210.9 1464.6L207.8 1463.5L206.8 1463.5L203.7 1464.6L201.7 1466.6L200.7 1469.7M213.0 1458.4L211.9 1456.4L208.9 1455.3L206.8 1455.3L203.7 1456.4L201.7 1459.4L200.7 1464.6L200.7 1469.7M227.3 1455.3L228.3 1455.3L231.4 1456.4L233.4 1459.4L234.5 1464.6L234.5 1467.6L233.4 1472.8L231.4 1475.8L228.3 1476.8L226.3 1476.8L223.2 1475.8L221.2 1472.8L220.1 1467.6L220.1 1464.6L221.2 1459.4L223.2 1456.4L226.3 1455.3L227.3 1455.3M454.5 1476.8L454.5 1455.3M449.4 1459.4L451.4 1458.4L454.5 1455.3M473.9 1464.6L478.0 1465.6L480.1 1467.6L481.1 1469.7L481.1 1472.8L480.1 1474.8L479.0 1475.8L476.0 1476.8L471.9 1476.8L468.8 1475.8L467.8 1474.8L466.8 1472.8L466.8 1469.7L467.8 1467.6L469.8 1465.6L473.9 1464.6M473.9 1464.6L477.0 1463.5L479.0 1462.5L480.1 1460.5L480.1 1458.4L479.0 1456.4L476.0 1455.3L471.9 1455.3L468.8 1456.4L467.8 1458.4L467.8 1460.5L468.8 1462.5L470.9 1463.5L473.9 1464.6M500.5 1462.5L500.5 1467.6L499.5 1472.8L497.5 1475.8L494.4 1476.8L492.4 1476.8L489.3 1475.8L488.3 1473.8M500.5 1462.5L499.5 1465.6L497.5 1467.6L494.4 1468.7L493.4 1468.7L490.3 1467.6L488.3 1465.6L487.2 1462.5L487.2 1461.5L488.3 1458.4L490.3 1456.4L493.4 1455.3L494.4 1455.3L497.5 1456.4L499.5 1458.4L500.5 1462.5M514.9 1455.3L515.9 1455.3L519.0 1456.4L521.0 1459.4L522.0 1464.6L522.0 1467.6L521.0 1472.8L519.0 1475.8L515.9 1476.8L513.9 1476.8L510.8 1475.8L508.7 1472.8L507.7 1467.6L507.7 1464.6L508.7 1459.4L510.8 1456.4L513.9 1455.3L514.9 1455.3M742.1 1476.8L742.1 1455.3M736.9 1459.4L739.0 1458.4L742.1 1455.3M767.7 1462.5L767.7 1467.6L766.6 1472.8L764.6 1475.8L761.5 1476.8L759.5 1476.8L756.4 1475.8L755.4 1473.8M767.7 1462.5L766.6 1465.6L764.6 1467.6L761.5 1468.7L760.5 1468.7L757.4 1467.6L755.4 1465.6L754.3 1462.5L754.3 1461.5L755.4 1458.4L757.4 1456.4L760.5 1455.3L761.5 1455.3L764.6 1456.4L766.6 1458.4L767.7 1462.5M775.8 1460.5L775.8 1459.4L776.9 1457.4L777.9 1456.4L779.9 1455.3L784.0 1455.3L786.1 1456.4L787.1 1457.4L788.1 1459.4L788.1 1461.5L785.1 1466.6L774.8 1476.8M774.8 1476.8L789.2 1476.8M802.5 1455.3L803.5 1455.3L806.6 1456.4L808.6 1459.4L809.6 1464.6L809.6 1467.6L808.6 1472.8L806.6 1475.8L803.5 1476.8L801.4 1476.8L798.4 1475.8L796.3 1472.8L795.3 1467.6L795.3 1464.6L796.3 1459.4L798.4 1456.4L801.4 1455.3L802.5 1455.3M1029.6 1476.8L1029.6 1455.3M1024.5 1459.4L1026.6 1458.4L1029.6 1455.3M1055.2 1462.5L1055.2 1467.6L1054.2 1472.8L1052.2 1475.8L1049.1 1476.8L1047.1 1476.8L1044.0 1475.8L1043.0 1473.8M1055.2 1462.5L1054.2 1465.6L1052.2 1467.6L1049.1 1468.7L1048.1 1468.7L1045.0 1467.6L1043.0 1465.6L1041.9 1462.5L1041.9 1461.5L1043.0 1458.4L1045.0 1456.4L1048.1 1455.3L1049.1 1455.3L1052.2 1456.4L1054.2 1458.4L1055.2 1462.5M1062.4 1472.8L1063.4 1474.8L1064.5 1475.8L1067.5 1476.8L1070.6 1476.8L1073.7 1475.8L1075.7 1473.8L1076.7 1470.7L1076.7 1468.7L1075.7 1465.6L1073.7 1463.5L1070.6 1462.5L1067.5 1462.5L1064.5 1463.5L1063.4 1464.6M1063.4 1464.6L1064.5 1455.3L1074.7 1455.3M1090.1 1455.3L1091.1 1455.3L1094.1 1456.4L1096.2 1459.4L1097.2 1464.6L1097.2 1467.6L1096.2 1472.8L1094.1 1475.8L1091.1 1476.8L1089.0 1476.8L1086.0 1475.8L1083.9 1472.8L1082.9 1467.6L1082.9 1464.6L1083.9 1459.4L1086.0 1456.4L1089.0 1455.3L1090.1 1455.3M1317.2 1476.8L1317.2 1455.3M1312.1 1459.4L1314.2 1458.4L1317.2 1455.3M1342.8 1462.5L1342.8 1467.6L1341.8 1472.8L1339.8 1475.8L1336.7 1476.8L1334.6 1476.8L1331.6 1475.8L1330.5 1473.8M1342.8 1462.5L1341.8 1465.6L1339.8 1467.6L1336.7 1468.7L1335.7 1468.7L1332.6 1467.6L1330.5 1465.6L1329.5 1462.5L1329.5 1461.5L1330.5 1458.4L1332.6 1456.4L1335.7 1455.3L1336.7 1455.3L1339.8 1456.4L1341.8 1458.4L1342.8 1462.5M1357.2 1464.6L1361.3 1465.6L1363.3 1467.6L1364.3 1469.7L1364.3 1472.8L1363.3 1474.8L1362.3 1475.8L1359.2 1476.8L1355.1 1476.8L1352.0 1475.8L1351.0 1474.8L1350.0 1472.8L1350.0 1469.7L1351.0 1467.6L1353.1 1465.6L1357.2 1464.6M1357.2 1464.6L1360.2 1463.5L1362.3 1462.5L1363.3 1460.5L1363.3 1458.4L1362.3 1456.4L1359.2 1455.3L1355.1 1455.3L1352.0 1456.4L1351.0 1458.4L1351.0 1460.5L1352.0 1462.5L1354.1 1463.5L1357.2 1464.6M1377.6 1455.3L1378.7 1455.3L1381.7 1456.4L1383.8 1459.4L1384.8 1464.6L1384.8 1467.6L1383.8 1472.8L1381.7 1475.8L1378.7 1476.8L1376.6 1476.8L1373.5 1475.8L1371.5 1472.8L1370.5 1467.6L1370.5 1464.6L1371.5 1459.4L1373.5 1456.4L1376.6 1455.3L1377.6 1455.3M1599.2 1460.5L1599.2 1459.4L1600.2 1457.4L1601.2 1456.4L1603.3 1455.3L1607.4 1455.3L1609.4 1456.4L1610.5 1457.4L1611.5 1459.4L1611.5 1461.5L1608.4 1466.6L1598.2 1476.8M1598.2 1476.8L1612.5 1476.8M1625.8 1455.3L1626.8 1455.3L1629.9 1456.4L1632.0 1459.4L1633.0 1464.6L1633.0 1467.6L1632.0 1472.8L1629.9 1475.8L1626.8 1476.8L1624.8 1476.8L1621.7 1475.8L1619.7 1472.8L1618.6 1467.6L1618.6 1464.6L1619.7 1459.4L1621.7 1456.4L1624.8 1455.3L1625.8 1455.3M1647.3 1476.8L1647.3 1455.3M1642.2 1459.4L1644.2 1458.4L1647.3 1455.3M1666.8 1455.3L1667.8 1455.3L1670.9 1456.4L1672.9 1459.4L1673.9 1464.6L1673.9 1467.6L1672.9 1472.8L1670.9 1475.8L1667.8 1476.8L1665.7 1476.8L1662.7 1475.8L1660.6 1472.8L1659.6 1467.6L1659.6 1464.6L1660.6 1459.4L1662.7 1456.4L1665.7 1455.3L1666.8 1455.3M135.4 830.5L146.6 830.5M135.4 830.5L135.4 846.0L153.6 846.0M135.4 830.5L135.4 816.5L153.6 816.5M162.1 830.5L171.9 830.5M162.1 830.5L162.1 846.0M162.1 830.5L162.1 816.5L174.7 816.5L178.9 817.9L180.3 819.3L181.7 822.1L181.7 824.9L180.3 827.7L178.9 829.1L174.7 830.5L171.9 830.5M181.7 846.0L171.9 830.5M209.7 820.7L206.9 817.9L202.7 816.5L197.1 816.5L192.9 817.9L190.1 820.7L190.1 823.5L191.5 826.3L192.9 827.7L195.7 829.1L204.1 832.0L206.9 833.4L208.3 834.8L209.7 837.6L209.7 841.8L206.9 844.6L202.7 846.0L197.1 846.0L192.9 844.6L190.1 841.8M237.8 820.7L235.0 817.9L230.8 816.5L225.2 816.5L221.0 817.9L218.2 820.7L218.2 823.5L219.6 826.3L221.0 827.7L223.8 829.1L232.2 832.0L235.0 833.4L236.4 834.8L237.8 837.6L237.8 841.8L235.0 844.6L230.8 846.0L225.2 846.0L221.0 844.6L218.2 841.8M253.2 846.0L253.2 816.5M243.4 816.5L253.2 816.5M253.2 816.5L263.1 816.5M267.3 826.3L275.7 846.0M284.1 826.3L275.7 846.0M300.9 827.7L305.1 827.7L307.9 829.1L309.3 830.5L310.7 834.8L310.7 837.6L309.3 841.8L306.5 844.6L302.3 846.0L298.1 846.0L293.9 844.6L292.5 843.2L291.1 840.4M300.9 827.7L309.3 816.5M309.3 816.5L293.9 816.5M320.6 841.8L323.4 844.6L326.2 846.0L330.4 846.0L333.2 844.6L336.0 841.8L337.4 837.6L337.4 834.8L336.0 830.5L333.2 827.7L330.4 826.3L326.2 826.3L323.4 827.7L320.6 830.5M320.6 841.8L320.6 846.0M320.6 841.8L320.6 830.5M320.6 830.5L320.6 816.5M1428.5 814.7L1429.5 814.7L1432.7 815.8L1434.9 819.2L1435.9 824.8L1435.9 828.1L1434.9 833.7L1432.7 837.1L1429.5 838.2L1427.4 838.2L1424.2 837.1L1422.1 833.7L1421.0 828.1L1421.0 824.8L1422.1 819.2L1424.2 815.8L1427.4 814.7L1428.5 814.7M1453.0 833.7L1454.1 836.0L1455.1 837.1L1458.3 838.2L1461.5 838.2L1464.8 837.1L1466.9 834.8L1468.0 831.5L1468.0 829.2L1466.9 825.9L1464.8 823.7L1461.5 822.5L1458.3 822.5L1455.1 823.7L1454.1 824.8M1454.1 824.8L1455.1 814.7L1465.8 814.7M1487.2 825.9L1485.0 823.7L1482.9 822.5L1479.7 822.5L1477.6 823.7L1475.4 825.9L1474.4 829.2L1474.4 831.5L1475.4 834.8L1477.6 837.1L1479.7 838.2L1482.9 838.2L1485.0 837.1L1487.2 834.8M1487.2 825.9L1487.2 834.8M1487.2 825.9L1487.2 814.7M1487.2 834.8L1487.2 838.2M1507.4 834.8L1505.3 837.1L1503.2 838.2L1500.0 838.2L1497.8 837.1L1495.7 834.8L1494.6 831.5L1494.6 829.2M1494.6 829.2L1507.4 829.2L1507.4 827.0L1506.4 824.8L1505.3 823.7L1503.2 822.5L1500.0 822.5L1497.8 823.7L1495.7 825.9L1494.6 829.2M1526.6 825.9L1524.5 823.7L1522.4 822.5L1519.2 822.5L1517.0 823.7L1514.9 825.9L1513.8 829.2L1513.8 831.5L1514.9 834.8L1517.0 837.1L1519.2 838.2L1522.4 838.2L1524.5 837.1L1526.6 834.8M1526.6 825.9L1526.6 834.8M1526.6 825.9L1526.6 822.5M1526.6 834.8L1526.6 840.4L1525.6 843.8L1524.5 844.9L1522.4 846.0L1519.2 846.0L1517.0 844.9M1550.1 832.6L1549.1 834.8L1546.9 837.1L1544.8 838.2L1540.5 838.2L1538.4 837.1L1536.2 834.8L1534.1 829.2L1534.1 823.7L1536.2 818.1L1538.4 815.8L1540.5 814.7L1544.8 814.7L1546.9 815.8L1549.1 818.1L1550.1 820.3M1582.1 838.2L1582.1 814.7M1576.8 819.2L1578.9 818.1L1582.1 814.7M1596.0 830.4L1597.1 834.8L1599.2 837.1L1602.4 838.2L1603.5 838.2L1606.7 837.1L1608.8 834.8L1609.9 831.5L1609.9 830.4L1608.8 827.0L1606.7 824.8L1603.5 823.7L1602.4 823.7L1599.2 824.8L1597.1 827.0L1596.0 830.4M1608.8 818.1L1607.7 815.8L1604.5 814.7L1602.4 814.7L1599.2 815.8L1597.1 819.2L1596.0 824.8L1596.0 830.4M1624.8 838.2L1624.8 814.7M1619.5 819.2L1621.6 818.1L1624.8 814.7M1636.6 822.5L1643.0 838.2M1649.4 822.5L1643.0 838.2M1643.0 838.2L1640.8 842.7L1638.7 844.9L1636.6 846.0L1635.5 846.0M1664.3 822.5L1661.1 822.5L1659.0 823.7L1656.8 825.9L1655.8 829.2M1655.8 829.2L1655.8 838.2M1655.8 822.5L1655.8 829.2M1667.6 817.9L1679.7 817.9M1689.8 824.5L1689.8 809.0M1686.4 812.0L1687.8 811.2L1689.8 809.0" stroke="#707070" stroke-width="1.0" fill="none" stroke-linecap="round" stroke-linejoin="round"/>
<path d="M135.95 1900.8H1535.2" stroke="#b4b4b4" stroke-width="1.2" fill="none"/>
<path d="M140.9 1966.6L142.3 1921.1L144.1 1941.3L146.7 1946.4L148.4 1965.8L149.7 1948.0L150.7 1922.8L152.0 1918.5L153.4 1932.9L154.6 1914.3L156.3 1910.1L157.2 1902.5L158.1 1914.3L159.0 1927.8L160.4 1951.4L161.6 1937.9L163.4 1929.5L165.1 1931.2L166.0 1936.2L167.8 1927.8L169.0 1937.9L170.8 1983.5L172.2 1951.4L173.4 1914.3L174.8 1906.8L176.0 1922.8L177.1 1941.3L178.3 1937.9L179.7 1963.2L181.3 1937.9L182.3 1894.1L183.2 1921.1L184.8 1944.7L186.2 1931.2L188.8 1919.4L190.6 1926.1L192.4 1954.8L195.0 1956.5L196.7 1970.0L198.5 1978.4L200.3 1964.9L201.7 1943.0L202.9 1921.1L203.8 1905.0L204.7 1880.6L205.9 1853.6L206.9 1884.0L208.2 1884.8L209.4 1887.3L210.4 1897.5L211.2 1914.3L211.9 1899.1L212.6 1862.0L214.0 1833.4L215.2 1794.6L216.4 1776.9L217.8 1781.1L218.7 1806.4L219.6 1858.7L220.5 1884.0L221.3 1882.3L222.7 1895.8L223.4 1905.0L224.9 1919.4L225.7 1935.4L226.6 1911.0L228.0 1907.6L229.2 1914.3L230.5 1926.1L231.4 1896.6L232.8 1906.2L234.0 1914.3L235.0 1895.8L235.9 1911.8L237.5 1882.3L238.4 1911.0L240.3 1918.5L241.2 1904.2L242.4 1873.9L243.8 1862.9L244.7 1862.9L245.6 1890.7L246.8 1905.0L247.7 1907.6L249.1 1900.8L250.3 1892.4L251.2 1906.0L252.4 1918.5L253.5 1897.5L254.7 1907.6L256.5 1931.2L257.9 1904.2L259.1 1921.1L261.4 1953.1L262.6 1922.8L263.8 1934.6L265.6 1952.3L267.0 1937.9L268.8 1904.2L269.6 1899.1L270.5 1931.2L271.4 1904.2L272.6 1876.4L273.7 1905.8L274.4 1907.6L275.4 1897.5L276.3 1863.7L277.5 1858.7L279.0 1897.5L280.2 1895.8L281.9 1887.3L283.3 1857.0L284.6 1884.0L285.6 1905.6L287.2 1912.6L288.6 1928.7L289.8 1904.2L290.7 1887.3L292.5 1878.9L293.4 1905.6L294.2 1921.1L295.1 1951.4L296.9 1946.4L298.3 1962.4L299.5 1954.8L300.7 1921.1L302.1 1927.8L303.9 1937.9L305.7 1953.1L306.5 1929.5L307.8 1905.4L308.8 1897.5L309.5 1905.4L310.9 1899.1L312.7 1887.3L314.4 1880.6L316.2 1848.6L317.6 1836.8L318.3 1867.1L319.4 1803.0L321.1 1781.1L322.0 1809.8L323.2 1831.7L324.1 1857.0L325.3 1873.9L326.4 1900.8L327.1 1905.2L328.5 1929.5L329.7 1949.7L331.1 1902.5L332.0 1899.1L332.9 1905.1L334.6 1927.8L336.7 1945.5L338.2 1929.5L339.0 1932.9L340.3 1941.3L341.3 1912.6L342.2 1905.0L343.4 1877.2L344.6 1853.6L345.7 1845.2L346.9 1860.4L347.8 1887.3L348.7 1910.1L349.6 1899.1L351.0 1902.5L352.2 1917.7L354.0 1936.2L355.7 1941.3L357.1 1946.4L358.4 1966.6L360.1 1959.0L361.9 1946.4L363.3 1929.5L365.4 1946.4L367.1 1929.5L368.9 1904.8L369.8 1896.6L371.0 1904.7L372.1 1912.6L373.3 1917.7L374.5 1904.7L375.6 1897.5L376.4 1904.7L378.0 1914.3L379.1 1921.1L380.3 1911.0L381.5 1937.9L382.9 1919.4L384.3 1909.3L385.1 1900.8L386.1 1884.0L387.3 1858.7L389.1 1863.7L390.8 1884.0L392.1 1880.6L393.5 1862.0L395.2 1821.6L396.6 1828.3L398.2 1809.8L399.6 1840.1L401.4 1870.5L403.1 1885.7L404.9 1899.1L406.1 1897.5L407.2 1904.3L408.4 1916.0L410.2 1919.4L411.4 1927.8L412.5 1943.0L413.5 1904.3L414.2 1889.0L414.9 1934.6L416.0 1904.2L416.8 1892.4L419.0 1885.7L420.7 1887.3L422.5 1868.8L423.7 1846.9L425.1 1819.9L426.9 1836.8L428.6 1823.3L430.0 1840.1L431.4 1853.6L432.6 1870.5L434.4 1897.5L435.6 1905.0L436.7 1900.8L437.9 1906.7L439.7 1921.1L441.4 1951.4L443.2 1921.1L444.9 1903.9L445.8 1865.4L447.6 1862.0L449.0 1867.1L450.2 1855.3L451.4 1825.0L453.2 1823.3L454.4 1798.8L455.5 1823.3L456.3 1870.5L457.2 1901.7L458.1 1931.2L459.5 1927.8L460.7 1892.4L461.6 1921.1L463.4 1952.3L464.8 1929.5L465.7 1903.7L466.4 1880.6L467.2 1903.7L468.3 1938.8L469.5 1903.7L470.4 1892.4L471.3 1862.0L472.5 1836.8L473.9 1851.9L475.3 1878.9L477.1 1878.9L478.3 1867.1L479.5 1806.4L480.9 1826.6L482.3 1851.9L484.1 1825.0L484.5 1855.3L485.9 1885.7L486.7 1901.7L488.0 1921.1L488.8 1903.5L489.7 1929.5L491.5 1967.4L493.2 1929.5L495.0 1903.4L496.2 1890.7L497.1 1903.4L498.5 1948.0L499.9 1948.0L500.6 1971.7L501.5 1921.1L502.4 1937.9L503.8 1921.1L505.0 1903.3L506.4 1895.8L507.3 1954.8L508.5 1892.4L509.4 1929.5L511.2 1943.0L512.9 1943.0L514.0 1903.2L514.7 1887.3L515.4 1903.2L516.4 1929.5L517.8 1946.4L519.6 1969.1L521.3 1954.8L523.1 1937.9L524.5 1946.4L525.7 1934.6L527.5 1951.4L529.2 1936.2L531.0 1948.0L532.2 1948.0L533.6 1931.2L534.9 1916.0L536.3 1954.8L537.5 1904.2L538.6 1890.7L539.8 1836.8L541.0 1824.1L542.4 1826.6L543.8 1853.6L545.1 1865.4L546.3 1892.4L547.3 1901.7L548.2 1934.6L549.1 1890.7L550.3 1904.2L551.2 1921.1L552.4 1887.3L553.5 1879.8L554.4 1921.1L555.6 1975.0L556.5 1904.2L557.9 1887.3L559.1 1862.0L560.3 1838.4L561.4 1829.2L562.6 1862.0L563.8 1901.7L564.9 1918.5L566.1 1901.7L567.0 1860.4L568.4 1838.4L569.6 1830.0L571.1 1840.1L572.3 1862.0L573.5 1867.1L574.4 1843.5L575.8 1801.3L576.7 1870.5L577.9 1902.5L579.3 1914.3L581.1 1931.2L582.5 1958.2L584.2 1948.0L586.0 1971.7L587.2 1993.6L589.0 1990.2L590.2 1944.7L592.0 1939.6L593.0 1904.2L594.2 1897.5L595.5 1880.6L596.5 1857.0L597.4 1902.3L598.6 1912.6L600.0 1946.4L601.3 1912.6L602.1 1902.2L603.0 1853.6L604.2 1806.4L605.7 1796.3L607.1 1806.4L608.6 1808.1L610.0 1840.1L611.3 1873.9L612.3 1877.2L613.6 1853.6L614.8 1877.2L616.2 1872.2L617.6 1885.7L618.5 1911.0L619.4 1860.4L620.2 1846.9L621.1 1878.9L622.9 1887.3L623.7 1904.2L624.6 1968.3L625.9 1926.1L627.1 1924.4L628.1 1897.5L629.4 1909.3L631.1 1927.8L633.8 1929.5L635.5 1953.1L636.9 1921.1L638.5 1922.8L639.6 1873.9L640.4 1904.2L641.7 1912.6L643.4 1948.0L645.2 1954.8L647.3 1963.2L648.3 1929.5L649.2 1895.8L650.1 1907.6L651.0 1870.5L652.2 1867.1L653.4 1856.1L654.3 1887.3L655.4 1895.8L656.6 1892.4L657.8 1889.9L658.4 1904.2L659.2 1924.4L660.5 1953.1L661.5 1973.3L662.4 1946.4L664.1 1943.0L665.4 1934.6L667.1 1929.5L668.0 1901.5L668.9 1853.6L670.3 1851.9L671.5 1836.8L672.9 1843.5L674.2 1846.9L675.9 1843.5L677.3 1819.9L678.2 1853.6L679.8 1857.0L681.2 1877.2L682.6 1885.7L683.3 1901.4L683.8 1911.0L684.7 1901.4L685.6 1909.3L686.5 1895.8L687.5 1885.7L688.2 1901.3L689.6 1904.2L691.4 1922.8L692.6 1907.6L694.4 1909.3L695.6 1902.5L696.6 1912.6L698.2 1890.7L699.1 1902.5L700.5 1931.2L702.3 1933.7L703.7 1927.8L705.1 1938.8L706.1 1921.1L707.2 1901.1L708.2 1866.3L709.3 1875.5L711.0 1885.7L712.5 1877.2L713.2 1901.1L714.6 1904.2L715.6 1931.2L716.8 1901.0L718.1 1870.5L720.2 1857.0L721.6 1835.1L723.0 1808.1L724.2 1819.9L726.0 1841.8L727.7 1860.4L730.0 1884.0L730.7 1895.8L731.4 1909.3L732.1 1891.6L733.2 1909.3L733.9 1900.8L734.7 1870.5L735.6 1846.0L737.0 1851.9L738.4 1826.6L739.5 1850.2L740.5 1873.9L741.6 1887.3L742.6 1900.7L743.7 1912.6L744.6 1923.6L745.5 1883.1L746.7 1900.7L747.9 1927.8L749.3 1939.6L750.7 1925.3L752.5 1921.1L754.2 1918.5L755.5 1900.6L756.3 1883.1L758.1 1866.3L759.5 1882.3L760.7 1882.3L761.6 1900.5L762.5 1937.9L763.7 1946.4L764.4 1978.4L765.1 1921.1L765.8 1900.5L766.4 1868.8L767.2 1900.5L768.3 1931.2L769.2 1900.5L770.0 1875.5L771.3 1890.7L772.5 1885.7L773.4 1909.3L774.3 1882.3L776.0 1885.7L777.1 1911.0L778.3 1904.2L779.2 1887.3L780.6 1870.5L781.5 1900.3L782.3 1917.7L783.4 1887.3L784.5 1921.1L785.5 1891.6L786.2 1937.9L787.6 1911.0L788.8 1907.6L790.1 1904.2L791.1 1944.7L792.9 1943.0L794.1 1900.2L795.3 1966.6L796.4 1975.0L797.6 2010.4L798.5 1931.2L799.9 1922.8L800.6 1909.3L801.3 1953.1L802.4 1909.3L803.8 1904.2L804.7 1900.1L805.5 1874.7L806.9 1885.7L808.2 1900.0L808.7 1914.3L809.4 1885.7L810.4 1891.6L811.5 1867.1L812.6 1877.2L814.0 1878.1L814.8 1885.7L816.1 1872.2L817.5 1877.2L818.7 1878.1L819.9 1889.0L821.0 1882.3L821.7 1862.0L823.1 1824.1L824.5 1844.3L825.7 1868.8L827.0 1851.9L828.4 1848.6L829.6 1819.9L830.5 1845.2L831.5 1887.3L832.2 1899.8L833.3 1922.8L834.5 1936.2L835.7 1956.5L836.6 1968.3L837.5 1948.0L838.9 1943.0L839.8 1919.4L840.7 1880.6L841.5 1907.6L842.4 1897.5L843.8 1873.9L845.4 1863.7L846.5 1900.8L847.3 1875.5L848.2 1899.6L849.1 1914.3L850.3 1904.2L851.2 1881.9L852.6 1886.5L853.8 1877.2L855.4 1878.1L856.5 1895.8L857.3 1900.5L858.8 1935.4L860.0 1929.5L860.7 1885.7L861.4 1904.2L862.3 1868.8L863.5 1878.9L864.9 1873.9L866.1 1840.1L867.4 1850.2L868.2 1887.3L869.1 1900.5L870.0 1934.6L870.5 1948.0L871.9 1921.1L873.2 1914.3L874.0 1944.7L875.3 1887.3L876.3 1912.6L877.5 1912.6L878.4 1892.4L879.3 1916.0L880.5 1897.5L881.4 1911.0L882.5 1934.6L883.7 1936.2L884.6 1911.0L885.5 1895.8L886.3 1887.3L887.7 1900.8L888.6 1892.4L889.5 1864.6L890.7 1887.3L891.6 1900.5L892.8 1927.8L893.7 1914.3L895.1 1909.3L896.0 1899.1L896.9 1929.5L897.7 1900.5L898.6 1890.7L899.5 1855.3L900.7 1882.3L901.8 1900.5L903.0 1934.6L904.2 1953.1L905.3 1971.7L906.2 1951.4L907.4 1953.1L908.8 1943.0L910.9 1944.7L912.7 1931.2L914.1 1934.6L915.7 1975.0L916.5 1914.3L917.6 1904.2L918.3 1900.5L919.4 1877.2L920.2 1843.5L921.5 1786.2L922.7 1826.6L924.1 1830.0L925.3 1853.6L926.4 1880.6L928.0 1877.2L928.8 1900.5L930.2 1912.6L931.5 1939.6L932.5 1917.7L933.8 1914.3L934.6 1926.1L935.5 1900.5L936.9 1870.5L938.2 1840.1L939.4 1831.7L940.8 1843.5L942.0 1841.8L943.1 1870.5L944.3 1887.3L945.2 1900.5L945.7 1944.7L946.9 1907.6L947.8 1921.1L948.7 2000.3L949.9 1973.3L951.3 1970.0L952.7 1968.3L953.6 1953.1L954.8 1958.2L955.7 1904.2L956.6 1929.5L957.8 1919.4L958.9 1954.8L960.1 1931.2L961.5 1946.4L962.6 1981.8L963.6 1948.0L965.0 1929.5L965.9 1900.5L966.8 1887.3L967.5 1907.6L968.4 1922.8L969.2 1890.7L970.1 1900.5L971.5 1921.1L973.3 1937.9L974.5 1955.6L975.2 1900.5L975.9 1863.7L977.1 1825.0L978.6 1787.0L979.8 1808.1L981.2 1819.9L982.9 1833.4L984.3 1851.9L985.6 1843.5L986.6 1822.4L987.9 1846.9L988.7 1870.5L989.6 1898.1L990.5 1892.4L991.7 1884.0L993.0 1898.1L994.0 1884.0L995.4 1847.7L996.6 1870.5L997.9 1892.4L998.8 1907.6L999.6 1914.3L1000.5 1892.4L1001.7 1891.6L1002.6 1904.2L1003.7 1909.3L1004.9 1914.3L1006.1 1931.2L1007.5 1912.6L1008.8 1907.6L1009.8 1921.1L1010.7 1936.2L1011.9 1900.5L1013.3 1861.2L1014.6 1897.8L1015.4 1907.6L1016.7 1921.1L1018.1 1936.2L1019.5 1919.4L1020.7 1911.0L1022.1 1909.3L1023.3 1929.5L1024.6 1975.0L1025.6 1927.8L1026.9 1921.1L1028.6 1937.9L1030.0 1943.1L1030.9 1926.2L1032.1 1916.1L1033.2 1894.2L1034.2 1916.1L1035.3 1890.8L1036.7 1874.0L1038.3 1865.5L1039.7 1890.8L1040.9 1898.8L1041.9 1926.2L1043.2 1943.1L1044.4 1990.3L1045.8 1953.2L1047.6 1933.0L1048.4 1956.6L1049.7 1934.7L1051.1 1922.9L1052.0 1875.7L1053.2 1818.3L1054.4 1789.7L1055.8 1811.6L1057.2 1841.9L1058.6 1848.7L1059.9 1843.6L1060.9 1874.0L1062.0 1898.8L1062.7 1946.5L1063.9 1933.0L1065.1 1909.4L1066.5 1916.1L1067.8 1924.6L1069.5 1933.0L1070.8 1919.5L1072.2 1907.7L1073.6 1926.2L1075.0 1933.0L1076.2 1960.0L1077.4 1970.9L1078.8 1958.3L1080.4 1933.0L1081.5 1949.9L1082.7 1963.3L1083.8 1943.1L1084.8 1898.8L1085.9 1875.7L1086.6 1858.8L1087.6 1880.7L1088.5 1875.7L1089.4 1899.3L1090.2 1892.5L1091.1 1843.6L1092.4 1803.1L1093.6 1825.1L1094.6 1870.6L1095.7 1868.9L1096.6 1847.0L1098.2 1855.4L1099.0 1880.7L1099.9 1898.8L1100.8 1933.0L1102.4 1943.1L1103.8 1976.8L1105.2 1943.1L1106.6 1926.2L1108.2 1943.1L1109.4 1961.7L1110.8 1906.0L1112.2 1941.4L1114.0 1939.7L1115.2 1933.0L1116.4 1929.6L1117.3 1909.4L1118.2 1898.8L1119.6 1858.8L1121.0 1825.1L1122.2 1777.9L1123.4 1751.7L1124.5 1789.7L1125.7 1803.1L1127.0 1794.7L1127.8 1825.1L1128.7 1898.8L1129.8 1917.8L1131.0 1943.1L1132.2 1948.2L1133.6 1960.0L1134.9 1943.1L1136.3 1936.4L1137.5 1929.6L1138.6 1909.4L1139.4 1892.5L1140.7 1877.3L1141.9 1884.9L1142.8 1889.1L1143.6 1926.2L1144.5 1949.9L1145.9 1941.4L1147.2 1926.2L1148.0 1889.1L1149.4 1880.7L1150.3 1924.6L1151.6 1909.4L1153.0 1933.0L1154.2 1958.3L1155.1 1971.8L1156.1 1934.7L1157.0 1898.8L1158.2 1875.7L1159.6 1855.4L1160.5 1825.1L1161.6 1793.9L1162.8 1825.1L1163.8 1858.8L1165.3 1874.0L1166.5 1884.1L1167.4 1898.8L1168.4 1924.6L1169.3 1906.0L1170.3 1892.5L1171.2 1898.8L1172.3 1921.2L1173.2 1909.4L1174.4 1911.1L1175.4 1896.1L1176.3 1909.4L1177.5 1926.2L1178.6 1927.9L1179.5 1939.7L1180.0 1927.0L1180.9 1921.8L1182.1 1914.8L1183.2 1896.0L1184.4 1875.2L1185.3 1891.9L1186.1 1911.2L1187.0 1896.0L1187.6 1877.9L1188.8 1869.1L1190.0 1863.8L1191.4 1850.6L1192.3 1865.6L1193.2 1891.9L1194.1 1895.9L1194.9 1900.7L1196.2 1893.7L1197.2 1891.9L1198.3 1884.9L1199.0 1895.8L1200.2 1914.8L1201.6 1916.5L1203.2 1930.6L1204.4 1949.9L1205.5 1921.8L1206.7 1906.0L1208.1 1902.5L1209.3 1920.0L1210.7 1914.8L1212.1 1909.5L1212.8 1895.7L1213.4 1891.9L1214.3 1909.5L1215.5 1942.9L1216.4 1927.0L1217.2 1895.6L1218.3 1874.4L1219.5 1839.2L1220.8 1795.3L1221.8 1751.4L1222.5 1732.1L1223.6 1751.4L1224.8 1765.4L1225.7 1763.7L1226.5 1716.3L1227.6 1674.1L1228.7 1688.2L1229.2 1754.9L1230.1 1804.1L1230.9 1848.0L1231.8 1872.6L1232.7 1881.4L1233.2 1895.5L1234.1 1923.5L1235.3 1916.5L1236.6 1939.3L1237.6 1920.0L1238.8 1913.0L1240.1 1898.9L1241.1 1909.5L1241.8 1895.4L1242.7 1920.0L1243.6 1941.1L1244.6 1951.6L1245.9 1969.2L1247.3 1962.2L1248.5 1951.6L1249.7 1942.9L1250.8 1927.0L1251.7 1895.3L1252.4 1888.4L1253.1 1895.3L1254.1 1921.8L1255.2 1930.6L1256.4 1937.6L1257.3 1895.2L1258.2 1884.9L1259.4 1883.1L1260.4 1874.4L1261.7 1849.8L1262.9 1821.7L1264.3 1803.2L1265.4 1825.2L1266.4 1835.7L1267.8 1837.5L1269.2 1824.3L1270.1 1848.0L1271.0 1874.4L1271.9 1895.1L1273.1 1920.0L1274.5 1944.6L1275.7 1972.7L1277.1 1960.4L1278.4 1955.2L1279.8 1935.8L1281.0 1900.7L1281.9 1888.4L1283.3 1883.1L1284.0 1894.9L1284.7 1942.9L1285.7 1921.8L1287.1 1920.0L1288.6 1914.8L1289.8 1916.5L1291.0 1904.2L1292.4 1898.9L1293.8 1900.7L1294.7 1909.5L1295.6 1920.0L1296.8 1916.5L1298.0 1916.5L1298.6 1925.3L1299.4 1920.0L1300.5 1900.7L1301.2 1884.9L1302.1 1906.0L1303.0 1894.7L1303.8 1881.4L1305.2 1868.2L1306.5 1876.1L1307.7 1872.6L1308.8 1862.1L1310.0 1861.2L1311.2 1821.7L1312.4 1781.3L1313.5 1821.7L1314.2 1872.6L1314.9 1894.6L1316.1 1911.2L1317.4 1902.5L1318.8 1894.6L1319.6 1881.4L1320.5 1862.1L1321.9 1841.9L1323.2 1851.5L1324.4 1870.8L1325.8 1874.4L1327.2 1888.4L1328.4 1891.9L1329.0 1894.4L1330.2 1923.5L1331.4 1942.9L1332.8 1932.3L1334.2 1942.9L1335.1 1909.5L1336.0 1894.4L1336.7 1860.3L1337.6 1851.5L1338.6 1847.1L1339.5 1874.4L1340.2 1894.3L1340.7 1916.5L1341.6 1944.6L1342.5 1920.0L1343.7 1914.8L1345.1 1907.7L1346.3 1927.0L1347.4 1921.8L1348.6 1906.0L1349.5 1902.5L1350.4 1953.4L1351.8 1962.2L1353.0 1964.8L1354.2 1955.2L1356.0 1953.4L1357.1 1935.8L1358.3 1894.1L1359.2 1856.8L1360.4 1804.1L1361.5 1740.9L1362.3 1696.9L1363.6 1690.8L1364.4 1698.7L1365.5 1696.9L1366.5 1688.2L1367.4 1716.3L1368.3 1739.1L1369.4 1738.2L1370.6 1722.4L1371.5 1783.0L1372.3 1821.7L1373.2 1860.3L1374.1 1876.1L1375.0 1894.0L1376.0 1906.0L1377.1 1913.0L1377.8 1893.9L1378.5 1883.1L1379.2 1909.5L1379.9 1937.6L1381.1 1939.3L1382.4 1946.4L1383.4 1951.6L1384.6 1935.8L1385.9 1927.0L1387.3 1909.5L1388.2 1893.8L1388.7 1881.4L1389.4 1893.8L1390.4 1920.0L1391.3 1939.3L1392.5 1920.0L1393.8 1919.1L1394.6 1941.1L1395.7 1920.0L1396.6 1893.7L1397.5 1862.1L1398.3 1838.3L1399.0 1893.7L1399.9 1927.0L1401.0 1942.9L1402.2 1942.9L1403.3 1956.9L1404.3 1934.1L1405.7 1930.6L1406.6 1893.6L1407.5 1840.1L1408.4 1856.8L1409.1 1893.6L1410.1 1897.2L1411.3 1925.3L1412.2 1897.2L1412.9 1893.5L1413.3 1865.6L1414.3 1860.3L1415.0 1893.5L1416.3 1900.7L1417.5 1930.6L1418.5 1972.7L1419.4 1927.0L1420.6 1909.5L1421.5 1893.5L1422.4 1884.9L1423.5 1876.1L1424.5 1884.9L1425.2 1893.4L1426.3 1909.5L1427.3 1920.0L1428.6 1952.5L1429.8 1935.8L1430.0 1941.0L1430.6 1921.0L1431.2 1908.5L1431.9 1893.3L1432.5 1879.8L1433.1 1877.2L1434.0 1893.3L1434.8 1908.5L1435.6 1926.0L1436.5 1919.8L1437.1 1893.3L1437.5 1887.2L1437.9 1893.3L1438.5 1914.8L1439.8 1915.4L1440.6 1916.0L1441.5 1944.8L1442.5 1936.0L1443.4 1908.5L1444.0 1893.2L1444.6 1883.5L1445.5 1879.8L1446.0 1893.2L1446.5 1951.0L1447.1 1906.0L1447.9 1893.2L1448.5 1877.2L1449.4 1852.2L1450.4 1842.2L1451.4 1829.1L1452.1 1849.8L1453.1 1864.8L1454.0 1887.2L1454.8 1889.8L1455.2 1893.1L1455.6 1933.5L1456.5 1958.5L1457.5 1961.0L1458.5 1957.2L1459.4 1969.8L1460.4 1987.2L1461.2 1994.8L1462.0 1971.0L1462.8 1968.5L1463.1 1908.5L1463.8 1893.0L1464.4 1862.2L1465.0 1871.0L1465.6 1869.8L1466.5 1871.0L1467.2 1858.5L1468.4 1842.2L1469.1 1856.0L1469.8 1856.6L1470.2 1892.9L1471.0 1899.8L1471.6 1904.8L1472.5 1898.5L1473.5 1897.2L1474.4 1894.8L1474.8 1892.9L1475.4 1871.0L1476.2 1858.5L1477.2 1844.8L1478.1 1852.2L1479.0 1873.5L1480.0 1873.5L1481.0 1871.0L1481.9 1873.5L1482.8 1879.8L1483.5 1892.8L1484.0 1871.0L1484.6 1864.8L1485.0 1886.0L1485.6 1887.2L1486.0 1892.8L1486.5 1919.8L1487.2 1962.2L1488.1 1964.8L1488.8 1964.1L1489.5 1979.1L1490.2 1964.8L1491.0 1936.0L1491.8 1933.5L1492.2 1892.7L1492.9 1892.7L1493.5 1906.0L1494.0 1892.7L1494.5 1879.8L1495.1 1866.0L1495.8 1857.9L1496.4 1866.0L1497.0 1892.6L1497.5 1896.0L1498.2 1926.0L1499.4 1928.5L1500.6 1935.4L1501.2 1919.8L1502.0 1892.6L1502.5 1878.5L1503.2 1848.5L1504.0 1823.5L1504.8 1822.9L1505.5 1823.2L1506.2 1854.8L1507.0 1873.5L1507.8 1874.8L1508.2 1892.5L1509.0 1896.0L1509.8 1912.2L1510.6 1921.0L1511.2 1911.0L1512.0 1901.0L1512.5 1891.0L1512.9 1901.0L1513.5 1926.0L1514.4 1952.2L1515.0 1966.0L1515.6 1963.5L1516.5 1946.0L1517.2 1926.0L1518.1 1924.8L1518.8 1923.5L1519.4 1906.0L1520.0 1892.4L1520.5 1878.5L1521.0 1892.4L1521.5 1922.2L1522.2 1921.0L1522.8 1916.0L1523.1 1892.4L1523.5 1863.5L1524.0 1841.0L1524.6 1817.2L1525.4 1828.5L1526.2 1842.2L1527.2 1854.8L1528.1 1856.6L1528.8 1857.2L1529.1 1892.3" stroke="#c8c8c8" stroke-width="1" fill="none" stroke-linejoin="miter" stroke-miterlimit="10"/>
<clipPath id="u3"><path d="M139.9 1589.45H1530.1V1891.9L139.9 1906.8Z"/></clipPath>
<clipPath id="d3"><path d="M139.9 2107.35H1530.1V1892.7L139.9 1907.6Z"/></clipPath>
<path d="M140.9 1966.6L142.3 1921.1L144.1 1941.3L146.7 1946.4L148.4 1965.8L149.7 1948.0L150.7 1922.8L152.0 1918.5L153.4 1932.9L154.6 1914.3L156.3 1910.1L157.2 1902.5L158.1 1914.3L159.0 1927.8L160.4 1951.4L161.6 1937.9L163.4 1929.5L165.1 1931.2L166.0 1936.2L167.8 1927.8L169.0 1937.9L170.8 1983.5L172.2 1951.4L173.4 1914.3L174.8 1906.8L176.0 1922.8L177.1 1941.3L178.3 1937.9L179.7 1963.2L181.3 1937.9L182.3 1894.1L183.2 1921.1L184.8 1944.7L186.2 1931.2L188.8 1919.4L190.6 1926.1L192.4 1954.8L195.0 1956.5L196.7 1970.0L198.5 1978.4L200.3 1964.9L201.7 1943.0L202.9 1921.1L203.8 1905.0L204.7 1880.6L205.9 1853.6L206.9 1884.0L208.2 1884.8L209.4 1887.3L210.4 1897.5L211.2 1914.3L211.9 1899.1L212.6 1862.0L214.0 1833.4L215.2 1794.6L216.4 1776.9L217.8 1781.1L218.7 1806.4L219.6 1858.7L220.5 1884.0L221.3 1882.3L222.7 1895.8L223.4 1905.0L224.9 1919.4L225.7 1935.4L226.6 1911.0L228.0 1907.6L229.2 1914.3L230.5 1926.1L231.4 1896.6L232.8 1906.2L234.0 1914.3L235.0 1895.8L235.9 1911.8L237.5 1882.3L238.4 1911.0L240.3 1918.5L241.2 1904.2L242.4 1873.9L243.8 1862.9L244.7 1862.9L245.6 1890.7L246.8 1905.0L247.7 1907.6L249.1 1900.8L250.3 1892.4L251.2 1906.0L252.4 1918.5L253.5 1897.5L254.7 1907.6L256.5 1931.2L257.9 1904.2L259.1 1921.1L261.4 1953.1L262.6 1922.8L263.8 1934.6L265.6 1952.3L267.0 1937.9L268.8 1904.2L269.6 1899.1L270.5 1931.2L271.4 1904.2L272.6 1876.4L273.7 1905.8L274.4 1907.6L275.4 1897.5L276.3 1863.7L277.5 1858.7L279.0 1897.5L280.2 1895.8L281.9 1887.3L283.3 1857.0L284.6 1884.0L285.6 1905.6L287.2 1912.6L288.6 1928.7L289.8 1904.2L290.7 1887.3L292.5 1878.9L293.4 1905.6L294.2 1921.1L295.1 1951.4L296.9 1946.4L298.3 1962.4L299.5 1954.8L300.7 1921.1L302.1 1927.8L303.9 1937.9L305.7 1953.1L306.5 1929.5L307.8 1905.4L308.8 1897.5L309.5 1905.4L310.9 1899.1L312.7 1887.3L314.4 1880.6L316.2 1848.6L317.6 1836.8L318.3 1867.1L319.4 1803.0L321.1 1781.1L322.0 1809.8L323.2 1831.7L324.1 1857.0L325.3 1873.9L326.4 1900.8L327.1 1905.2L328.5 1929.5L329.7 1949.7L331.1 1902.5L332.0 1899.1L332.9 1905.1L334.6 1927.8L336.7 1945.5L338.2 1929.5L339.0 1932.9L340.3 1941.3L341.3 1912.6L342.2 1905.0L343.4 1877.2L344.6 1853.6L345.7 1845.2L346.9 1860.4L347.8 1887.3L348.7 1910.1L349.6 1899.1L351.0 1902.5L352.2 1917.7L354.0 1936.2L355.7 1941.3L357.1 1946.4L358.4 1966.6L360.1 1959.0L361.9 1946.4L363.3 1929.5L365.4 1946.4L367.1 1929.5L368.9 1904.8L369.8 1896.6L371.0 1904.7L372.1 1912.6L373.3 1917.7L374.5 1904.7L375.6 1897.5L376.4 1904.7L378.0 1914.3L379.1 1921.1L380.3 1911.0L381.5 1937.9L382.9 1919.4L384.3 1909.3L385.1 1900.8L386.1 1884.0L387.3 1858.7L389.1 1863.7L390.8 1884.0L392.1 1880.6L393.5 1862.0L395.2 1821.6L396.6 1828.3L398.2 1809.8L399.6 1840.1L401.4 1870.5L403.1 1885.7L404.9 1899.1L406.1 1897.5L407.2 1904.3L408.4 1916.0L410.2 1919.4L411.4 1927.8L412.5 1943.0L413.5 1904.3L414.2 1889.0L414.9 1934.6L416.0 1904.2L416.8 1892.4L419.0 1885.7L420.7 1887.3L422.5 1868.8L423.7 1846.9L425.1 1819.9L426.9 1836.8L428.6 1823.3L430.0 1840.1L431.4 1853.6L432.6 1870.5L434.4 1897.5L435.6 1905.0L436.7 1900.8L437.9 1906.7L439.7 1921.1L441.4 1951.4L443.2 1921.1L444.9 1903.9L445.8 1865.4L447.6 1862.0L449.0 1867.1L450.2 1855.3L451.4 1825.0L453.2 1823.3L454.4 1798.8L455.5 1823.3L456.3 1870.5L457.2 1901.7L458.1 1931.2L459.5 1927.8L460.7 1892.4L461.6 1921.1L463.4 1952.3L464.8 1929.5L465.7 1903.7L466.4 1880.6L467.2 1903.7L468.3 1938.8L469.5 1903.7L470.4 1892.4L471.3 1862.0L472.5 1836.8L473.9 1851.9L475.3 1878.9L477.1 1878.9L478.3 1867.1L479.5 1806.4L480.9 1826.6L482.3 1851.9L484.1 1825.0L484.5 1855.3L485.9 1885.7L486.7 1901.7L488.0 1921.1L488.8 1903.5L489.7 1929.5L491.5 1967.4L493.2 1929.5L495.0 1903.4L496.2 1890.7L497.1 1903.4L498.5 1948.0L499.9 1948.0L500.6 1971.7L501.5 1921.1L502.4 1937.9L503.8 1921.1L505.0 1903.3L506.4 1895.8L507.3 1954.8L508.5 1892.4L509.4 1929.5L511.2 1943.0L512.9 1943.0L514.0 1903.2L514.7 1887.3L515.4 1903.2L516.4 1929.5L517.8 1946.4L519.6 1969.1L521.3 1954.8L523.1 1937.9L524.5 1946.4L525.7 1934.6L527.5 1951.4L529.2 1936.2L531.0 1948.0L532.2 1948.0L533.6 1931.2L534.9 1916.0L536.3 1954.8L537.5 1904.2L538.6 1890.7L539.8 1836.8L541.0 1824.1L542.4 1826.6L543.8 1853.6L545.1 1865.4L546.3 1892.4L547.3 1901.7L548.2 1934.6L549.1 1890.7L550.3 1904.2L551.2 1921.1L552.4 1887.3L553.5 1879.8L554.4 1921.1L555.6 1975.0L556.5 1904.2L557.9 1887.3L559.1 1862.0L560.3 1838.4L561.4 1829.2L562.6 1862.0L563.8 1901.7L564.9 1918.5L566.1 1901.7L567.0 1860.4L568.4 1838.4L569.6 1830.0L571.1 1840.1L572.3 1862.0L573.5 1867.1L574.4 1843.5L575.8 1801.3L576.7 1870.5L577.9 1902.5L579.3 1914.3L581.1 1931.2L582.5 1958.2L584.2 1948.0L586.0 1971.7L587.2 1993.6L589.0 1990.2L590.2 1944.7L592.0 1939.6L593.0 1904.2L594.2 1897.5L595.5 1880.6L596.5 1857.0L597.4 1902.3L598.6 1912.6L600.0 1946.4L601.3 1912.6L602.1 1902.2L603.0 1853.6L604.2 1806.4L605.7 1796.3L607.1 1806.4L608.6 1808.1L610.0 1840.1L611.3 1873.9L612.3 1877.2L613.6 1853.6L614.8 1877.2L616.2 1872.2L617.6 1885.7L618.5 1911.0L619.4 1860.4L620.2 1846.9L621.1 1878.9L622.9 1887.3L623.7 1904.2L624.6 1968.3L625.9 1926.1L627.1 1924.4L628.1 1897.5L629.4 1909.3L631.1 1927.8L633.8 1929.5L635.5 1953.1L636.9 1921.1L638.5 1922.8L639.6 1873.9L640.4 1904.2L641.7 1912.6L643.4 1948.0L645.2 1954.8L647.3 1963.2L648.3 1929.5L649.2 1895.8L650.1 1907.6L651.0 1870.5L652.2 1867.1L653.4 1856.1L654.3 1887.3L655.4 1895.8L656.6 1892.4L657.8 1889.9L658.4 1904.2L659.2 1924.4L660.5 1953.1L661.5 1973.3L662.4 1946.4L664.1 1943.0L665.4 1934.6L667.1 1929.5L668.0 1901.5L668.9 1853.6L670.3 1851.9L671.5 1836.8L672.9 1843.5L674.2 1846.9L675.9 1843.5L677.3 1819.9L678.2 1853.6L679.8 1857.0L681.2 1877.2L682.6 1885.7L683.3 1901.4L683.8 1911.0L684.7 1901.4L685.6 1909.3L686.5 1895.8L687.5 1885.7L688.2 1901.3L689.6 1904.2L691.4 1922.8L692.6 1907.6L694.4 1909.3L695.6 1902.5L696.6 1912.6L698.2 1890.7L699.1 1902.5L700.5 1931.2L702.3 1933.7L703.7 1927.8L705.1 1938.8L706.1 1921.1L707.2 1901.1L708.2 1866.3L709.3 1875.5L711.0 1885.7L712.5 1877.2L713.2 1901.1L714.6 1904.2L715.6 1931.2L716.8 1901.0L718.1 1870.5L720.2 1857.0L721.6 1835.1L723.0 1808.1L724.2 1819.9L726.0 1841.8L727.7 1860.4L730.0 1884.0L730.7 1895.8L731.4 1909.3L732.1 1891.6L733.2 1909.3L733.9 1900.8L734.7 1870.5L735.6 1846.0L737.0 1851.9L738.4 1826.6L739.5 1850.2L740.5 1873.9L741.6 1887.3L742.6 1900.7L743.7 1912.6L744.6 1923.6L745.5 1883.1L746.7 1900.7L747.9 1927.8L749.3 1939.6L750.7 1925.3L752.5 1921.1L754.2 1918.5L755.5 1900.6L756.3 1883.1L758.1 1866.3L759.5 1882.3L760.7 1882.3L761.6 1900.5L762.5 1937.9L763.7 1946.4L764.4 1978.4L765.1 1921.1L765.8 1900.5L766.4 1868.8L767.2 1900.5L768.3 1931.2L769.2 1900.5L770.0 1875.5L771.3 1890.7L772.5 1885.7L773.4 1909.3L774.3 1882.3L776.0 1885.7L777.1 1911.0L778.3 1904.2L779.2 1887.3L780.6 1870.5L781.5 1900.3L782.3 1917.7L783.4 1887.3L784.5 1921.1L785.5 1891.6L786.2 1937.9L787.6 1911.0L788.8 1907.6L790.1 1904.2L791.1 1944.7L792.9 1943.0L794.1 1900.2L795.3 1966.6L796.4 1975.0L797.6 2010.4L798.5 1931.2L799.9 1922.8L800.6 1909.3L801.3 1953.1L802.4 1909.3L803.8 1904.2L804.7 1900.1L805.5 1874.7L806.9 1885.7L808.2 1900.0L808.7 1914.3L809.4 1885.7L810.4 1891.6L811.5 1867.1L812.6 1877.2L814.0 1878.1L814.8 1885.7L816.1 1872.2L817.5 1877.2L818.7 1878.1L819.9 1889.0L821.0 1882.3L821.7 1862.0L823.1 1824.1L824.5 1844.3L825.7 1868.8L827.0 1851.9L828.4 1848.6L829.6 1819.9L830.5 1845.2L831.5 1887.3L832.2 1899.8L833.3 1922.8L834.5 1936.2L835.7 1956.5L836.6 1968.3L837.5 1948.0L838.9 1943.0L839.8 1919.4L840.7 1880.6L841.5 1907.6L842.4 1897.5L843.8 1873.9L845.4 1863.7L846.5 1900.8L847.3 1875.5L848.2 1899.6L849.1 1914.3L850.3 1904.2L851.2 1881.9L852.6 1886.5L853.8 1877.2L855.4 1878.1L856.5 1895.8L857.3 1900.5L858.8 1935.4L860.0 1929.5L860.7 1885.7L861.4 1904.2L862.3 1868.8L863.5 1878.9L864.9 1873.9L866.1 1840.1L867.4 1850.2L868.2 1887.3L869.1 1900.5L870.0 1934.6L870.5 1948.0L871.9 1921.1L873.2 1914.3L874.0 1944.7L875.3 1887.3L876.3 1912.6L877.5 1912.6L878.4 1892.4L879.3 1916.0L880.5 1897.5L881.4 1911.0L882.5 1934.6L883.7 1936.2L884.6 1911.0L885.5 1895.8L886.3 1887.3L887.7 1900.8L888.6 1892.4L889.5 1864.6L890.7 1887.3L891.6 1900.5L892.8 1927.8L893.7 1914.3L895.1 1909.3L896.0 1899.1L896.9 1929.5L897.7 1900.5L898.6 1890.7L899.5 1855.3L900.7 1882.3L901.8 1900.5L903.0 1934.6L904.2 1953.1L905.3 1971.7L906.2 1951.4L907.4 1953.1L908.8 1943.0L910.9 1944.7L912.7 1931.2L914.1 1934.6L915.7 1975.0L916.5 1914.3L917.6 1904.2L918.3 1900.5L919.4 1877.2L920.2 1843.5L921.5 1786.2L922.7 1826.6L924.1 1830.0L925.3 1853.6L926.4 1880.6L928.0 1877.2L928.8 1900.5L930.2 1912.6L931.5 1939.6L932.5 1917.7L933.8 1914.3L934.6 1926.1L935.5 1900.5L936.9 1870.5L938.2 1840.1L939.4 1831.7L940.8 1843.5L942.0 1841.8L943.1 1870.5L944.3 1887.3L945.2 1900.5L945.7 1944.7L946.9 1907.6L947.8 1921.1L948.7 2000.3L949.9 1973.3L951.3 1970.0L952.7 1968.3L953.6 1953.1L954.8 1958.2L955.7 1904.2L956.6 1929.5L957.8 1919.4L958.9 1954.8L960.1 1931.2L961.5 1946.4L962.6 1981.8L963.6 1948.0L965.0 1929.5L965.9 1900.5L966.8 1887.3L967.5 1907.6L968.4 1922.8L969.2 1890.7L970.1 1900.5L971.5 1921.1L973.3 1937.9L974.5 1955.6L975.2 1900.5L975.9 1863.7L977.1 1825.0L978.6 1787.0L979.8 1808.1L981.2 1819.9L982.9 1833.4L984.3 1851.9L985.6 1843.5L986.6 1822.4L987.9 1846.9L988.7 1870.5L989.6 1898.1L990.5 1892.4L991.7 1884.0L993.0 1898.1L994.0 1884.0L995.4 1847.7L996.6 1870.5L997.9 1892.4L998.8 1907.6L999.6 1914.3L1000.5 1892.4L1001.7 1891.6L1002.6 1904.2L1003.7 1909.3L1004.9 1914.3L1006.1 1931.2L1007.5 1912.6L1008.8 1907.6L1009.8 1921.1L1010.7 1936.2L1011.9 1900.5L1013.3 1861.2L1014.6 1897.8L1015.4 1907.6L1016.7 1921.1L1018.1 1936.2L1019.5 1919.4L1020.7 1911.0L1022.1 1909.3L1023.3 1929.5L1024.6 1975.0L1025.6 1927.8L1026.9 1921.1L1028.6 1937.9L1030.0 1943.1L1030.9 1926.2L1032.1 1916.1L1033.2 1894.2L1034.2 1916.1L1035.3 1890.8L1036.7 1874.0L1038.3 1865.5L1039.7 1890.8L1040.9 1898.8L1041.9 1926.2L1043.2 1943.1L1044.4 1990.3L1045.8 1953.2L1047.6 1933.0L1048.4 1956.6L1049.7 1934.7L1051.1 1922.9L1052.0 1875.7L1053.2 1818.3L1054.4 1789.7L1055.8 1811.6L1057.2 1841.9L1058.6 1848.7L1059.9 1843.6L1060.9 1874.0L1062.0 1898.8L1062.7 1946.5L1063.9 1933.0L1065.1 1909.4L1066.5 1916.1L1067.8 1924.6L1069.5 1933.0L1070.8 1919.5L1072.2 1907.7L1073.6 1926.2L1075.0 1933.0L1076.2 1960.0L1077.4 1970.9L1078.8 1958.3L1080.4 1933.0L1081.5 1949.9L1082.7 1963.3L1083.8 1943.1L1084.8 1898.8L1085.9 1875.7L1086.6 1858.8L1087.6 1880.7L1088.5 1875.7L1089.4 1899.3L1090.2 1892.5L1091.1 1843.6L1092.4 1803.1L1093.6 1825.1L1094.6 1870.6L1095.7 1868.9L1096.6 1847.0L1098.2 1855.4L1099.0 1880.7L1099.9 1898.8L1100.8 1933.0L1102.4 1943.1L1103.8 1976.8L1105.2 1943.1L1106.6 1926.2L1108.2 1943.1L1109.4 1961.7L1110.8 1906.0L1112.2 1941.4L1114.0 1939.7L1115.2 1933.0L1116.4 1929.6L1117.3 1909.4L1118.2 1898.8L1119.6 1858.8L1121.0 1825.1L1122.2 1777.9L1123.4 1751.7L1124.5 1789.7L1125.7 1803.1L1127.0 1794.7L1127.8 1825.1L1128.7 1898.8L1129.8 1917.8L1131.0 1943.1L1132.2 1948.2L1133.6 1960.0L1134.9 1943.1L1136.3 1936.4L1137.5 1929.6L1138.6 1909.4L1139.4 1892.5L1140.7 1877.3L1141.9 1884.9L1142.8 1889.1L1143.6 1926.2L1144.5 1949.9L1145.9 1941.4L1147.2 1926.2L1148.0 1889.1L1149.4 1880.7L1150.3 1924.6L1151.6 1909.4L1153.0 1933.0L1154.2 1958.3L1155.1 1971.8L1156.1 1934.7L1157.0 1898.8L1158.2 1875.7L1159.6 1855.4L1160.5 1825.1L1161.6 1793.9L1162.8 1825.1L1163.8 1858.8L1165.3 1874.0L1166.5 1884.1L1167.4 1898.8L1168.4 1924.6L1169.3 1906.0L1170.3 1892.5L1171.2 1898.8L1172.3 1921.2L1173.2 1909.4L1174.4 1911.1L1175.4 1896.1L1176.3 1909.4L1177.5 1926.2L1178.6 1927.9L1179.5 1939.7L1180.0 1927.0L1180.9 1921.8L1182.1 1914.8L1183.2 1896.0L1184.4 1875.2L1185.3 1891.9L1186.1 1911.2L1187.0 1896.0L1187.6 1877.9L1188.8 1869.1L1190.0 1863.8L1191.4 1850.6L1192.3 1865.6L1193.2 1891.9L1194.1 1895.9L1194.9 1900.7L1196.2 1893.7L1197.2 1891.9L1198.3 1884.9L1199.0 1895.8L1200.2 1914.8L1201.6 1916.5L1203.2 1930.6L1204.4 1949.9L1205.5 1921.8L1206.7 1906.0L1208.1 1902.5L1209.3 1920.0L1210.7 1914.8L1212.1 1909.5L1212.8 1895.7L1213.4 1891.9L1214.3 1909.5L1215.5 1942.9L1216.4 1927.0L1217.2 1895.6L1218.3 1874.4L1219.5 1839.2L1220.8 1795.3L1221.8 1751.4L1222.5 1732.1L1223.6 1751.4L1224.8 1765.4L1225.7 1763.7L1226.5 1716.3L1227.6 1674.1L1228.7 1688.2L1229.2 1754.9L1230.1 1804.1L1230.9 1848.0L1231.8 1872.6L1232.7 1881.4L1233.2 1895.5L1234.1 1923.5L1235.3 1916.5L1236.6 1939.3L1237.6 1920.0L1238.8 1913.0L1240.1 1898.9L1241.1 1909.5L1241.8 1895.4L1242.7 1920.0L1243.6 1941.1L1244.6 1951.6L1245.9 1969.2L1247.3 1962.2L1248.5 1951.6L1249.7 1942.9L1250.8 1927.0L1251.7 1895.3L1252.4 1888.4L1253.1 1895.3L1254.1 1921.8L1255.2 1930.6L1256.4 1937.6L1257.3 1895.2L1258.2 1884.9L1259.4 1883.1L1260.4 1874.4L1261.7 1849.8L1262.9 1821.7L1264.3 1803.2L1265.4 1825.2L1266.4 1835.7L1267.8 1837.5L1269.2 1824.3L1270.1 1848.0L1271.0 1874.4L1271.9 1895.1L1273.1 1920.0L1274.5 1944.6L1275.7 1972.7L1277.1 1960.4L1278.4 1955.2L1279.8 1935.8L1281.0 1900.7L1281.9 1888.4L1283.3 1883.1L1284.0 1894.9L1284.7 1942.9L1285.7 1921.8L1287.1 1920.0L1288.6 1914.8L1289.8 1916.5L1291.0 1904.2L1292.4 1898.9L1293.8 1900.7L1294.7 1909.5L1295.6 1920.0L1296.8 1916.5L1298.0 1916.5L1298.6 1925.3L1299.4 1920.0L1300.5 1900.7L1301.2 1884.9L1302.1 1906.0L1303.0 1894.7L1303.8 1881.4L1305.2 1868.2L1306.5 1876.1L1307.7 1872.6L1308.8 1862.1L1310.0 1861.2L1311.2 1821.7L1312.4 1781.3L1313.5 1821.7L1314.2 1872.6L1314.9 1894.6L1316.1 1911.2L1317.4 1902.5L1318.8 1894.6L1319.6 1881.4L1320.5 1862.1L1321.9 1841.9L1323.2 1851.5L1324.4 1870.8L1325.8 1874.4L1327.2 1888.4L1328.4 1891.9L1329.0 1894.4L1330.2 1923.5L1331.4 1942.9L1332.8 1932.3L1334.2 1942.9L1335.1 1909.5L1336.0 1894.4L1336.7 1860.3L1337.6 1851.5L1338.6 1847.1L1339.5 1874.4L1340.2 1894.3L1340.7 1916.5L1341.6 1944.6L1342.5 1920.0L1343.7 1914.8L1345.1 1907.7L1346.3 1927.0L1347.4 1921.8L1348.6 1906.0L1349.5 1902.5L1350.4 1953.4L1351.8 1962.2L1353.0 1964.8L1354.2 1955.2L1356.0 1953.4L1357.1 1935.8L1358.3 1894.1L1359.2 1856.8L1360.4 1804.1L1361.5 1740.9L1362.3 1696.9L1363.6 1690.8L1364.4 1698.7L1365.5 1696.9L1366.5 1688.2L1367.4 1716.3L1368.3 1739.1L1369.4 1738.2L1370.6 1722.4L1371.5 1783.0L1372.3 1821.7L1373.2 1860.3L1374.1 1876.1L1375.0 1894.0L1376.0 1906.0L1377.1 1913.0L1377.8 1893.9L1378.5 1883.1L1379.2 1909.5L1379.9 1937.6L1381.1 1939.3L1382.4 1946.4L1383.4 1951.6L1384.6 1935.8L1385.9 1927.0L1387.3 1909.5L1388.2 1893.8L1388.7 1881.4L1389.4 1893.8L1390.4 1920.0L1391.3 1939.3L1392.5 1920.0L1393.8 1919.1L1394.6 1941.1L1395.7 1920.0L1396.6 1893.7L1397.5 1862.1L1398.3 1838.3L1399.0 1893.7L1399.9 1927.0L1401.0 1942.9L1402.2 1942.9L1403.3 1956.9L1404.3 1934.1L1405.7 1930.6L1406.6 1893.6L1407.5 1840.1L1408.4 1856.8L1409.1 1893.6L1410.1 1897.2L1411.3 1925.3L1412.2 1897.2L1412.9 1893.5L1413.3 1865.6L1414.3 1860.3L1415.0 1893.5L1416.3 1900.7L1417.5 1930.6L1418.5 1972.7L1419.4 1927.0L1420.6 1909.5L1421.5 1893.5L1422.4 1884.9L1423.5 1876.1L1424.5 1884.9L1425.2 1893.4L1426.3 1909.5L1427.3 1920.0L1428.6 1952.5L1429.8 1935.8L1430.0 1941.0L1430.6 1921.0L1431.2 1908.5L1431.9 1893.3L1432.5 1879.8L1433.1 1877.2L1434.0 1893.3L1434.8 1908.5L1435.6 1926.0L1436.5 1919.8L1437.1 1893.3L1437.5 1887.2L1437.9 1893.3L1438.5 1914.8L1439.8 1915.4L1440.6 1916.0L1441.5 1944.8L1442.5 1936.0L1443.4 1908.5L1444.0 1893.2L1444.6 1883.5L1445.5 1879.8L1446.0 1893.2L1446.5 1951.0L1447.1 1906.0L1447.9 1893.2L1448.5 1877.2L1449.4 1852.2L1450.4 1842.2L1451.4 1829.1L1452.1 1849.8L1453.1 1864.8L1454.0 1887.2L1454.8 1889.8L1455.2 1893.1L1455.6 1933.5L1456.5 1958.5L1457.5 1961.0L1458.5 1957.2L1459.4 1969.8L1460.4 1987.2L1461.2 1994.8L1462.0 1971.0L1462.8 1968.5L1463.1 1908.5L1463.8 1893.0L1464.4 1862.2L1465.0 1871.0L1465.6 1869.8L1466.5 1871.0L1467.2 1858.5L1468.4 1842.2L1469.1 1856.0L1469.8 1856.6L1470.2 1892.9L1471.0 1899.8L1471.6 1904.8L1472.5 1898.5L1473.5 1897.2L1474.4 1894.8L1474.8 1892.9L1475.4 1871.0L1476.2 1858.5L1477.2 1844.8L1478.1 1852.2L1479.0 1873.5L1480.0 1873.5L1481.0 1871.0L1481.9 1873.5L1482.8 1879.8L1483.5 1892.8L1484.0 1871.0L1484.6 1864.8L1485.0 1886.0L1485.6 1887.2L1486.0 1892.8L1486.5 1919.8L1487.2 1962.2L1488.1 1964.8L1488.8 1964.1L1489.5 1979.1L1490.2 1964.8L1491.0 1936.0L1491.8 1933.5L1492.2 1892.7L1492.9 1892.7L1493.5 1906.0L1494.0 1892.7L1494.5 1879.8L1495.1 1866.0L1495.8 1857.9L1496.4 1866.0L1497.0 1892.6L1497.5 1896.0L1498.2 1926.0L1499.4 1928.5L1500.6 1935.4L1501.2 1919.8L1502.0 1892.6L1502.5 1878.5L1503.2 1848.5L1504.0 1823.5L1504.8 1822.9L1505.5 1823.2L1506.2 1854.8L1507.0 1873.5L1507.8 1874.8L1508.2 1892.5L1509.0 1896.0L1509.8 1912.2L1510.6 1921.0L1511.2 1911.0L1512.0 1901.0L1512.5 1891.0L1512.9 1901.0L1513.5 1926.0L1514.4 1952.2L1515.0 1966.0L1515.6 1963.5L1516.5 1946.0L1517.2 1926.0L1518.1 1924.8L1518.8 1923.5L1519.4 1906.0L1520.0 1892.4L1520.5 1878.5L1521.0 1892.4L1521.5 1922.2L1522.2 1921.0L1522.8 1916.0L1523.1 1892.4L1523.5 1863.5L1524.0 1841.0L1524.6 1817.2L1525.4 1828.5L1526.2 1842.2L1527.2 1854.8L1528.1 1856.6L1528.8 1857.2L1529.1 1892.3L1529.1 1892.3L140.9 1907.2Z" fill="#ff0000" shape-rendering="crispEdges" clip-path="url(#u3)"/>
<path d="M140.9 1966.6L142.3 1921.1L144.1 1941.3L146.7 1946.4L148.4 1965.8L149.7 1948.0L150.7 1922.8L152.0 1918.5L153.4 1932.9L154.6 1914.3L156.3 1910.1L157.2 1902.5L158.1 1914.3L159.0 1927.8L160.4 1951.4L161.6 1937.9L163.4 1929.5L165.1 1931.2L166.0 1936.2L167.8 1927.8L169.0 1937.9L170.8 1983.5L172.2 1951.4L173.4 1914.3L174.8 1906.8L176.0 1922.8L177.1 1941.3L178.3 1937.9L179.7 1963.2L181.3 1937.9L182.3 1894.1L183.2 1921.1L184.8 1944.7L186.2 1931.2L188.8 1919.4L190.6 1926.1L192.4 1954.8L195.0 1956.5L196.7 1970.0L198.5 1978.4L200.3 1964.9L201.7 1943.0L202.9 1921.1L203.8 1905.0L204.7 1880.6L205.9 1853.6L206.9 1884.0L208.2 1884.8L209.4 1887.3L210.4 1897.5L211.2 1914.3L211.9 1899.1L212.6 1862.0L214.0 1833.4L215.2 1794.6L216.4 1776.9L217.8 1781.1L218.7 1806.4L219.6 1858.7L220.5 1884.0L221.3 1882.3L222.7 1895.8L223.4 1905.0L224.9 1919.4L225.7 1935.4L226.6 1911.0L228.0 1907.6L229.2 1914.3L230.5 1926.1L231.4 1896.6L232.8 1906.2L234.0 1914.3L235.0 1895.8L235.9 1911.8L237.5 1882.3L238.4 1911.0L240.3 1918.5L241.2 1904.2L242.4 1873.9L243.8 1862.9L244.7 1862.9L245.6 1890.7L246.8 1905.0L247.7 1907.6L249.1 1900.8L250.3 1892.4L251.2 1906.0L252.4 1918.5L253.5 1897.5L254.7 1907.6L256.5 1931.2L257.9 1904.2L259.1 1921.1L261.4 1953.1L262.6 1922.8L263.8 1934.6L265.6 1952.3L267.0 1937.9L268.8 1904.2L269.6 1899.1L270.5 1931.2L271.4 1904.2L272.6 1876.4L273.7 1905.8L274.4 1907.6L275.4 1897.5L276.3 1863.7L277.5 1858.7L279.0 1897.5L280.2 1895.8L281.9 1887.3L283.3 1857.0L284.6 1884.0L285.6 1905.6L287.2 1912.6L288.6 1928.7L289.8 1904.2L290.7 1887.3L292.5 1878.9L293.4 1905.6L294.2 1921.1L295.1 1951.4L296.9 1946.4L298.3 1962.4L299.5 1954.8L300.7 1921.1L302.1 1927.8L303.9 1937.9L305.7 1953.1L306.5 1929.5L307.8 1905.4L308.8 1897.5L309.5 1905.4L310.9 1899.1L312.7 1887.3L314.4 1880.6L316.2 1848.6L317.6 1836.8L318.3 1867.1L319.4 1803.0L321.1 1781.1L322.0 1809.8L323.2 1831.7L324.1 1857.0L325.3 1873.9L326.4 1900.8L327.1 1905.2L328.5 1929.5L329.7 1949.7L331.1 1902.5L332.0 1899.1L332.9 1905.1L334.6 1927.8L336.7 1945.5L338.2 1929.5L339.0 1932.9L340.3 1941.3L341.3 1912.6L342.2 1905.0L343.4 1877.2L344.6 1853.6L345.7 1845.2L346.9 1860.4L347.8 1887.3L348.7 1910.1L349.6 1899.1L351.0 1902.5L352.2 1917.7L354.0 1936.2L355.7 1941.3L357.1 1946.4L358.4 1966.6L360.1 1959.0L361.9 1946.4L363.3 1929.5L365.4 1946.4L367.1 1929.5L368.9 1904.8L369.8 1896.6L371.0 1904.7L372.1 1912.6L373.3 1917.7L374.5 1904.7L375.6 1897.5L376.4 1904.7L378.0 1914.3L379.1 1921.1L380.3 1911.0L381.5 1937.9L382.9 1919.4L384.3 1909.3L385.1 1900.8L386.1 1884.0L387.3 1858.7L389.1 1863.7L390.8 1884.0L392.1 1880.6L393.5 1862.0L395.2 1821.6L396.6 1828.3L398.2 1809.8L399.6 1840.1L401.4 1870.5L403.1 1885.7L404.9 1899.1L406.1 1897.5L407.2 1904.3L408.4 1916.0L410.2 1919.4L411.4 1927.8L412.5 1943.0L413.5 1904.3L414.2 1889.0L414.9 1934.6L416.0 1904.2L416.8 1892.4L419.0 1885.7L420.7 1887.3L422.5 1868.8L423.7 1846.9L425.1 1819.9L426.9 1836.8L428.6 1823.3L430.0 1840.1L431.4 1853.6L432.6 1870.5L434.4 1897.5L435.6 1905.0L436.7 1900.8L437.9 1906.7L439.7 1921.1L441.4 1951.4L443.2 1921.1L444.9 1903.9L445.8 1865.4L447.6 1862.0L449.0 1867.1L450.2 1855.3L451.4 1825.0L453.2 1823.3L454.4 1798.8L455.5 1823.3L456.3 1870.5L457.2 1901.7L458.1 1931.2L459.5 1927.8L460.7 1892.4L461.6 1921.1L463.4 1952.3L464.8 1929.5L465.7 1903.7L466.4 1880.6L467.2 1903.7L468.3 1938.8L469.5 1903.7L470.4 1892.4L471.3 1862.0L472.5 1836.8L473.9 1851.9L475.3 1878.9L477.1 1878.9L478.3 1867.1L479.5 1806.4L480.9 1826.6L482.3 1851.9L484.1 1825.0L484.5 1855.3L485.9 1885.7L486.7 1901.7L488.0 1921.1L488.8 1903.5L489.7 1929.5L491.5 1967.4L493.2 1929.5L495.0 1903.4L496.2 1890.7L497.1 1903.4L498.5 1948.0L499.9 1948.0L500.6 1971.7L501.5 1921.1L502.4 1937.9L503.8 1921.1L505.0 1903.3L506.4 1895.8L507.3 1954.8L508.5 1892.4L509.4 1929.5L511.2 1943.0L512.9 1943.0L514.0 1903.2L514.7 1887.3L515.4 1903.2L516.4 1929.5L517.8 1946.4L519.6 1969.1L521.3 1954.8L523.1 1937.9L524.5 1946.4L525.7 1934.6L527.5 1951.4L529.2 1936.2L531.0 1948.0L532.2 1948.0L533.6 1931.2L534.9 1916.0L536.3 1954.8L537.5 1904.2L538.6 1890.7L539.8 1836.8L541.0 1824.1L542.4 1826.6L543.8 1853.6L545.1 1865.4L546.3 1892.4L547.3 1901.7L548.2 1934.6L549.1 1890.7L550.3 1904.2L551.2 1921.1L552.4 1887.3L553.5 1879.8L554.4 1921.1L555.6 1975.0L556.5 1904.2L557.9 1887.3L559.1 1862.0L560.3 1838.4L561.4 1829.2L562.6 1862.0L563.8 1901.7L564.9 1918.5L566.1 1901.7L567.0 1860.4L568.4 1838.4L569.6 1830.0L571.1 1840.1L572.3 1862.0L573.5 1867.1L574.4 1843.5L575.8 1801.3L576.7 1870.5L577.9 1902.5L579.3 1914.3L581.1 1931.2L582.5 1958.2L584.2 1948.0L586.0 1971.7L587.2 1993.6L589.0 1990.2L590.2 1944.7L592.0 1939.6L593.0 1904.2L594.2 1897.5L595.5 1880.6L596.5 1857.0L597.4 1902.3L598.6 1912.6L600.0 1946.4L601.3 1912.6L602.1 1902.2L603.0 1853.6L604.2 1806.4L605.7 1796.3L607.1 1806.4L608.6 1808.1L610.0 1840.1L611.3 1873.9L612.3 1877.2L613.6 1853.6L614.8 1877.2L616.2 1872.2L617.6 1885.7L618.5 1911.0L619.4 1860.4L620.2 1846.9L621.1 1878.9L622.9 1887.3L623.7 1904.2L624.6 1968.3L625.9 1926.1L627.1 1924.4L628.1 1897.5L629.4 1909.3L631.1 1927.8L633.8 1929.5L635.5 1953.1L636.9 1921.1L638.5 1922.8L639.6 1873.9L640.4 1904.2L641.7 1912.6L643.4 1948.0L645.2 1954.8L647.3 1963.2L648.3 1929.5L649.2 1895.8L650.1 1907.6L651.0 1870.5L652.2 1867.1L653.4 1856.1L654.3 1887.3L655.4 1895.8L656.6 1892.4L657.8 1889.9L658.4 1904.2L659.2 1924.4L660.5 1953.1L661.5 1973.3L662.4 1946.4L664.1 1943.0L665.4 1934.6L667.1 1929.5L668.0 1901.5L668.9 1853.6L670.3 1851.9L671.5 1836.8L672.9 1843.5L674.2 1846.9L675.9 1843.5L677.3 1819.9L678.2 1853.6L679.8 1857.0L681.2 1877.2L682.6 1885.7L683.3 1901.4L683.8 1911.0L684.7 1901.4L685.6 1909.3L686.5 1895.8L687.5 1885.7L688.2 1901.3L689.6 1904.2L691.4 1922.8L692.6 1907.6L694.4 1909.3L695.6 1902.5L696.6 1912.6L698.2 1890.7L699.1 1902.5L700.5 1931.2L702.3 1933.7L703.7 1927.8L705.1 1938.8L706.1 1921.1L707.2 1901.1L708.2 1866.3L709.3 1875.5L711.0 1885.7L712.5 1877.2L713.2 1901.1L714.6 1904.2L715.6 1931.2L716.8 1901.0L718.1 1870.5L720.2 1857.0L721.6 1835.1L723.0 1808.1L724.2 1819.9L726.0 1841.8L727.7 1860.4L730.0 1884.0L730.7 1895.8L731.4 1909.3L732.1 1891.6L733.2 1909.3L733.9 1900.8L734.7 1870.5L735.6 1846.0L737.0 1851.9L738.4 1826.6L739.5 1850.2L740.5 1873.9L741.6 1887.3L742.6 1900.7L743.7 1912.6L744.6 1923.6L745.5 1883.1L746.7 1900.7L747.9 1927.8L749.3 1939.6L750.7 1925.3L752.5 1921.1L754.2 1918.5L755.5 1900.6L756.3 1883.1L758.1 1866.3L759.5 1882.3L760.7 1882.3L761.6 1900.5L762.5 1937.9L763.7 1946.4L764.4 1978.4L765.1 1921.1L765.8 1900.5L766.4 1868.8L767.2 1900.5L768.3 1931.2L769.2 1900.5L770.0 1875.5L771.3 1890.7L772.5 1885.7L773.4 1909.3L774.3 1882.3L776.0 1885.7L777.1 1911.0L778.3 1904.2L779.2 1887.3L780.6 1870.5L781.5 1900.3L782.3 1917.7L783.4 1887.3L784.5 1921.1L785.5 1891.6L786.2 1937.9L787.6 1911.0L788.8 1907.6L790.1 1904.2L791.1 1944.7L792.9 1943.0L794.1 1900.2L795.3 1966.6L796.4 1975.0L797.6 2010.4L798.5 1931.2L799.9 1922.8L800.6 1909.3L801.3 1953.1L802.4 1909.3L803.8 1904.2L804.7 1900.1L805.5 1874.7L806.9 1885.7L808.2 1900.0L808.7 1914.3L809.4 1885.7L810.4 1891.6L811.5 1867.1L812.6 1877.2L814.0 1878.1L814.8 1885.7L816.1 1872.2L817.5 1877.2L818.7 1878.1L819.9 1889.0L821.0 1882.3L821.7 1862.0L823.1 1824.1L824.5 1844.3L825.7 1868.8L827.0 1851.9L828.4 1848.6L829.6 1819.9L830.5 1845.2L831.5 1887.3L832.2 1899.8L833.3 1922.8L834.5 1936.2L835.7 1956.5L836.6 1968.3L837.5 1948.0L838.9 1943.0L839.8 1919.4L840.7 1880.6L841.5 1907.6L842.4 1897.5L843.8 1873.9L845.4 1863.7L846.5 1900.8L847.3 1875.5L848.2 1899.6L849.1 1914.3L850.3 1904.2L851.2 1881.9L852.6 1886.5L853.8 1877.2L855.4 1878.1L856.5 1895.8L857.3 1900.5L858.8 1935.4L860.0 1929.5L860.7 1885.7L861.4 1904.2L862.3 1868.8L863.5 1878.9L864.9 1873.9L866.1 1840.1L867.4 1850.2L868.2 1887.3L869.1 1900.5L870.0 1934.6L870.5 1948.0L871.9 1921.1L873.2 1914.3L874.0 1944.7L875.3 1887.3L876.3 1912.6L877.5 1912.6L878.4 1892.4L879.3 1916.0L880.5 1897.5L881.4 1911.0L882.5 1934.6L883.7 1936.2L884.6 1911.0L885.5 1895.8L886.3 1887.3L887.7 1900.8L888.6 1892.4L889.5 1864.6L890.7 1887.3L891.6 1900.5L892.8 1927.8L893.7 1914.3L895.1 1909.3L896.0 1899.1L896.9 1929.5L897.7 1900.5L898.6 1890.7L899.5 1855.3L900.7 1882.3L901.8 1900.5L903.0 1934.6L904.2 1953.1L905.3 1971.7L906.2 1951.4L907.4 1953.1L908.8 1943.0L910.9 1944.7L912.7 1931.2L914.1 1934.6L915.7 1975.0L916.5 1914.3L917.6 1904.2L918.3 1900.5L919.4 1877.2L920.2 1843.5L921.5 1786.2L922.7 1826.6L924.1 1830.0L925.3 1853.6L926.4 1880.6L928.0 1877.2L928.8 1900.5L930.2 1912.6L931.5 1939.6L932.5 1917.7L933.8 1914.3L934.6 1926.1L935.5 1900.5L936.9 1870.5L938.2 1840.1L939.4 1831.7L940.8 1843.5L942.0 1841.8L943.1 1870.5L944.3 1887.3L945.2 1900.5L945.7 1944.7L946.9 1907.6L947.8 1921.1L948.7 2000.3L949.9 1973.3L951.3 1970.0L952.7 1968.3L953.6 1953.1L954.8 1958.2L955.7 1904.2L956.6 1929.5L957.8 1919.4L958.9 1954.8L960.1 1931.2L961.5 1946.4L962.6 1981.8L963.6 1948.0L965.0 1929.5L965.9 1900.5L966.8 1887.3L967.5 1907.6L968.4 1922.8L969.2 1890.7L970.1 1900.5L971.5 1921.1L973.3 1937.9L974.5 1955.6L975.2 1900.5L975.9 1863.7L977.1 1825.0L978.6 1787.0L979.8 1808.1L981.2 1819.9L982.9 1833.4L984.3 1851.9L985.6 1843.5L986.6 1822.4L987.9 1846.9L988.7 1870.5L989.6 1898.1L990.5 1892.4L991.7 1884.0L993.0 1898.1L994.0 1884.0L995.4 1847.7L996.6 1870.5L997.9 1892.4L998.8 1907.6L999.6 1914.3L1000.5 1892.4L1001.7 1891.6L1002.6 1904.2L1003.7 1909.3L1004.9 1914.3L1006.1 1931.2L1007.5 1912.6L1008.8 1907.6L1009.8 1921.1L1010.7 1936.2L1011.9 1900.5L1013.3 1861.2L1014.6 1897.8L1015.4 1907.6L1016.7 1921.1L1018.1 1936.2L1019.5 1919.4L1020.7 1911.0L1022.1 1909.3L1023.3 1929.5L1024.6 1975.0L1025.6 1927.8L1026.9 1921.1L1028.6 1937.9L1030.0 1943.1L1030.9 1926.2L1032.1 1916.1L1033.2 1894.2L1034.2 1916.1L1035.3 1890.8L1036.7 1874.0L1038.3 1865.5L1039.7 1890.8L1040.9 1898.8L1041.9 1926.2L1043.2 1943.1L1044.4 1990.3L1045.8 1953.2L1047.6 1933.0L1048.4 1956.6L1049.7 1934.7L1051.1 1922.9L1052.0 1875.7L1053.2 1818.3L1054.4 1789.7L1055.8 1811.6L1057.2 1841.9L1058.6 1848.7L1059.9 1843.6L1060.9 1874.0L1062.0 1898.8L1062.7 1946.5L1063.9 1933.0L1065.1 1909.4L1066.5 1916.1L1067.8 1924.6L1069.5 1933.0L1070.8 1919.5L1072.2 1907.7L1073.6 1926.2L1075.0 1933.0L1076.2 1960.0L1077.4 1970.9L1078.8 1958.3L1080.4 1933.0L1081.5 1949.9L1082.7 1963.3L1083.8 1943.1L1084.8 1898.8L1085.9 1875.7L1086.6 1858.8L1087.6 1880.7L1088.5 1875.7L1089.4 1899.3L1090.2 1892.5L1091.1 1843.6L1092.4 1803.1L1093.6 1825.1L1094.6 1870.6L1095.7 1868.9L1096.6 1847.0L1098.2 1855.4L1099.0 1880.7L1099.9 1898.8L1100.8 1933.0L1102.4 1943.1L1103.8 1976.8L1105.2 1943.1L1106.6 1926.2L1108.2 1943.1L1109.4 1961.7L1110.8 1906.0L1112.2 1941.4L1114.0 1939.7L1115.2 1933.0L1116.4 1929.6L1117.3 1909.4L1118.2 1898.8L1119.6 1858.8L1121.0 1825.1L1122.2 1777.9L1123.4 1751.7L1124.5 1789.7L1125.7 1803.1L1127.0 1794.7L1127.8 1825.1L1128.7 1898.8L1129.8 1917.8L1131.0 1943.1L1132.2 1948.2L1133.6 1960.0L1134.9 1943.1L1136.3 1936.4L1137.5 1929.6L1138.6 1909.4L1139.4 1892.5L1140.7 1877.3L1141.9 1884.9L1142.8 1889.1L1143.6 1926.2L1144.5 1949.9L1145.9 1941.4L1147.2 1926.2L1148.0 1889.1L1149.4 1880.7L1150.3 1924.6L1151.6 1909.4L1153.0 1933.0L1154.2 1958.3L1155.1 1971.8L1156.1 1934.7L1157.0 1898.8L1158.2 1875.7L1159.6 1855.4L1160.5 1825.1L1161.6 1793.9L1162.8 1825.1L1163.8 1858.8L1165.3 1874.0L1166.5 1884.1L1167.4 1898.8L1168.4 1924.6L1169.3 1906.0L1170.3 1892.5L1171.2 1898.8L1172.3 1921.2L1173.2 1909.4L1174.4 1911.1L1175.4 1896.1L1176.3 1909.4L1177.5 1926.2L1178.6 1927.9L1179.5 1939.7L1180.0 1927.0L1180.9 1921.8L1182.1 1914.8L1183.2 1896.0L1184.4 1875.2L1185.3 1891.9L1186.1 1911.2L1187.0 1896.0L1187.6 1877.9L1188.8 1869.1L1190.0 1863.8L1191.4 1850.6L1192.3 1865.6L1193.2 1891.9L1194.1 1895.9L1194.9 1900.7L1196.2 1893.7L1197.2 1891.9L1198.3 1884.9L1199.0 1895.8L1200.2 1914.8L1201.6 1916.5L1203.2 1930.6L1204.4 1949.9L1205.5 1921.8L1206.7 1906.0L1208.1 1902.5L1209.3 1920.0L1210.7 1914.8L1212.1 1909.5L1212.8 1895.7L1213.4 1891.9L1214.3 1909.5L1215.5 1942.9L1216.4 1927.0L1217.2 1895.6L1218.3 1874.4L1219.5 1839.2L1220.8 1795.3L1221.8 1751.4L1222.5 1732.1L1223.6 1751.4L1224.8 1765.4L1225.7 1763.7L1226.5 1716.3L1227.6 1674.1L1228.7 1688.2L1229.2 1754.9L1230.1 1804.1L1230.9 1848.0L1231.8 1872.6L1232.7 1881.4L1233.2 1895.5L1234.1 1923.5L1235.3 1916.5L1236.6 1939.3L1237.6 1920.0L1238.8 1913.0L1240.1 1898.9L1241.1 1909.5L1241.8 1895.4L1242.7 1920.0L1243.6 1941.1L1244.6 1951.6L1245.9 1969.2L1247.3 1962.2L1248.5 1951.6L1249.7 1942.9L1250.8 1927.0L1251.7 1895.3L1252.4 1888.4L1253.1 1895.3L1254.1 1921.8L1255.2 1930.6L1256.4 1937.6L1257.3 1895.2L1258.2 1884.9L1259.4 1883.1L1260.4 1874.4L1261.7 1849.8L1262.9 1821.7L1264.3 1803.2L1265.4 1825.2L1266.4 1835.7L1267.8 1837.5L1269.2 1824.3L1270.1 1848.0L1271.0 1874.4L1271.9 1895.1L1273.1 1920.0L1274.5 1944.6L1275.7 1972.7L1277.1 1960.4L1278.4 1955.2L1279.8 1935.8L1281.0 1900.7L1281.9 1888.4L1283.3 1883.1L1284.0 1894.9L1284.7 1942.9L1285.7 1921.8L1287.1 1920.0L1288.6 1914.8L1289.8 1916.5L1291.0 1904.2L1292.4 1898.9L1293.8 1900.7L1294.7 1909.5L1295.6 1920.0L1296.8 1916.5L1298.0 1916.5L1298.6 1925.3L1299.4 1920.0L1300.5 1900.7L1301.2 1884.9L1302.1 1906.0L1303.0 1894.7L1303.8 1881.4L1305.2 1868.2L1306.5 1876.1L1307.7 1872.6L1308.8 1862.1L1310.0 1861.2L1311.2 1821.7L1312.4 1781.3L1313.5 1821.7L1314.2 1872.6L1314.9 1894.6L1316.1 1911.2L1317.4 1902.5L1318.8 1894.6L1319.6 1881.4L1320.5 1862.1L1321.9 1841.9L1323.2 1851.5L1324.4 1870.8L1325.8 1874.4L1327.2 1888.4L1328.4 1891.9L1329.0 1894.4L1330.2 1923.5L1331.4 1942.9L1332.8 1932.3L1334.2 1942.9L1335.1 1909.5L1336.0 1894.4L1336.7 1860.3L1337.6 1851.5L1338.6 1847.1L1339.5 1874.4L1340.2 1894.3L1340.7 1916.5L1341.6 1944.6L1342.5 1920.0L1343.7 1914.8L1345.1 1907.7L1346.3 1927.0L1347.4 1921.8L1348.6 1906.0L1349.5 1902.5L1350.4 1953.4L1351.8 1962.2L1353.0 1964.8L1354.2 1955.2L1356.0 1953.4L1357.1 1935.8L1358.3 1894.1L1359.2 1856.8L1360.4 1804.1L1361.5 1740.9L1362.3 1696.9L1363.6 1690.8L1364.4 1698.7L1365.5 1696.9L1366.5 1688.2L1367.4 1716.3L1368.3 1739.1L1369.4 1738.2L1370.6 1722.4L1371.5 1783.0L1372.3 1821.7L1373.2 1860.3L1374.1 1876.1L1375.0 1894.0L1376.0 1906.0L1377.1 1913.0L1377.8 1893.9L1378.5 1883.1L1379.2 1909.5L1379.9 1937.6L1381.1 1939.3L1382.4 1946.4L1383.4 1951.6L1384.6 1935.8L1385.9 1927.0L1387.3 1909.5L1388.2 1893.8L1388.7 1881.4L1389.4 1893.8L1390.4 1920.0L1391.3 1939.3L1392.5 1920.0L1393.8 1919.1L1394.6 1941.1L1395.7 1920.0L1396.6 1893.7L1397.5 1862.1L1398.3 1838.3L1399.0 1893.7L1399.9 1927.0L1401.0 1942.9L1402.2 1942.9L1403.3 1956.9L1404.3 1934.1L1405.7 1930.6L1406.6 1893.6L1407.5 1840.1L1408.4 1856.8L1409.1 1893.6L1410.1 1897.2L1411.3 1925.3L1412.2 1897.2L1412.9 1893.5L1413.3 1865.6L1414.3 1860.3L1415.0 1893.5L1416.3 1900.7L1417.5 1930.6L1418.5 1972.7L1419.4 1927.0L1420.6 1909.5L1421.5 1893.5L1422.4 1884.9L1423.5 1876.1L1424.5 1884.9L1425.2 1893.4L1426.3 1909.5L1427.3 1920.0L1428.6 1952.5L1429.8 1935.8L1430.0 1941.0L1430.6 1921.0L1431.2 1908.5L1431.9 1893.3L1432.5 1879.8L1433.1 1877.2L1434.0 1893.3L1434.8 1908.5L1435.6 1926.0L1436.5 1919.8L1437.1 1893.3L1437.5 1887.2L1437.9 1893.3L1438.5 1914.8L1439.8 1915.4L1440.6 1916.0L1441.5 1944.8L1442.5 1936.0L1443.4 1908.5L1444.0 1893.2L1444.6 1883.5L1445.5 1879.8L1446.0 1893.2L1446.5 1951.0L1447.1 1906.0L1447.9 1893.2L1448.5 1877.2L1449.4 1852.2L1450.4 1842.2L1451.4 1829.1L1452.1 1849.8L1453.1 1864.8L1454.0 1887.2L1454.8 1889.8L1455.2 1893.1L1455.6 1933.5L1456.5 1958.5L1457.5 1961.0L1458.5 1957.2L1459.4 1969.8L1460.4 1987.2L1461.2 1994.8L1462.0 1971.0L1462.8 1968.5L1463.1 1908.5L1463.8 1893.0L1464.4 1862.2L1465.0 1871.0L1465.6 1869.8L1466.5 1871.0L1467.2 1858.5L1468.4 1842.2L1469.1 1856.0L1469.8 1856.6L1470.2 1892.9L1471.0 1899.8L1471.6 1904.8L1472.5 1898.5L1473.5 1897.2L1474.4 1894.8L1474.8 1892.9L1475.4 1871.0L1476.2 1858.5L1477.2 1844.8L1478.1 1852.2L1479.0 1873.5L1480.0 1873.5L1481.0 1871.0L1481.9 1873.5L1482.8 1879.8L1483.5 1892.8L1484.0 1871.0L1484.6 1864.8L1485.0 1886.0L1485.6 1887.2L1486.0 1892.8L1486.5 1919.8L1487.2 1962.2L1488.1 1964.8L1488.8 1964.1L1489.5 1979.1L1490.2 1964.8L1491.0 1936.0L1491.8 1933.5L1492.2 1892.7L1492.9 1892.7L1493.5 1906.0L1494.0 1892.7L1494.5 1879.8L1495.1 1866.0L1495.8 1857.9L1496.4 1866.0L1497.0 1892.6L1497.5 1896.0L1498.2 1926.0L1499.4 1928.5L1500.6 1935.4L1501.2 1919.8L1502.0 1892.6L1502.5 1878.5L1503.2 1848.5L1504.0 1823.5L1504.8 1822.9L1505.5 1823.2L1506.2 1854.8L1507.0 1873.5L1507.8 1874.8L1508.2 1892.5L1509.0 1896.0L1509.8 1912.2L1510.6 1921.0L1511.2 1911.0L1512.0 1901.0L1512.5 1891.0L1512.9 1901.0L1513.5 1926.0L1514.4 1952.2L1515.0 1966.0L1515.6 1963.5L1516.5 1946.0L1517.2 1926.0L1518.1 1924.8L1518.8 1923.5L1519.4 1906.0L1520.0 1892.4L1520.5 1878.5L1521.0 1892.4L1521.5 1922.2L1522.2 1921.0L1522.8 1916.0L1523.1 1892.4L1523.5 1863.5L1524.0 1841.0L1524.6 1817.2L1525.4 1828.5L1526.2 1842.2L1527.2 1854.8L1528.1 1856.6L1528.8 1857.2L1529.1 1892.3L1529.1 1892.3L140.9 1907.2Z" fill="#0000ff" shape-rendering="crispEdges" clip-path="url(#d3)"/>
<path d="M103.4 1589.45H1567.7M103.4 2107.35H1567.7" stroke="#161616" stroke-width="1.1" fill="none"/>
<path d="M135.95 1589.45V2107.35M1535.2 1589.45V2107.35" stroke="#1c1c1c" stroke-width="1.25" fill="none"/>
<path d="M119.94999999999999 2081.5H135.95M1535.2 2081.5H1551.2M119.94999999999999 2055.6H135.95M1535.2 2055.6H1551.2M119.94999999999999 2029.7H135.95M1535.2 2029.7H1551.2M119.94999999999999 1977.9H135.95M1535.2 1977.9H1551.2M119.94999999999999 1952.0H135.95M1535.2 1952.0H1551.2M119.94999999999999 1926.1H135.95M1535.2 1926.1H1551.2M119.94999999999999 1874.3H135.95M1535.2 1874.3H1551.2M119.94999999999999 1848.4H135.95M1535.2 1848.4H1551.2M119.94999999999999 1822.5H135.95M1535.2 1822.5H1551.2M119.94999999999999 1770.7H135.95M1535.2 1770.7H1551.2M119.94999999999999 1744.8H135.95M1535.2 1744.8H1551.2M119.94999999999999 1718.9H135.95M1535.2 1718.9H1551.2M119.94999999999999 1667.1H135.95M1535.2 1667.1H1551.2M119.94999999999999 1641.2H135.95M1535.2 1641.2H1551.2M119.94999999999999 1615.3H135.95M1535.2 1615.3H1551.2M140.6 1573.45V1589.45M140.6 2107.35V2123.3M236.5 1573.45V1589.45M236.5 2107.35V2123.3M428.2 1573.45V1589.45M428.2 2107.35V2123.3M524.0 1573.45V1589.45M524.0 2107.35V2123.3M715.8 1573.45V1589.45M715.8 2107.35V2123.3M811.6 1573.45V1589.45M811.6 2107.35V2123.3M1003.4 1573.45V1589.45M1003.4 2107.35V2123.3M1099.2 1573.45V1589.45M1099.2 2107.35V2123.3M1290.9 1573.45V1589.45M1290.9 2107.35V2123.3M1386.8 1573.45V1589.45M1386.8 2107.35V2123.3" stroke="#555" stroke-width="0.9" fill="none"/>
<path d="M103.44999999999999 2003.8H135.95M1535.2 2003.8H1567.7M103.44999999999999 1900.2H135.95M1535.2 1900.2H1567.7M103.44999999999999 1796.6H135.95M1535.2 1796.6H1567.7M103.44999999999999 1693.0H135.95M1535.2 1693.0H1567.7M332.3 1556.95V1589.45M332.3 2107.35V2139.8M619.9 1556.95V1589.45M619.9 2107.35V2139.8M907.5 1556.95V1589.45M907.5 2107.35V2139.8M1195.1 1556.95V1589.45M1195.1 2107.35V2139.8M1482.7 1556.95V1589.45M1482.7 2107.35V2139.8" stroke="#222" stroke-width="1.2" fill="none"/>
<path d="M38.0 1593.2L39.0 1597.3L41.0 1599.3L44.1 1600.4L45.1 1600.4L48.2 1599.3L50.3 1597.3L51.3 1594.2L51.3 1593.2L50.3 1590.1L48.2 1588.1L45.1 1587.0L44.1 1587.0L41.0 1588.1L39.0 1590.1L38.0 1593.2M50.3 1581.9L49.2 1579.9L46.2 1578.9L44.1 1578.9L41.0 1579.9L39.0 1582.9L38.0 1588.1L38.0 1593.2M74.8 1578.9L75.9 1578.9L78.9 1579.9L81.0 1582.9L82.0 1588.1L82.0 1591.1L81.0 1596.3L78.9 1599.3L75.9 1600.4L73.8 1600.4L70.7 1599.3L68.7 1596.3L67.7 1591.1L67.7 1588.1L68.7 1582.9L70.7 1579.9L73.8 1578.9L74.8 1578.9M47.2 1682.4L37.0 1696.8M37.0 1696.8L47.2 1696.8M47.2 1682.4L47.2 1696.8M47.2 1703.9L47.2 1696.8M47.2 1696.8L52.3 1696.8M74.8 1682.4L75.9 1682.4L78.9 1683.5L81.0 1686.5L82.0 1691.6L82.0 1694.7L81.0 1699.8L78.9 1702.9L75.9 1703.9L73.8 1703.9L70.7 1702.9L68.7 1699.8L67.7 1694.7L67.7 1691.6L68.7 1686.5L70.7 1683.5L73.8 1682.4L74.8 1682.4M38.0 1791.1L38.0 1790.1L39.0 1788.1L40.0 1787.0L42.1 1786.0L46.2 1786.0L48.2 1787.0L49.2 1788.1L50.3 1790.1L50.3 1792.2L47.2 1797.3L37.0 1807.5M37.0 1807.5L51.3 1807.5M74.8 1786.0L75.9 1786.0L78.9 1787.0L81.0 1790.1L82.0 1795.2L82.0 1798.3L81.0 1803.4L78.9 1806.5L75.9 1807.5L73.8 1807.5L70.7 1806.5L68.7 1803.4L67.7 1798.3L67.7 1795.2L68.7 1790.1L70.7 1787.0L73.8 1786.0L74.8 1786.0M44.1 1889.6L45.1 1889.6L48.2 1890.6L50.3 1893.7L51.3 1898.8L51.3 1901.9L50.3 1907.0L48.2 1910.1L45.1 1911.1L43.1 1911.1L40.0 1910.1L38.0 1907.0L37.0 1901.9L37.0 1898.8L38.0 1893.7L40.0 1890.6L43.1 1889.6L44.1 1889.6M74.8 1889.6L75.9 1889.6L78.9 1890.6L81.0 1893.7L82.0 1898.8L82.0 1901.9L81.0 1907.0L78.9 1910.1L75.9 1911.1L73.8 1911.1L70.7 1910.1L68.7 1907.0L67.7 1901.9L67.7 1898.8L68.7 1893.7L70.7 1890.6L73.8 1889.6L74.8 1889.6M11.4 2005.5L29.8 2005.5M38.0 1998.3L38.0 1997.3L39.0 1995.2L40.0 1994.2L42.1 1993.2L46.2 1993.2L48.2 1994.2L49.2 1995.2L50.3 1997.3L50.3 1999.3L47.2 2004.4L37.0 2014.7M37.0 2014.7L51.3 2014.7M74.8 1993.2L75.9 1993.2L78.9 1994.2L81.0 1997.3L82.0 2002.4L82.0 2005.5L81.0 2010.6L78.9 2013.6L75.9 2014.7L73.8 2014.7L70.7 2013.6L68.7 2010.6L67.7 2005.5L67.7 2002.4L68.7 1997.3L70.7 1994.2L73.8 1993.2L74.8 1993.2M11.4 2109.0L29.8 2109.0M47.2 2096.8L37.0 2111.1M37.0 2111.1L47.2 2111.1M47.2 2096.8L47.2 2111.1M47.2 2118.2L47.2 2111.1M47.2 2111.1L52.3 2111.1M74.8 2096.8L75.9 2096.8L78.9 2097.8L81.0 2100.8L82.0 2106.0L82.0 2109.0L81.0 2114.2L78.9 2117.2L75.9 2118.2L73.8 2118.2L70.7 2117.2L68.7 2114.2L67.7 2109.0L67.7 2106.0L68.7 2100.8L70.7 2097.8L73.8 2096.8L74.8 2096.8M301.1 2182.3L301.1 2160.8M296.0 2164.9L298.0 2163.9L301.1 2160.8M320.6 2170.1L324.6 2171.1L326.7 2173.1L327.7 2175.2L327.7 2178.3L326.7 2180.3L325.7 2181.3L322.6 2182.3L318.5 2182.3L315.4 2181.3L314.4 2180.3L313.4 2178.3L313.4 2175.2L314.4 2173.1L316.5 2171.1L320.6 2170.1M320.6 2170.1L323.6 2169.0L325.7 2168.0L326.7 2166.0L326.7 2163.9L325.7 2161.9L322.6 2160.8L318.5 2160.8L315.4 2161.9L314.4 2163.9L314.4 2166.0L315.4 2168.0L317.5 2169.0L320.6 2170.1M347.2 2168.0L347.2 2173.1L346.1 2178.3L344.1 2181.3L341.0 2182.3L339.0 2182.3L335.9 2181.3L334.9 2179.3M347.2 2168.0L346.1 2171.1L344.1 2173.1L341.0 2174.2L340.0 2174.2L336.9 2173.1L334.9 2171.1L333.9 2168.0L333.9 2167.0L334.9 2163.9L336.9 2161.9L340.0 2160.8L341.0 2160.8L344.1 2161.9L346.1 2163.9L347.2 2168.0M361.5 2160.8L362.5 2160.8L365.6 2161.9L367.6 2164.9L368.7 2170.1L368.7 2173.1L367.6 2178.3L365.6 2181.3L362.5 2182.3L360.5 2182.3L357.4 2181.3L355.4 2178.3L354.3 2173.1L354.3 2170.1L355.4 2164.9L357.4 2161.9L360.5 2160.8L361.5 2160.8M588.7 2182.3L588.7 2160.8M583.6 2164.9L585.6 2163.9L588.7 2160.8M614.3 2168.0L614.3 2173.1L613.3 2178.3L611.2 2181.3L608.1 2182.3L606.1 2182.3L603.0 2181.3L602.0 2179.3M614.3 2168.0L613.3 2171.1L611.2 2173.1L608.1 2174.2L607.1 2174.2L604.0 2173.1L602.0 2171.1L601.0 2168.0L601.0 2167.0L602.0 2163.9L604.0 2161.9L607.1 2160.8L608.1 2160.8L611.2 2161.9L613.3 2163.9L614.3 2168.0M622.5 2166.0L622.5 2164.9L623.5 2162.9L624.5 2161.9L626.6 2160.8L630.7 2160.8L632.7 2161.9L633.7 2162.9L634.8 2164.9L634.8 2167.0L631.7 2172.1L621.4 2182.3M621.4 2182.3L635.8 2182.3M649.1 2160.8L650.1 2160.8L653.2 2161.9L655.2 2164.9L656.3 2170.1L656.3 2173.1L655.2 2178.3L653.2 2181.3L650.1 2182.3L648.1 2182.3L645.0 2181.3L642.9 2178.3L641.9 2173.1L641.9 2170.1L642.9 2164.9L645.0 2161.9L648.1 2160.8L649.1 2160.8M876.3 2182.3L876.3 2160.8M871.2 2164.9L873.2 2163.9L876.3 2160.8M901.9 2168.0L901.9 2173.1L900.8 2178.3L898.8 2181.3L895.7 2182.3L893.7 2182.3L890.6 2181.3L889.6 2179.3M901.9 2168.0L900.8 2171.1L898.8 2173.1L895.7 2174.2L894.7 2174.2L891.6 2173.1L889.6 2171.1L888.6 2168.0L888.6 2167.0L889.6 2163.9L891.6 2161.9L894.7 2160.8L895.7 2160.8L898.8 2161.9L900.8 2163.9L901.9 2168.0M909.0 2178.3L910.1 2180.3L911.1 2181.3L914.2 2182.3L917.2 2182.3L920.3 2181.3L922.3 2179.3L923.4 2176.2L923.4 2174.2L922.3 2171.1L920.3 2169.0L917.2 2168.0L914.2 2168.0L911.1 2169.0L910.1 2170.1M910.1 2170.1L911.1 2160.8L921.3 2160.8M936.7 2160.8L937.7 2160.8L940.8 2161.9L942.8 2164.9L943.8 2170.1L943.8 2173.1L942.8 2178.3L940.8 2181.3L937.7 2182.3L935.7 2182.3L932.6 2181.3L930.5 2178.3L929.5 2173.1L929.5 2170.1L930.5 2164.9L932.6 2161.9L935.7 2160.8L936.7 2160.8M1163.9 2182.3L1163.9 2160.8M1158.7 2164.9L1160.8 2163.9L1163.9 2160.8M1189.5 2168.0L1189.5 2173.1L1188.4 2178.3L1186.4 2181.3L1183.3 2182.3L1181.3 2182.3L1178.2 2181.3L1177.2 2179.3M1189.5 2168.0L1188.4 2171.1L1186.4 2173.1L1183.3 2174.2L1182.3 2174.2L1179.2 2173.1L1177.2 2171.1L1176.1 2168.0L1176.1 2167.0L1177.2 2163.9L1179.2 2161.9L1182.3 2160.8L1183.3 2160.8L1186.4 2161.9L1188.4 2163.9L1189.5 2168.0M1203.8 2170.1L1207.9 2171.1L1209.9 2173.1L1211.0 2175.2L1211.0 2178.3L1209.9 2180.3L1208.9 2181.3L1205.8 2182.3L1201.7 2182.3L1198.7 2181.3L1197.6 2180.3L1196.6 2178.3L1196.6 2175.2L1197.6 2173.1L1199.7 2171.1L1203.8 2170.1M1203.8 2170.1L1206.9 2169.0L1208.9 2168.0L1209.9 2166.0L1209.9 2163.9L1208.9 2161.9L1205.8 2160.8L1201.7 2160.8L1198.7 2161.9L1197.6 2163.9L1197.6 2166.0L1198.7 2168.0L1200.7 2169.0L1203.8 2170.1M1224.3 2160.8L1225.3 2160.8L1228.4 2161.9L1230.4 2164.9L1231.4 2170.1L1231.4 2173.1L1230.4 2178.3L1228.4 2181.3L1225.3 2182.3L1223.2 2182.3L1220.2 2181.3L1218.1 2178.3L1217.1 2173.1L1217.1 2170.1L1218.1 2164.9L1220.2 2161.9L1223.2 2160.8L1224.3 2160.8M1445.8 2166.0L1445.8 2164.9L1446.8 2162.9L1447.9 2161.9L1449.9 2160.8L1454.0 2160.8L1456.0 2161.9L1457.1 2162.9L1458.1 2164.9L1458.1 2167.0L1455.0 2172.1L1444.8 2182.3M1444.8 2182.3L1459.1 2182.3M1472.4 2160.8L1473.5 2160.8L1476.5 2161.9L1478.6 2164.9L1479.6 2170.1L1479.6 2173.1L1478.6 2178.3L1476.5 2181.3L1473.5 2182.3L1471.4 2182.3L1468.3 2181.3L1466.3 2178.3L1465.3 2173.1L1465.3 2170.1L1466.3 2164.9L1468.3 2161.9L1471.4 2160.8L1472.4 2160.8M1493.9 2182.3L1493.9 2160.8M1488.8 2164.9L1490.9 2163.9L1493.9 2160.8M1513.4 2160.8L1514.4 2160.8L1517.5 2161.9L1519.5 2164.9L1520.5 2170.1L1520.5 2173.1L1519.5 2178.3L1517.5 2181.3L1514.4 2182.3L1512.4 2182.3L1509.3 2181.3L1507.2 2178.3L1506.2 2173.1L1506.2 2170.1L1507.2 2164.9L1509.3 2161.9L1512.4 2160.8L1513.4 2160.8M152.7 1531.3L149.9 1528.5L147.1 1527.1L143.0 1527.1L140.2 1528.5L137.4 1531.3L136.0 1535.4L136.0 1538.2L137.4 1542.4L140.2 1545.2L143.0 1546.6L147.1 1546.6L149.9 1545.2L152.7 1542.4M152.7 1531.3L152.7 1542.4M152.7 1531.3L152.7 1527.1M152.7 1542.4L152.7 1546.6M179.1 1546.6L179.1 1532.6M163.8 1527.1L163.8 1532.6M179.1 1532.6L183.3 1528.5L186.0 1527.1L190.2 1527.1L193.0 1528.5L194.4 1532.6L194.4 1546.6M179.1 1532.6L177.7 1528.5L174.9 1527.1L170.8 1527.1L168.0 1528.5L163.8 1532.6M163.8 1546.6L163.8 1532.6M205.5 1546.6L205.5 1527.1M216.6 1542.4L219.4 1545.2L222.2 1546.6L226.4 1546.6L229.1 1545.2L231.9 1542.4L233.3 1538.2L233.3 1535.4L231.9 1531.3L229.1 1528.5L226.4 1527.1L222.2 1527.1L219.4 1528.5L216.6 1531.3M216.6 1542.4L216.6 1556.4M216.6 1542.4L216.6 1531.3M216.6 1531.3L216.6 1527.1M261.1 1546.6L250.0 1517.3M256.9 1536.8L243.0 1536.8M238.9 1546.6L250.0 1517.3M277.8 1546.6L277.8 1517.3M270.8 1522.9L273.6 1521.5L277.8 1517.3M1311.3 1524.8L1312.4 1524.8L1315.6 1525.9L1317.8 1529.3L1318.9 1535.0L1318.9 1538.3L1317.8 1544.0L1315.6 1547.4L1312.4 1548.5L1310.3 1548.5L1307.0 1547.4L1304.9 1544.0L1303.8 1538.3L1303.8 1535.0L1304.9 1529.3L1307.0 1525.9L1310.3 1524.8L1311.3 1524.8M1343.6 1533.8L1346.9 1533.8L1349.0 1535.0L1350.1 1536.1L1351.2 1539.5L1351.2 1541.7L1350.1 1545.1L1347.9 1547.4L1344.7 1548.5L1341.5 1548.5L1338.2 1547.4L1337.2 1546.2L1336.1 1544.0M1343.6 1533.8L1350.1 1524.8M1350.1 1524.8L1338.2 1524.8M1366.2 1548.5L1366.2 1524.8M1360.9 1529.3L1363.0 1528.2L1366.2 1524.8M1395.3 1542.9L1394.2 1545.1L1392.1 1547.4L1389.9 1548.5L1385.6 1548.5L1383.5 1547.4L1381.3 1545.1L1379.2 1539.5L1379.2 1533.8L1381.3 1528.2L1383.5 1525.9L1385.6 1524.8L1389.9 1524.8L1392.1 1525.9L1394.2 1528.2L1395.3 1530.4M1427.6 1548.5L1427.6 1524.8M1422.2 1529.3L1424.4 1528.2L1427.6 1524.8M1451.3 1524.8L1440.5 1540.6M1440.5 1540.6L1451.3 1540.6M1451.3 1524.8L1451.3 1540.6M1451.3 1548.5L1451.3 1540.6M1451.3 1540.6L1456.7 1540.6M1462.1 1544.0L1463.1 1546.2L1464.2 1547.4L1467.4 1548.5L1470.7 1548.5L1473.9 1547.4L1476.0 1545.1L1477.1 1541.7L1477.1 1539.5L1476.0 1536.1L1473.9 1533.8L1470.7 1532.7L1467.4 1532.7L1464.2 1533.8L1463.1 1535.0M1463.1 1535.0L1464.2 1524.8L1475.0 1524.8M1482.5 1532.7L1489.0 1548.5M1495.4 1532.7L1489.0 1548.5M1489.0 1548.5L1486.8 1553.0L1484.7 1555.3L1482.5 1556.4L1481.4 1556.4M1510.5 1532.7L1507.3 1532.7L1505.1 1533.8L1503.0 1536.1L1501.9 1539.5M1501.9 1539.5L1501.9 1548.5M1501.9 1532.7L1501.9 1539.5M1514.0 1527.7L1525.3 1527.7M1534.8 1534.3L1534.8 1518.8M1531.6 1521.8L1532.9 1521.0L1534.8 1518.8" stroke="#707070" stroke-width="1.0" fill="none" stroke-linecap="round" stroke-linejoin="round"/>
<path d="M58.6 183.3a0.90 0.90 0 1 0 1.80 0a0.90 0.90 0 1 0 -1.80 0ZM58.6 286.9a0.90 0.90 0 1 0 1.80 0a0.90 0.90 0 1 0 -1.80 0ZM58.6 390.5a0.90 0.90 0 1 0 1.80 0a0.90 0.90 0 1 0 -1.80 0ZM58.6 494.1a0.90 0.90 0 1 0 1.80 0a0.90 0.90 0 1 0 -1.80 0ZM58.6 597.6a0.90 0.90 0 1 0 1.80 0a0.90 0.90 0 1 0 -1.80 0ZM58.6 701.2a0.90 0.90 0 1 0 1.80 0a0.90 0.90 0 1 0 -1.80 0ZM1335.6 132.1a0.91 0.91 0 1 0 1.83 0a0.91 0.91 0 1 0 -1.83 0ZM56.6 891.3a0.90 0.90 0 1 0 1.80 0a0.90 0.90 0 1 0 -1.80 0ZM56.6 994.9a0.90 0.90 0 1 0 1.80 0a0.90 0.90 0 1 0 -1.80 0ZM56.6 1098.5a0.90 0.90 0 1 0 1.80 0a0.90 0.90 0 1 0 -1.80 0ZM56.6 1202.1a0.90 0.90 0 1 0 1.80 0a0.90 0.90 0 1 0 -1.80 0ZM56.6 1305.6a0.90 0.90 0 1 0 1.80 0a0.90 0.90 0 1 0 -1.80 0ZM56.6 1409.2a0.90 0.90 0 1 0 1.80 0a0.90 0.90 0 1 0 -1.80 0ZM1443.6 837.1a0.90 0.90 0 1 0 1.80 0a0.90 0.90 0 1 0 -1.80 0ZM58.6 1599.3a0.90 0.90 0 1 0 1.80 0a0.90 0.90 0 1 0 -1.80 0ZM58.6 1702.9a0.90 0.90 0 1 0 1.80 0a0.90 0.90 0 1 0 -1.80 0ZM58.6 1806.5a0.90 0.90 0 1 0 1.80 0a0.90 0.90 0 1 0 -1.80 0ZM58.6 1910.1a0.90 0.90 0 1 0 1.80 0a0.90 0.90 0 1 0 -1.80 0ZM58.6 2013.6a0.90 0.90 0 1 0 1.80 0a0.90 0.90 0 1 0 -1.80 0ZM58.6 2117.2a0.90 0.90 0 1 0 1.80 0a0.90 0.90 0 1 0 -1.80 0ZM204.4 1517.3a1.12 1.12 0 1 0 2.23 0a1.12 1.12 0 1 0 -2.23 0ZM1326.6 1547.4a0.90 0.90 0 1 0 1.81 0a0.90 0.90 0 1 0 -1.81 0Z" fill="#707070" stroke="none"/>
</svg>
</body></html>
